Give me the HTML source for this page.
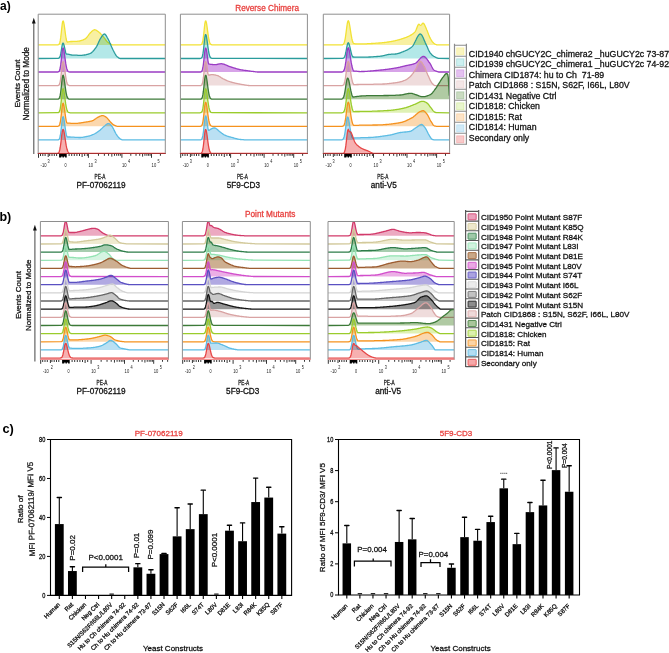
<!DOCTYPE html>
<html><head><meta charset="utf-8"><title>Figure</title><style>html,body{margin:0;padding:0;background:#fff;width:669px;height:653px;overflow:hidden}svg{display:block;will-change:transform}</style></head><body>
<svg width="669" height="653" viewBox="0 0 669 653" font-family='"Liberation Sans", sans-serif'>
<rect width="669" height="653" fill="#fff"/>
<text x="0" y="10.2" font-size="12" font-weight="bold" fill="#000">a)</text>
<text x="-0.6" y="220.6" font-size="12.5" font-weight="bold" fill="#000">b)</text>
<text x="2.4" y="433.4" font-size="12.8" font-weight="bold" fill="#000">c)</text>
<clipPath id="clip14_0"><rect x="38.2" y="14.2" width="127.1" height="139.8"/></clipPath>
<g clip-path="url(#clip14_0)">
<path d="M38.2,44.9 L38.2,44.9 57.7,44.9 58.2,44.8 58.7,44.5 59.2,44 59.7,42.9 60.2,40.9 60.7,37.7 61.2,33.4 61.7,28.6 62.2,24.2 62.7,21.4 63.2,20.9 63.7,22.3 64.2,25 64.7,28.6 65.2,32.4 65.7,36 66.2,39 66.7,41.1 67.2,42 67.7,42 68.2,41.9 68.7,41.8 69.2,41.7 69.7,41.6 70.2,41.6 70.7,41.5 71.2,41.5 71.7,41.5 72.2,41.5 72.7,41.4 73.2,41.4 73.7,41.4 74.2,41.4 74.7,41.4 75.2,41.4 75.7,41.4 76.2,41.3 76.7,41.3 77.2,41.3 77.7,41.2 78.2,41.2 78.7,41.1 79.2,41.1 79.7,41 80.2,40.9 80.7,40.7 81.2,40.6 81.7,40.4 82.2,40.2 82.7,40.1 83.2,39.9 83.7,39.6 84.2,39.4 84.7,39.2 85.2,38.9 85.7,38.5 86.2,38.1 86.7,37.5 87.2,36.9 87.7,36.2 88.2,35.6 88.7,34.9 89.2,34.2 89.7,33.6 90.2,33 90.7,32.4 91.2,32 91.7,31.5 92.2,31.1 92.7,30.7 93.2,30.3 93.7,30 94.2,29.8 94.7,29.7 95.2,29.8 95.7,30 96.2,30.2 96.7,30.5 97.2,30.9 97.7,31.2 98.2,31.6 98.7,31.9 99.2,32.4 99.7,32.8 100.2,33.3 100.7,33.8 101.2,34.4 101.7,34.9 102.2,35.5 102.7,36.1 103.2,36.6 103.7,37.2 104.2,37.8 104.7,38.4 105.2,39.1 105.7,39.8 106.2,40.5 106.7,41.1 107.2,41.7 107.7,42.2 108.2,42.6 108.7,42.9 109.2,43.3 109.7,43.6 110.2,43.9 110.7,44.2 111.2,44.4 111.7,44.6 112.2,44.8 112.7,44.9 165.2,44.9 L165.3,44.9 Z" fill="#f7ef9a" fill-opacity="0.92" stroke="none" style="mix-blend-mode:multiply"/>
<path d="M38.2,44.9 57.7,44.9 58.2,44.8 58.7,44.5 59.2,44 59.7,42.9 60.2,40.9 60.7,37.7 61.2,33.4 61.7,28.6 62.2,24.2 62.7,21.4 63.2,20.9 63.7,22.3 64.2,25 64.7,28.6 65.2,32.4 65.7,36 66.2,39 66.7,41.1 67.2,42 67.7,42 68.2,41.9 68.7,41.8 69.2,41.7 69.7,41.6 70.2,41.6 70.7,41.5 71.2,41.5 71.7,41.5 72.2,41.5 72.7,41.4 73.2,41.4 73.7,41.4 74.2,41.4 74.7,41.4 75.2,41.4 75.7,41.4 76.2,41.3 76.7,41.3 77.2,41.3 77.7,41.2 78.2,41.2 78.7,41.1 79.2,41.1 79.7,41 80.2,40.9 80.7,40.7 81.2,40.6 81.7,40.4 82.2,40.2 82.7,40.1 83.2,39.9 83.7,39.6 84.2,39.4 84.7,39.2 85.2,38.9 85.7,38.5 86.2,38.1 86.7,37.5 87.2,36.9 87.7,36.2 88.2,35.6 88.7,34.9 89.2,34.2 89.7,33.6 90.2,33 90.7,32.4 91.2,32 91.7,31.5 92.2,31.1 92.7,30.7 93.2,30.3 93.7,30 94.2,29.8 94.7,29.7 95.2,29.8 95.7,30 96.2,30.2 96.7,30.5 97.2,30.9 97.7,31.2 98.2,31.6 98.7,31.9 99.2,32.4 99.7,32.8 100.2,33.3 100.7,33.8 101.2,34.4 101.7,34.9 102.2,35.5 102.7,36.1 103.2,36.6 103.7,37.2 104.2,37.8 104.7,38.4 105.2,39.1 105.7,39.8 106.2,40.5 106.7,41.1 107.2,41.7 107.7,42.2 108.2,42.6 108.7,42.9 109.2,43.3 109.7,43.6 110.2,43.9 110.7,44.2 111.2,44.4 111.7,44.6 112.2,44.8 112.7,44.9 165.2,44.9" fill="none" stroke="#f2e234" stroke-width="1.3" stroke-linejoin="round"/>
<path d="M38.2,58.5 L38.2,58.5 57.7,58.4 58.2,58.4 58.7,58.2 59.2,57.9 59.7,57.2 60.2,55.9 60.7,53.9 61.2,51.1 61.7,48 62.2,45.2 62.7,43.4 63.2,43.1 63.7,44 64.2,45.8 64.7,48.1 65.2,50.5 65.7,52.7 66.2,53.9 66.7,54.1 67.2,54.1 67.7,54.1 68.2,54.2 68.7,54.3 69.2,54.4 69.7,54.6 70.2,54.7 70.7,54.8 71.2,54.9 71.7,55 72.2,55.1 72.7,55.1 73.2,55.1 73.7,55.1 74.2,55.1 74.7,55.2 75.2,55.2 75.7,55.2 76.2,55.2 76.7,55.2 77.2,55.2 77.7,55.3 78.2,55.3 78.7,55.3 79.2,55.3 79.7,55.3 80.2,55.3 80.7,55.3 81.2,55.3 81.7,55.3 82.2,55.3 82.7,55.2 83.2,55.2 83.7,55.1 84.2,55 84.7,55 85.2,54.9 85.7,54.8 86.2,54.7 86.7,54.5 87.2,54.4 87.7,54.3 88.2,54.1 88.7,54 89.2,53.8 89.7,53.7 90.2,53.5 90.7,53.2 91.2,52.9 91.7,52.5 92.2,52.1 92.7,51.6 93.2,51 93.7,50.5 94.2,49.8 94.7,49.2 95.2,48.5 95.7,47.9 96.2,47.1 96.7,46.3 97.2,45.4 97.7,44.3 98.2,43.2 98.7,42.1 99.2,41 99.7,39.9 100.2,39 100.7,38.1 101.2,37.4 101.7,36.6 102.2,35.9 102.7,35.2 103.2,34.7 103.7,34.3 104.2,34 104.7,34.1 105.2,34.4 105.7,35 106.2,35.7 106.7,36.5 107.2,37.5 107.7,38.4 108.2,39.2 108.7,40.2 109.2,41.2 109.7,42.4 110.2,43.5 110.7,44.7 111.2,45.9 111.7,47.1 112.2,48.2 112.7,49.3 113.2,50.3 113.7,51.2 114.2,52.2 114.7,53.1 115.2,54 115.7,54.8 116.2,55.6 116.7,56.2 117.2,56.7 117.7,57.1 118.2,57.5 118.7,57.9 119.2,58.2 119.7,58.4 120.2,58.5 165.2,58.5 L165.3,58.5 Z" fill="#ade6e6" fill-opacity="0.92" stroke="none" style="mix-blend-mode:multiply"/>
<path d="M38.2,58.5 57.7,58.4 58.2,58.4 58.7,58.2 59.2,57.9 59.7,57.2 60.2,55.9 60.7,53.9 61.2,51.1 61.7,48 62.2,45.2 62.7,43.4 63.2,43.1 63.7,44 64.2,45.8 64.7,48.1 65.2,50.5 65.7,52.7 66.2,53.9 66.7,54.1 67.2,54.1 67.7,54.1 68.2,54.2 68.7,54.3 69.2,54.4 69.7,54.6 70.2,54.7 70.7,54.8 71.2,54.9 71.7,55 72.2,55.1 72.7,55.1 73.2,55.1 73.7,55.1 74.2,55.1 74.7,55.2 75.2,55.2 75.7,55.2 76.2,55.2 76.7,55.2 77.2,55.2 77.7,55.3 78.2,55.3 78.7,55.3 79.2,55.3 79.7,55.3 80.2,55.3 80.7,55.3 81.2,55.3 81.7,55.3 82.2,55.3 82.7,55.2 83.2,55.2 83.7,55.1 84.2,55 84.7,55 85.2,54.9 85.7,54.8 86.2,54.7 86.7,54.5 87.2,54.4 87.7,54.3 88.2,54.1 88.7,54 89.2,53.8 89.7,53.7 90.2,53.5 90.7,53.2 91.2,52.9 91.7,52.5 92.2,52.1 92.7,51.6 93.2,51 93.7,50.5 94.2,49.8 94.7,49.2 95.2,48.5 95.7,47.9 96.2,47.1 96.7,46.3 97.2,45.4 97.7,44.3 98.2,43.2 98.7,42.1 99.2,41 99.7,39.9 100.2,39 100.7,38.1 101.2,37.4 101.7,36.6 102.2,35.9 102.7,35.2 103.2,34.7 103.7,34.3 104.2,34 104.7,34.1 105.2,34.4 105.7,35 106.2,35.7 106.7,36.5 107.2,37.5 107.7,38.4 108.2,39.2 108.7,40.2 109.2,41.2 109.7,42.4 110.2,43.5 110.7,44.7 111.2,45.9 111.7,47.1 112.2,48.2 112.7,49.3 113.2,50.3 113.7,51.2 114.2,52.2 114.7,53.1 115.2,54 115.7,54.8 116.2,55.6 116.7,56.2 117.2,56.7 117.7,57.1 118.2,57.5 118.7,57.9 119.2,58.2 119.7,58.4 120.2,58.5 165.2,58.5" fill="none" stroke="#2a9c9c" stroke-width="1.3" stroke-linejoin="round"/>
<path d="M38.2,72 L38.2,72 57.7,72 58.2,71.9 58.7,71.7 59.2,71.2 59.7,70.1 60.2,68 60.7,64.9 61.2,60.6 61.7,55.7 62.2,51.3 62.7,48.5 63.2,48 63.7,49.4 64.2,52.2 64.7,55.8 65.2,59.6 65.7,63.2 66.2,66.1 66.7,68.4 67.2,69.9 67.7,70.9 68.2,71.5 68.7,71.8 69.2,71.9 69.7,72 70.2,72 165.2,72 L165.3,72 Z" fill="#d49be6" fill-opacity="0.92" stroke="none" style="mix-blend-mode:multiply"/>
<path d="M38.2,72 57.7,72 58.2,71.9 58.7,71.7 59.2,71.2 59.7,70.1 60.2,68 60.7,64.9 61.2,60.6 61.7,55.7 62.2,51.3 62.7,48.5 63.2,48 63.7,49.4 64.2,52.2 64.7,55.8 65.2,59.6 65.7,63.2 66.2,66.1 66.7,68.4 67.2,69.9 67.7,70.9 68.2,71.5 68.7,71.8 69.2,71.9 69.7,72 70.2,72 165.2,72" fill="none" stroke="#9a3cc4" stroke-width="1.3" stroke-linejoin="round"/>
<path d="M38.2,85.6 L38.2,85.6 57.7,85.6 58.2,85.5 58.7,85.3 59.2,84.7 59.7,83.6 60.2,81.6 60.7,78.5 61.2,74.2 61.7,69.3 62.2,64.9 62.7,62.1 63.2,61.6 63.7,63 64.2,65.8 64.7,69.4 65.2,73.2 65.7,76.7 66.2,79.7 66.7,81.9 67.2,83.5 67.7,84.5 68.2,85 68.7,85.3 69.2,85.5 69.7,85.6 70.2,85.6 165.2,85.6 L165.3,85.6 Z" fill="#eed9d9" fill-opacity="0.92" stroke="none" style="mix-blend-mode:multiply"/>
<path d="M38.2,85.6 57.7,85.6 58.2,85.5 58.7,85.3 59.2,84.7 59.7,83.6 60.2,81.6 60.7,78.5 61.2,74.2 61.7,69.3 62.2,64.9 62.7,62.1 63.2,61.6 63.7,63 64.2,65.8 64.7,69.4 65.2,73.2 65.7,76.7 66.2,79.7 66.7,81.9 67.2,83.5 67.7,84.5 68.2,85 68.7,85.3 69.2,85.5 69.7,85.6 70.2,85.6 165.2,85.6" fill="none" stroke="#d9a3a3" stroke-width="1.3" stroke-linejoin="round"/>
<path d="M38.2,99.2 L38.2,99.2 57.7,99.2 58.2,99.1 58.7,98.8 59.2,98.3 59.7,97.2 60.2,95.2 60.7,92 61.2,87.7 61.7,82.9 62.2,78.5 62.7,75.7 63.2,75.2 63.7,76.6 64.2,79.3 64.7,82.9 65.2,86.7 65.7,90.3 66.2,93.3 66.7,95.5 67.2,97.1 67.7,98 68.2,98.6 68.7,98.9 69.2,99.1 69.7,99.1 70.2,99.2 165.2,99.2 L165.3,99.2 Z" fill="#a9c59b" fill-opacity="0.92" stroke="none" style="mix-blend-mode:multiply"/>
<path d="M38.2,99.2 57.7,99.2 58.2,99.1 58.7,98.8 59.2,98.3 59.7,97.2 60.2,95.2 60.7,92 61.2,87.7 61.7,82.9 62.2,78.5 62.7,75.7 63.2,75.2 63.7,76.6 64.2,79.3 64.7,82.9 65.2,86.7 65.7,90.3 66.2,93.3 66.7,95.5 67.2,97.1 67.7,98 68.2,98.6 68.7,98.9 69.2,99.1 69.7,99.1 70.2,99.2 165.2,99.2" fill="none" stroke="#3c7a38" stroke-width="1.3" stroke-linejoin="round"/>
<path d="M38.2,112.8 L38.2,112.8 57.7,112.7 58.2,112.7 58.7,112.4 59.2,111.9 59.7,110.8 60.2,108.8 60.7,105.6 61.2,101.3 61.7,96.5 62.2,92 62.7,89.2 63.2,88.7 63.7,90.1 64.2,92.9 64.7,96.5 65.2,100.3 65.7,103.9 66.2,106.8 66.7,109.1 67.2,110.6 67.7,111.6 68.2,112.2 68.7,112.5 69.2,112.7 69.7,112.7 70.2,112.8 165.2,112.8 L165.3,112.8 Z" fill="#dcf0ae" fill-opacity="0.92" stroke="none" style="mix-blend-mode:multiply"/>
<path d="M38.2,112.8 57.7,112.7 58.2,112.7 58.7,112.4 59.2,111.9 59.7,110.8 60.2,108.8 60.7,105.6 61.2,101.3 61.7,96.5 62.2,92 62.7,89.2 63.2,88.7 63.7,90.1 64.2,92.9 64.7,96.5 65.2,100.3 65.7,103.9 66.2,106.8 66.7,109.1 67.2,110.6 67.7,111.6 68.2,112.2 68.7,112.5 69.2,112.7 69.7,112.7 70.2,112.8 165.2,112.8" fill="none" stroke="#9acc2c" stroke-width="1.3" stroke-linejoin="round"/>
<path d="M38.2,126.3 L38.2,126.3 57.7,126.3 58.2,126.2 58.7,126 59.2,125.5 59.7,124.4 60.2,122.5 60.7,119.5 61.2,115.4 61.7,110.7 62.2,106.4 62.7,103.8 63.2,103.3 63.7,104.6 64.2,107.3 64.7,110.7 65.2,114.4 65.7,117.8 66.2,120.7 66.7,122.6 67.2,123.1 67.7,123.2 68.2,123.2 68.7,123.2 69.2,123.2 69.7,123.2 70.2,123.2 70.7,123.3 71.2,123.3 71.7,123.3 72.2,123.3 72.7,123.4 73.2,123.4 73.7,123.4 74.2,123.4 74.7,123.4 75.2,123.4 75.7,123.4 76.2,123.4 76.7,123.3 77.2,123.3 77.7,123.3 78.2,123.2 78.7,123.2 79.2,123.1 79.7,123 80.2,123 80.7,122.9 81.2,122.8 81.7,122.7 82.2,122.6 82.7,122.6 83.2,122.5 83.7,122.4 84.2,122.3 84.7,122.2 85.2,122.2 85.7,122.1 86.2,122 86.7,121.9 87.2,121.9 87.7,121.8 88.2,121.7 88.7,121.6 89.2,121.5 89.7,121.5 90.2,121.3 90.7,121.2 91.2,121.1 91.7,121 92.2,120.8 92.7,120.6 93.2,120.4 93.7,120.1 94.2,119.7 94.7,119.4 95.2,119 95.7,118.7 96.2,118.3 96.7,118 97.2,117.7 97.7,117.4 98.2,117.2 98.7,116.9 99.2,116.7 99.7,116.4 100.2,116.2 100.7,116 101.2,115.8 101.7,115.7 102.2,115.6 102.7,115.6 103.2,115.7 103.7,115.8 104.2,116 104.7,116.3 105.2,116.6 105.7,116.9 106.2,117.2 106.7,117.6 107.2,118.1 107.7,118.7 108.2,119.3 108.7,119.9 109.2,120.5 109.7,121.1 110.2,121.7 110.7,122.2 111.2,122.7 111.7,123.2 112.2,123.8 112.7,124.2 113.2,124.6 113.7,125 114.2,125.2 114.7,125.4 115.2,125.7 115.7,125.9 116.2,126 116.7,126.2 117.2,126.3 117.7,126.3 165.2,126.3 L165.3,126.3 Z" fill="#fbd4a6" fill-opacity="0.92" stroke="none" style="mix-blend-mode:multiply"/>
<path d="M38.2,126.3 57.7,126.3 58.2,126.2 58.7,126 59.2,125.5 59.7,124.4 60.2,122.5 60.7,119.5 61.2,115.4 61.7,110.7 62.2,106.4 62.7,103.8 63.2,103.3 63.7,104.6 64.2,107.3 64.7,110.7 65.2,114.4 65.7,117.8 66.2,120.7 66.7,122.6 67.2,123.1 67.7,123.2 68.2,123.2 68.7,123.2 69.2,123.2 69.7,123.2 70.2,123.2 70.7,123.3 71.2,123.3 71.7,123.3 72.2,123.3 72.7,123.4 73.2,123.4 73.7,123.4 74.2,123.4 74.7,123.4 75.2,123.4 75.7,123.4 76.2,123.4 76.7,123.3 77.2,123.3 77.7,123.3 78.2,123.2 78.7,123.2 79.2,123.1 79.7,123 80.2,123 80.7,122.9 81.2,122.8 81.7,122.7 82.2,122.6 82.7,122.6 83.2,122.5 83.7,122.4 84.2,122.3 84.7,122.2 85.2,122.2 85.7,122.1 86.2,122 86.7,121.9 87.2,121.9 87.7,121.8 88.2,121.7 88.7,121.6 89.2,121.5 89.7,121.5 90.2,121.3 90.7,121.2 91.2,121.1 91.7,121 92.2,120.8 92.7,120.6 93.2,120.4 93.7,120.1 94.2,119.7 94.7,119.4 95.2,119 95.7,118.7 96.2,118.3 96.7,118 97.2,117.7 97.7,117.4 98.2,117.2 98.7,116.9 99.2,116.7 99.7,116.4 100.2,116.2 100.7,116 101.2,115.8 101.7,115.7 102.2,115.6 102.7,115.6 103.2,115.7 103.7,115.8 104.2,116 104.7,116.3 105.2,116.6 105.7,116.9 106.2,117.2 106.7,117.6 107.2,118.1 107.7,118.7 108.2,119.3 108.7,119.9 109.2,120.5 109.7,121.1 110.2,121.7 110.7,122.2 111.2,122.7 111.7,123.2 112.2,123.8 112.7,124.2 113.2,124.6 113.7,125 114.2,125.2 114.7,125.4 115.2,125.7 115.7,125.9 116.2,126 116.7,126.2 117.2,126.3 117.7,126.3 165.2,126.3" fill="none" stroke="#f5921e" stroke-width="1.3" stroke-linejoin="round"/>
<path d="M38.2,139.9 L38.2,139.9 57.7,139.9 58.2,139.8 58.7,139.6 59.2,139.1 59.7,138 60.2,136 60.7,133 61.2,128.8 61.7,124.1 62.2,119.8 62.7,117.1 63.2,116.6 63.7,118 64.2,120.7 64.7,124.1 65.2,127.8 65.7,131.3 66.2,134.2 66.7,136.2 67.2,136.9 67.7,137 68.2,137 68.7,137 69.2,137 69.7,137 70.2,137 70.7,137.1 71.2,137.1 71.7,137.1 72.2,137.1 72.7,137.2 73.2,137.2 73.7,137.2 74.2,137.2 74.7,137.3 75.2,137.3 75.7,137.3 76.2,137.4 76.7,137.4 77.2,137.4 77.7,137.4 78.2,137.4 78.7,137.5 79.2,137.5 79.7,137.5 80.2,137.5 80.7,137.5 81.2,137.4 81.7,137.4 82.2,137.3 82.7,137.3 83.2,137.2 83.7,137.1 84.2,137 84.7,136.9 85.2,136.8 85.7,136.7 86.2,136.6 86.7,136.5 87.2,136.4 87.7,136.3 88.2,136.2 88.7,136.1 89.2,136 89.7,135.8 90.2,135.7 90.7,135.5 91.2,135.3 91.7,135.1 92.2,134.9 92.7,134.7 93.2,134.5 93.7,134.3 94.2,134 94.7,133.8 95.2,133.5 95.7,133.2 96.2,132.9 96.7,132.6 97.2,132.2 97.7,131.9 98.2,131.5 98.7,131.1 99.2,130.8 99.7,130.4 100.2,130 100.7,129.5 101.2,129.1 101.7,128.6 102.2,128.1 102.7,127.6 103.2,127.1 103.7,126.7 104.2,126.3 104.7,125.9 105.2,125.4 105.7,125 106.2,124.6 106.7,124.2 107.2,123.9 107.7,123.7 108.2,123.6 108.7,123.6 109.2,123.7 109.7,124 110.2,124.4 110.7,125 111.2,125.5 111.7,126.1 112.2,126.7 112.7,127.5 113.2,128.4 113.7,129.3 114.2,130.4 114.7,131.4 115.2,132.4 115.7,133.3 116.2,134.1 116.7,134.8 117.2,135.6 117.7,136.3 118.2,136.9 118.7,137.5 119.2,138.1 119.7,138.5 120.2,138.8 120.7,139.1 121.2,139.4 121.7,139.6 122.2,139.8 122.7,139.9 165.2,139.9 L165.3,139.9 Z" fill="#b4ddf2" fill-opacity="0.92" stroke="none" style="mix-blend-mode:multiply"/>
<path d="M38.2,139.9 57.7,139.9 58.2,139.8 58.7,139.6 59.2,139.1 59.7,138 60.2,136 60.7,133 61.2,128.8 61.7,124.1 62.2,119.8 62.7,117.1 63.2,116.6 63.7,118 64.2,120.7 64.7,124.1 65.2,127.8 65.7,131.3 66.2,134.2 66.7,136.2 67.2,136.9 67.7,137 68.2,137 68.7,137 69.2,137 69.7,137 70.2,137 70.7,137.1 71.2,137.1 71.7,137.1 72.2,137.1 72.7,137.2 73.2,137.2 73.7,137.2 74.2,137.2 74.7,137.3 75.2,137.3 75.7,137.3 76.2,137.4 76.7,137.4 77.2,137.4 77.7,137.4 78.2,137.4 78.7,137.5 79.2,137.5 79.7,137.5 80.2,137.5 80.7,137.5 81.2,137.4 81.7,137.4 82.2,137.3 82.7,137.3 83.2,137.2 83.7,137.1 84.2,137 84.7,136.9 85.2,136.8 85.7,136.7 86.2,136.6 86.7,136.5 87.2,136.4 87.7,136.3 88.2,136.2 88.7,136.1 89.2,136 89.7,135.8 90.2,135.7 90.7,135.5 91.2,135.3 91.7,135.1 92.2,134.9 92.7,134.7 93.2,134.5 93.7,134.3 94.2,134 94.7,133.8 95.2,133.5 95.7,133.2 96.2,132.9 96.7,132.6 97.2,132.2 97.7,131.9 98.2,131.5 98.7,131.1 99.2,130.8 99.7,130.4 100.2,130 100.7,129.5 101.2,129.1 101.7,128.6 102.2,128.1 102.7,127.6 103.2,127.1 103.7,126.7 104.2,126.3 104.7,125.9 105.2,125.4 105.7,125 106.2,124.6 106.7,124.2 107.2,123.9 107.7,123.7 108.2,123.6 108.7,123.6 109.2,123.7 109.7,124 110.2,124.4 110.7,125 111.2,125.5 111.7,126.1 112.2,126.7 112.7,127.5 113.2,128.4 113.7,129.3 114.2,130.4 114.7,131.4 115.2,132.4 115.7,133.3 116.2,134.1 116.7,134.8 117.2,135.6 117.7,136.3 118.2,136.9 118.7,137.5 119.2,138.1 119.7,138.5 120.2,138.8 120.7,139.1 121.2,139.4 121.7,139.6 122.2,139.8 122.7,139.9 165.2,139.9" fill="none" stroke="#5cbce4" stroke-width="1.3" stroke-linejoin="round"/>
<path d="M38.2,153.5 L38.2,153.5 56.7,153.5 57.2,153.4 57.7,153.3 58.2,153.1 58.7,152.6 59.2,151.7 59.7,150 60.2,147.5 60.7,144.1 61.2,140 61.7,135.6 62.2,132 62.7,129.8 63.2,129.4 63.7,130.5 64.2,132.7 64.7,135.7 65.2,139 65.7,142.3 66.2,145.4 66.7,147.9 67.2,149.8 67.7,151.2 68.2,152.1 68.7,152.7 69.2,153.1 69.7,153.3 70.2,153.4 70.7,153.5 165.2,153.5 L165.3,153.5 Z" fill="#f6a9a9" fill-opacity="0.92" stroke="none" style="mix-blend-mode:multiply"/>
<path d="M38.2,153.5 56.7,153.5 57.2,153.4 57.7,153.3 58.2,153.1 58.7,152.6 59.2,151.7 59.7,150 60.2,147.5 60.7,144.1 61.2,140 61.7,135.6 62.2,132 62.7,129.8 63.2,129.4 63.7,130.5 64.2,132.7 64.7,135.7 65.2,139 65.7,142.3 66.2,145.4 66.7,147.9 67.2,149.8 67.7,151.2 68.2,152.1 68.7,152.7 69.2,153.1 69.7,153.3 70.2,153.4 70.7,153.5 165.2,153.5" fill="none" stroke="#e64646" stroke-width="1.3" stroke-linejoin="round"/>
</g>
<path d="M38.2,153.5 V14.2 H165.3 V153.5" fill="none" stroke="#8e8e8e" stroke-width="1"/>
<path d="M37.7,153.5 H165.8" fill="none" stroke="#a83030" stroke-width="1.2"/>
<clipPath id="clip14_1"><rect x="180.4" y="14.2" width="127" height="139.8"/></clipPath>
<g clip-path="url(#clip14_1)">
<path d="M180.4,44.9 L180.4,44.9 199.9,44.9 200.4,44.8 200.9,44.7 201.4,44.5 201.9,43.8 202.4,42.6 202.9,40.4 203.4,36.9 203.9,32.5 204.4,27.6 204.9,23.4 205.4,21.1 205.9,21 206.4,22.7 206.9,25.7 207.4,29.4 207.9,33.2 208.4,36.7 208.9,39.5 209.4,41.6 209.9,43 210.4,43.9 210.9,44.4 211.4,44.7 211.9,44.8 212.4,44.9 307.4,44.9 L307.4,44.9 Z" fill="#f7ef9a" fill-opacity="0.92" stroke="none" style="mix-blend-mode:multiply"/>
<path d="M180.4,44.9 199.9,44.9 200.4,44.8 200.9,44.7 201.4,44.5 201.9,43.8 202.4,42.6 202.9,40.4 203.4,36.9 203.9,32.5 204.4,27.6 204.9,23.4 205.4,21.1 205.9,21 206.4,22.7 206.9,25.7 207.4,29.4 207.9,33.2 208.4,36.7 208.9,39.5 209.4,41.6 209.9,43 210.4,43.9 210.9,44.4 211.4,44.7 211.9,44.8 212.4,44.9 307.4,44.9" fill="none" stroke="#f2e234" stroke-width="1.3" stroke-linejoin="round"/>
<path d="M180.4,58.5 L180.4,58.5 199.9,58.5 200.4,58.4 200.9,58.3 201.4,58 201.9,57.4 202.4,56.2 202.9,53.9 203.4,50.5 203.9,46.1 204.4,41.2 204.9,37 205.4,34.6 205.9,34.6 206.4,36.3 206.9,39.3 207.4,43 207.9,46.8 208.4,50.2 208.9,53.1 209.4,55.1 209.9,56.6 210.4,57.5 210.9,58 211.4,58.2 211.9,58.4 212.4,58.4 307.4,58.5 L307.4,58.5 Z" fill="#ade6e6" fill-opacity="0.92" stroke="none" style="mix-blend-mode:multiply"/>
<path d="M180.4,58.5 199.9,58.5 200.4,58.4 200.9,58.3 201.4,58 201.9,57.4 202.4,56.2 202.9,53.9 203.4,50.5 203.9,46.1 204.4,41.2 204.9,37 205.4,34.6 205.9,34.6 206.4,36.3 206.9,39.3 207.4,43 207.9,46.8 208.4,50.2 208.9,53.1 209.4,55.1 209.9,56.6 210.4,57.5 210.9,58 211.4,58.2 211.9,58.4 212.4,58.4 307.4,58.5" fill="none" stroke="#2a9c9c" stroke-width="1.3" stroke-linejoin="round"/>
<path d="M180.4,72 L180.4,72 199.9,72 200.4,72 200.9,71.9 201.4,71.6 201.9,71 202.4,69.7 202.9,67.5 203.4,64.1 203.9,59.6 204.4,54.8 204.9,50.6 205.4,48.2 205.9,48.2 206.4,49.9 206.9,52.9 207.4,56.5 207.9,60.3 208.4,63.4 208.9,64.2 209.4,64.2 209.9,64.2 210.4,64.3 210.9,64.3 211.4,64.4 211.9,64.4 212.4,64.5 212.9,64.6 213.4,64.6 213.9,64.7 214.4,64.7 214.9,64.7 215.4,64.7 215.9,64.6 216.4,64.6 216.9,64.5 217.4,64.4 217.9,64.2 218.4,64.1 218.9,64 219.4,63.9 219.9,63.8 220.4,63.8 220.9,63.7 221.4,63.7 221.9,63.8 222.4,63.9 222.9,64 223.4,64.1 223.9,64.2 224.4,64.4 224.9,64.6 225.4,64.8 225.9,65 226.4,65.2 226.9,65.4 227.4,65.7 227.9,65.9 228.4,66.1 228.9,66.3 229.4,66.5 229.9,66.6 230.4,66.8 230.9,66.9 231.4,67.1 231.9,67.3 232.4,67.4 232.9,67.6 233.4,67.8 233.9,67.9 234.4,68.1 234.9,68.2 235.4,68.4 235.9,68.5 236.4,68.7 236.9,68.8 237.4,69 237.9,69.1 238.4,69.2 238.9,69.4 239.4,69.5 239.9,69.6 240.4,69.7 240.9,69.8 241.4,69.9 241.9,69.9 242.4,70 242.9,70.1 243.4,70.2 243.9,70.3 244.4,70.3 244.9,70.4 245.4,70.5 245.9,70.5 246.4,70.6 246.9,70.7 247.4,70.7 247.9,70.8 248.4,70.9 248.9,70.9 249.4,71 249.9,71.1 250.4,71.1 250.9,71.2 251.4,71.3 251.9,71.3 252.4,71.4 252.9,71.4 253.4,71.5 253.9,71.6 254.4,71.6 254.9,71.7 255.4,71.8 255.9,71.8 256.4,71.9 256.9,71.9 257.4,72 257.9,72 307.4,72 L307.4,72 Z" fill="#d49be6" fill-opacity="0.92" stroke="none" style="mix-blend-mode:multiply"/>
<path d="M180.4,72 199.9,72 200.4,72 200.9,71.9 201.4,71.6 201.9,71 202.4,69.7 202.9,67.5 203.4,64.1 203.9,59.6 204.4,54.8 204.9,50.6 205.4,48.2 205.9,48.2 206.4,49.9 206.9,52.9 207.4,56.5 207.9,60.3 208.4,63.4 208.9,64.2 209.4,64.2 209.9,64.2 210.4,64.3 210.9,64.3 211.4,64.4 211.9,64.4 212.4,64.5 212.9,64.6 213.4,64.6 213.9,64.7 214.4,64.7 214.9,64.7 215.4,64.7 215.9,64.6 216.4,64.6 216.9,64.5 217.4,64.4 217.9,64.2 218.4,64.1 218.9,64 219.4,63.9 219.9,63.8 220.4,63.8 220.9,63.7 221.4,63.7 221.9,63.8 222.4,63.9 222.9,64 223.4,64.1 223.9,64.2 224.4,64.4 224.9,64.6 225.4,64.8 225.9,65 226.4,65.2 226.9,65.4 227.4,65.7 227.9,65.9 228.4,66.1 228.9,66.3 229.4,66.5 229.9,66.6 230.4,66.8 230.9,66.9 231.4,67.1 231.9,67.3 232.4,67.4 232.9,67.6 233.4,67.8 233.9,67.9 234.4,68.1 234.9,68.2 235.4,68.4 235.9,68.5 236.4,68.7 236.9,68.8 237.4,69 237.9,69.1 238.4,69.2 238.9,69.4 239.4,69.5 239.9,69.6 240.4,69.7 240.9,69.8 241.4,69.9 241.9,69.9 242.4,70 242.9,70.1 243.4,70.2 243.9,70.3 244.4,70.3 244.9,70.4 245.4,70.5 245.9,70.5 246.4,70.6 246.9,70.7 247.4,70.7 247.9,70.8 248.4,70.9 248.9,70.9 249.4,71 249.9,71.1 250.4,71.1 250.9,71.2 251.4,71.3 251.9,71.3 252.4,71.4 252.9,71.4 253.4,71.5 253.9,71.6 254.4,71.6 254.9,71.7 255.4,71.8 255.9,71.8 256.4,71.9 256.9,71.9 257.4,72 257.9,72 307.4,72" fill="none" stroke="#9a3cc4" stroke-width="1.3" stroke-linejoin="round"/>
<path d="M180.4,85.6 L180.4,85.6 199.9,85.6 200.4,85.6 200.9,85.5 201.4,85.2 201.9,84.6 202.4,83.3 202.9,81.1 203.4,77.7 203.9,73.2 204.4,68.3 204.9,64.2 205.4,61.8 205.9,61.7 206.4,63.5 206.9,66.4 207.4,70.1 207.9,73.6 208.4,75.1 208.9,75.1 209.4,75 209.9,74.9 210.4,74.8 210.9,74.7 211.4,74.6 211.9,74.6 212.4,74.6 212.9,74.6 213.4,74.7 213.9,74.8 214.4,74.8 214.9,74.9 215.4,75 215.9,75.2 216.4,75.3 216.9,75.4 217.4,75.6 217.9,75.7 218.4,75.9 218.9,76.2 219.4,76.5 219.9,76.8 220.4,77.1 220.9,77.5 221.4,77.8 221.9,78.1 222.4,78.4 222.9,78.7 223.4,79 223.9,79.2 224.4,79.4 224.9,79.7 225.4,79.9 225.9,80.1 226.4,80.3 226.9,80.6 227.4,80.8 227.9,81 228.4,81.2 228.9,81.3 229.4,81.5 229.9,81.7 230.4,81.8 230.9,82 231.4,82.1 231.9,82.3 232.4,82.4 232.9,82.6 233.4,82.7 233.9,82.8 234.4,82.9 234.9,83.1 235.4,83.2 235.9,83.3 236.4,83.4 236.9,83.5 237.4,83.6 237.9,83.7 238.4,83.8 238.9,83.9 239.4,84 239.9,84.1 240.4,84.2 240.9,84.3 241.4,84.4 241.9,84.5 242.4,84.6 242.9,84.7 243.4,84.7 243.9,84.8 244.4,84.9 244.9,85 245.4,85.1 245.9,85.1 246.4,85.2 246.9,85.3 247.4,85.3 247.9,85.4 248.4,85.5 248.9,85.5 249.4,85.6 249.9,85.6 307.4,85.6 L307.4,85.6 Z" fill="#eed9d9" fill-opacity="0.92" stroke="none" style="mix-blend-mode:multiply"/>
<path d="M180.4,85.6 199.9,85.6 200.4,85.6 200.9,85.5 201.4,85.2 201.9,84.6 202.4,83.3 202.9,81.1 203.4,77.7 203.9,73.2 204.4,68.3 204.9,64.2 205.4,61.8 205.9,61.7 206.4,63.5 206.9,66.4 207.4,70.1 207.9,73.6 208.4,75.1 208.9,75.1 209.4,75 209.9,74.9 210.4,74.8 210.9,74.7 211.4,74.6 211.9,74.6 212.4,74.6 212.9,74.6 213.4,74.7 213.9,74.8 214.4,74.8 214.9,74.9 215.4,75 215.9,75.2 216.4,75.3 216.9,75.4 217.4,75.6 217.9,75.7 218.4,75.9 218.9,76.2 219.4,76.5 219.9,76.8 220.4,77.1 220.9,77.5 221.4,77.8 221.9,78.1 222.4,78.4 222.9,78.7 223.4,79 223.9,79.2 224.4,79.4 224.9,79.7 225.4,79.9 225.9,80.1 226.4,80.3 226.9,80.6 227.4,80.8 227.9,81 228.4,81.2 228.9,81.3 229.4,81.5 229.9,81.7 230.4,81.8 230.9,82 231.4,82.1 231.9,82.3 232.4,82.4 232.9,82.6 233.4,82.7 233.9,82.8 234.4,82.9 234.9,83.1 235.4,83.2 235.9,83.3 236.4,83.4 236.9,83.5 237.4,83.6 237.9,83.7 238.4,83.8 238.9,83.9 239.4,84 239.9,84.1 240.4,84.2 240.9,84.3 241.4,84.4 241.9,84.5 242.4,84.6 242.9,84.7 243.4,84.7 243.9,84.8 244.4,84.9 244.9,85 245.4,85.1 245.9,85.1 246.4,85.2 246.9,85.3 247.4,85.3 247.9,85.4 248.4,85.5 248.9,85.5 249.4,85.6 249.9,85.6 307.4,85.6" fill="none" stroke="#d9a3a3" stroke-width="1.3" stroke-linejoin="round"/>
<path d="M180.4,99.2 L180.4,99.2 199.9,99.2 200.4,99.1 200.9,99 201.4,98.8 201.9,98.1 202.4,96.9 202.9,94.7 203.4,91.2 203.9,86.8 204.4,81.9 204.9,77.7 205.4,75.4 205.9,75.3 206.4,77 206.9,80 207.4,83.7 207.9,87.5 208.4,91 208.9,93.8 209.4,95.9 209.9,97.3 210.4,98.2 210.9,98.7 211.4,99 211.9,99.1 212.4,99.2 307.4,99.2 L307.4,99.2 Z" fill="#a9c59b" fill-opacity="0.92" stroke="none" style="mix-blend-mode:multiply"/>
<path d="M180.4,99.2 199.9,99.2 200.4,99.1 200.9,99 201.4,98.8 201.9,98.1 202.4,96.9 202.9,94.7 203.4,91.2 203.9,86.8 204.4,81.9 204.9,77.7 205.4,75.4 205.9,75.3 206.4,77 206.9,80 207.4,83.7 207.9,87.5 208.4,91 208.9,93.8 209.4,95.9 209.9,97.3 210.4,98.2 210.9,98.7 211.4,99 211.9,99.1 212.4,99.2 307.4,99.2" fill="none" stroke="#3c7a38" stroke-width="1.3" stroke-linejoin="round"/>
<path d="M180.4,112.8 L180.4,112.8 199.9,112.8 200.4,112.7 200.9,112.6 201.4,112.3 201.9,111.7 202.4,110.5 202.9,108.2 203.4,104.8 203.9,100.4 204.4,95.5 204.9,91.3 205.4,88.9 205.9,88.9 206.4,90.6 206.9,93.6 207.4,97.3 207.9,101.1 208.4,104.5 208.9,107.4 209.4,109.4 209.9,110.9 210.4,111.8 210.9,112.3 211.4,112.5 211.9,112.7 212.4,112.7 307.4,112.8 L307.4,112.8 Z" fill="#dcf0ae" fill-opacity="0.92" stroke="none" style="mix-blend-mode:multiply"/>
<path d="M180.4,112.8 199.9,112.8 200.4,112.7 200.9,112.6 201.4,112.3 201.9,111.7 202.4,110.5 202.9,108.2 203.4,104.8 203.9,100.4 204.4,95.5 204.9,91.3 205.4,88.9 205.9,88.9 206.4,90.6 206.9,93.6 207.4,97.3 207.9,101.1 208.4,104.5 208.9,107.4 209.4,109.4 209.9,110.9 210.4,111.8 210.9,112.3 211.4,112.5 211.9,112.7 212.4,112.7 307.4,112.8" fill="none" stroke="#9acc2c" stroke-width="1.3" stroke-linejoin="round"/>
<path d="M180.4,126.3 L180.4,126.3 199.9,126.3 200.4,126.3 200.9,126.2 201.4,125.9 201.9,125.3 202.4,124 202.9,121.8 203.4,118.4 203.9,113.9 204.4,109.1 204.9,104.9 205.4,102.5 205.9,102.5 206.4,104.2 206.9,107.2 207.4,110.8 207.9,114.6 208.4,118.1 208.9,120.9 209.4,123 209.9,124.4 210.4,125.3 210.9,125.8 211.4,126.1 211.9,126.2 212.4,126.3 307.4,126.3 L307.4,126.3 Z" fill="#fbd4a6" fill-opacity="0.92" stroke="none" style="mix-blend-mode:multiply"/>
<path d="M180.4,126.3 199.9,126.3 200.4,126.3 200.9,126.2 201.4,125.9 201.9,125.3 202.4,124 202.9,121.8 203.4,118.4 203.9,113.9 204.4,109.1 204.9,104.9 205.4,102.5 205.9,102.5 206.4,104.2 206.9,107.2 207.4,110.8 207.9,114.6 208.4,118.1 208.9,120.9 209.4,123 209.9,124.4 210.4,125.3 210.9,125.8 211.4,126.1 211.9,126.2 212.4,126.3 307.4,126.3" fill="none" stroke="#f5921e" stroke-width="1.3" stroke-linejoin="round"/>
<path d="M180.4,139.9 L180.4,139.9 199.9,139.9 200.4,139.9 200.9,139.8 201.4,139.5 201.9,138.9 202.4,137.6 202.9,135.4 203.4,132 203.9,127.5 204.4,122.6 204.9,118.5 205.4,116.1 205.9,116 206.4,117.8 206.9,120.7 207.4,124.4 207.9,128.1 208.4,130.3 208.9,130.4 209.4,130.1 209.9,129.8 210.4,129.4 210.9,129.1 211.4,128.8 211.9,128.6 212.4,128.4 212.9,128.2 213.4,128 213.9,128 214.4,127.9 214.9,128 215.4,128.2 215.9,128.4 216.4,128.8 216.9,129.1 217.4,129.6 217.9,130 218.4,130.5 218.9,130.9 219.4,131.4 219.9,131.8 220.4,132.1 220.9,132.5 221.4,132.9 221.9,133.3 222.4,133.6 222.9,134 223.4,134.4 223.9,134.7 224.4,135 224.9,135.2 225.4,135.4 225.9,135.6 226.4,135.8 226.9,136 227.4,136.2 227.9,136.3 228.4,136.5 228.9,136.6 229.4,136.8 229.9,136.9 230.4,137 230.9,137.2 231.4,137.3 231.9,137.4 232.4,137.6 232.9,137.7 233.4,137.9 233.9,138 234.4,138.2 234.9,138.3 235.4,138.5 235.9,138.6 236.4,138.7 236.9,138.9 237.4,139 237.9,139.1 238.4,139.2 238.9,139.3 239.4,139.4 239.9,139.4 240.4,139.5 240.9,139.5 241.4,139.6 241.9,139.6 242.4,139.7 242.9,139.7 243.4,139.7 243.9,139.8 244.4,139.8 244.9,139.8 245.4,139.9 245.9,139.9 307.4,139.9 L307.4,139.9 Z" fill="#b4ddf2" fill-opacity="0.92" stroke="none" style="mix-blend-mode:multiply"/>
<path d="M180.4,139.9 199.9,139.9 200.4,139.9 200.9,139.8 201.4,139.5 201.9,138.9 202.4,137.6 202.9,135.4 203.4,132 203.9,127.5 204.4,122.6 204.9,118.5 205.4,116.1 205.9,116 206.4,117.8 206.9,120.7 207.4,124.4 207.9,128.1 208.4,130.3 208.9,130.4 209.4,130.1 209.9,129.8 210.4,129.4 210.9,129.1 211.4,128.8 211.9,128.6 212.4,128.4 212.9,128.2 213.4,128 213.9,128 214.4,127.9 214.9,128 215.4,128.2 215.9,128.4 216.4,128.8 216.9,129.1 217.4,129.6 217.9,130 218.4,130.5 218.9,130.9 219.4,131.4 219.9,131.8 220.4,132.1 220.9,132.5 221.4,132.9 221.9,133.3 222.4,133.6 222.9,134 223.4,134.4 223.9,134.7 224.4,135 224.9,135.2 225.4,135.4 225.9,135.6 226.4,135.8 226.9,136 227.4,136.2 227.9,136.3 228.4,136.5 228.9,136.6 229.4,136.8 229.9,136.9 230.4,137 230.9,137.2 231.4,137.3 231.9,137.4 232.4,137.6 232.9,137.7 233.4,137.9 233.9,138 234.4,138.2 234.9,138.3 235.4,138.5 235.9,138.6 236.4,138.7 236.9,138.9 237.4,139 237.9,139.1 238.4,139.2 238.9,139.3 239.4,139.4 239.9,139.4 240.4,139.5 240.9,139.5 241.4,139.6 241.9,139.6 242.4,139.7 242.9,139.7 243.4,139.7 243.9,139.8 244.4,139.8 244.9,139.8 245.4,139.9 245.9,139.9 307.4,139.9" fill="none" stroke="#5cbce4" stroke-width="1.3" stroke-linejoin="round"/>
<path d="M180.4,153.5 L180.4,153.5 199.9,153.5 200.4,153.4 200.9,153.3 201.4,153.1 201.9,152.4 202.4,151.2 202.9,149 203.4,145.5 203.9,141.1 204.4,136.2 204.9,132 205.4,129.7 205.9,129.6 206.4,131.3 206.9,134.3 207.4,138 207.9,141.8 208.4,145.3 208.9,148.1 209.4,150.2 209.9,151.6 210.4,152.5 210.9,153 211.4,153.3 211.9,153.4 212.4,153.5 307.4,153.5 L307.4,153.5 Z" fill="#f6a9a9" fill-opacity="0.92" stroke="none" style="mix-blend-mode:multiply"/>
<path d="M180.4,153.5 199.9,153.5 200.4,153.4 200.9,153.3 201.4,153.1 201.9,152.4 202.4,151.2 202.9,149 203.4,145.5 203.9,141.1 204.4,136.2 204.9,132 205.4,129.7 205.9,129.6 206.4,131.3 206.9,134.3 207.4,138 207.9,141.8 208.4,145.3 208.9,148.1 209.4,150.2 209.9,151.6 210.4,152.5 210.9,153 211.4,153.3 211.9,153.4 212.4,153.5 307.4,153.5" fill="none" stroke="#e64646" stroke-width="1.3" stroke-linejoin="round"/>
</g>
<path d="M180.4,153.5 V14.2 H307.4 V153.5" fill="none" stroke="#8e8e8e" stroke-width="1"/>
<path d="M179.9,153.5 H307.9" fill="none" stroke="#a83030" stroke-width="1.2"/>
<clipPath id="clip14_2"><rect x="323.3" y="14.2" width="126.3" height="139.8"/></clipPath>
<g clip-path="url(#clip14_2)">
<path d="M323.3,44.9 L323.3,44.9 341.3,44.9 341.8,44.8 342.3,44.8 342.8,44.6 343.3,44.2 343.8,43.6 344.3,42.4 344.8,40.6 345.3,38.1 345.8,34.7 346.3,30.8 346.8,26.9 347.3,23.5 347.8,21.3 348.3,20.7 348.8,21.5 349.3,23.4 349.8,26.2 350.3,29.4 350.8,32.7 351.3,35.7 351.8,38.4 352.3,40.5 352.8,42.1 353.3,43.1 353.8,43.6 354.3,43.7 354.8,43.7 355.3,43.8 355.8,43.8 356.3,43.8 356.8,43.8 357.3,43.9 357.8,43.9 358.3,43.9 358.8,43.9 359.3,43.9 359.8,43.9 360.3,43.9 360.8,43.9 361.3,43.9 361.8,43.9 362.3,43.9 362.8,43.9 363.3,43.9 363.8,43.9 364.3,43.9 364.8,43.8 365.3,43.8 365.8,43.8 366.3,43.8 366.8,43.8 367.3,43.7 367.8,43.7 368.3,43.7 368.8,43.7 369.3,43.7 369.8,43.6 370.3,43.6 370.8,43.6 371.3,43.5 371.8,43.5 372.3,43.5 372.8,43.4 373.3,43.4 373.8,43.4 374.3,43.3 374.8,43.3 375.3,43.3 375.8,43.2 376.3,43.2 376.8,43.2 377.3,43.1 377.8,43.1 378.3,43.1 378.8,43 379.3,43 379.8,43 380.3,42.9 380.8,42.9 381.3,42.8 381.8,42.8 382.3,42.7 382.8,42.7 383.3,42.6 383.8,42.6 384.3,42.5 384.8,42.5 385.3,42.4 385.8,42.3 386.3,42.3 386.8,42.2 387.3,42.1 387.8,42 388.3,42 388.8,41.9 389.3,41.8 389.8,41.7 390.3,41.7 390.8,41.6 391.3,41.5 391.8,41.4 392.3,41.3 392.8,41.2 393.3,41.1 393.8,41 394.3,40.9 394.8,40.8 395.3,40.7 395.8,40.5 396.3,40.4 396.8,40.3 397.3,40.2 397.8,40 398.3,39.9 398.8,39.8 399.3,39.6 399.8,39.5 400.3,39.3 400.8,39.2 401.3,39 401.8,38.9 402.3,38.7 402.8,38.6 403.3,38.4 403.8,38.2 404.3,38 404.8,37.9 405.3,37.7 405.8,37.5 406.3,37.3 406.8,37.1 407.3,36.9 407.8,36.7 408.3,36.5 408.8,36.2 409.3,36 409.8,35.7 410.3,35.4 410.8,35.1 411.3,34.9 411.8,34.5 412.3,34.2 412.8,33.9 413.3,33.5 413.8,33.1 414.3,32.6 414.8,32.1 415.3,31.4 415.8,30.5 416.3,29.3 416.8,28 417.3,26.7 417.8,25.5 418.3,24.7 418.8,24.2 419.3,24.3 419.8,24.9 420.3,25.4 420.8,25.4 421.3,24.9 421.8,24.3 422.3,23.6 422.8,23.2 423.3,23.2 423.8,23.6 424.3,24.4 424.8,25.3 425.3,26.4 425.8,27.6 426.3,28.8 426.8,30 427.3,31.1 427.8,32.4 428.3,33.7 428.8,35 429.3,36.2 429.8,37.4 430.3,38.4 430.8,39.3 431.3,40.2 431.8,41 432.3,41.7 432.8,42.2 433.3,42.7 433.8,43.2 434.3,43.6 434.8,43.9 435.3,44.3 435.8,44.5 436.3,44.7 436.8,44.9 449.3,44.9 L449.6,44.9 Z" fill="#f7ef9a" fill-opacity="0.92" stroke="none" style="mix-blend-mode:multiply"/>
<path d="M323.3,44.9 341.3,44.9 341.8,44.8 342.3,44.8 342.8,44.6 343.3,44.2 343.8,43.6 344.3,42.4 344.8,40.6 345.3,38.1 345.8,34.7 346.3,30.8 346.8,26.9 347.3,23.5 347.8,21.3 348.3,20.7 348.8,21.5 349.3,23.4 349.8,26.2 350.3,29.4 350.8,32.7 351.3,35.7 351.8,38.4 352.3,40.5 352.8,42.1 353.3,43.1 353.8,43.6 354.3,43.7 354.8,43.7 355.3,43.8 355.8,43.8 356.3,43.8 356.8,43.8 357.3,43.9 357.8,43.9 358.3,43.9 358.8,43.9 359.3,43.9 359.8,43.9 360.3,43.9 360.8,43.9 361.3,43.9 361.8,43.9 362.3,43.9 362.8,43.9 363.3,43.9 363.8,43.9 364.3,43.9 364.8,43.8 365.3,43.8 365.8,43.8 366.3,43.8 366.8,43.8 367.3,43.7 367.8,43.7 368.3,43.7 368.8,43.7 369.3,43.7 369.8,43.6 370.3,43.6 370.8,43.6 371.3,43.5 371.8,43.5 372.3,43.5 372.8,43.4 373.3,43.4 373.8,43.4 374.3,43.3 374.8,43.3 375.3,43.3 375.8,43.2 376.3,43.2 376.8,43.2 377.3,43.1 377.8,43.1 378.3,43.1 378.8,43 379.3,43 379.8,43 380.3,42.9 380.8,42.9 381.3,42.8 381.8,42.8 382.3,42.7 382.8,42.7 383.3,42.6 383.8,42.6 384.3,42.5 384.8,42.5 385.3,42.4 385.8,42.3 386.3,42.3 386.8,42.2 387.3,42.1 387.8,42 388.3,42 388.8,41.9 389.3,41.8 389.8,41.7 390.3,41.7 390.8,41.6 391.3,41.5 391.8,41.4 392.3,41.3 392.8,41.2 393.3,41.1 393.8,41 394.3,40.9 394.8,40.8 395.3,40.7 395.8,40.5 396.3,40.4 396.8,40.3 397.3,40.2 397.8,40 398.3,39.9 398.8,39.8 399.3,39.6 399.8,39.5 400.3,39.3 400.8,39.2 401.3,39 401.8,38.9 402.3,38.7 402.8,38.6 403.3,38.4 403.8,38.2 404.3,38 404.8,37.9 405.3,37.7 405.8,37.5 406.3,37.3 406.8,37.1 407.3,36.9 407.8,36.7 408.3,36.5 408.8,36.2 409.3,36 409.8,35.7 410.3,35.4 410.8,35.1 411.3,34.9 411.8,34.5 412.3,34.2 412.8,33.9 413.3,33.5 413.8,33.1 414.3,32.6 414.8,32.1 415.3,31.4 415.8,30.5 416.3,29.3 416.8,28 417.3,26.7 417.8,25.5 418.3,24.7 418.8,24.2 419.3,24.3 419.8,24.9 420.3,25.4 420.8,25.4 421.3,24.9 421.8,24.3 422.3,23.6 422.8,23.2 423.3,23.2 423.8,23.6 424.3,24.4 424.8,25.3 425.3,26.4 425.8,27.6 426.3,28.8 426.8,30 427.3,31.1 427.8,32.4 428.3,33.7 428.8,35 429.3,36.2 429.8,37.4 430.3,38.4 430.8,39.3 431.3,40.2 431.8,41 432.3,41.7 432.8,42.2 433.3,42.7 433.8,43.2 434.3,43.6 434.8,43.9 435.3,44.3 435.8,44.5 436.3,44.7 436.8,44.9 449.3,44.9" fill="none" stroke="#f2e234" stroke-width="1.3" stroke-linejoin="round"/>
<path d="M323.3,58.5 L323.3,58.5 342.3,58.4 342.8,58.4 343.3,58.2 343.8,57.9 344.3,57.3 344.8,56.2 345.3,54.7 345.8,52.5 346.3,49.9 346.8,47.2 347.3,44.8 347.8,43.2 348.3,42.7 348.8,43.3 349.3,44.7 349.8,46.6 350.3,48.8 350.8,51 351.3,53.1 351.8,54.7 352.3,56 352.8,56.9 353.3,57 353.8,57 354.3,57.1 354.8,57.1 355.3,57.1 355.8,57.1 356.3,57.1 356.8,57.2 357.3,57.2 357.8,57.2 358.3,57.2 358.8,57.2 359.3,57.2 359.8,57.2 360.3,57.2 360.8,57.2 361.3,57.2 361.8,57.2 362.3,57.2 362.8,57.2 363.3,57.2 363.8,57.2 364.3,57.2 364.8,57.2 365.3,57.2 365.8,57.2 366.3,57.1 366.8,57.1 367.3,57.1 367.8,57.1 368.3,57.1 368.8,57 369.3,57 369.8,57 370.3,57 370.8,56.9 371.3,56.9 371.8,56.9 372.3,56.8 372.8,56.8 373.3,56.8 373.8,56.7 374.3,56.7 374.8,56.7 375.3,56.6 375.8,56.6 376.3,56.6 376.8,56.5 377.3,56.5 377.8,56.4 378.3,56.4 378.8,56.4 379.3,56.3 379.8,56.3 380.3,56.2 380.8,56.2 381.3,56.1 381.8,56 382.3,55.9 382.8,55.8 383.3,55.7 383.8,55.6 384.3,55.5 384.8,55.3 385.3,55.2 385.8,55.1 386.3,55 386.8,54.8 387.3,54.7 387.8,54.6 388.3,54.5 388.8,54.4 389.3,54.4 389.8,54.3 390.3,54.3 390.8,54.3 391.3,54.2 391.8,54.2 392.3,54.2 392.8,54.2 393.3,54.2 393.8,54.1 394.3,54.1 394.8,54.1 395.3,54 395.8,54 396.3,53.9 396.8,53.8 397.3,53.7 397.8,53.6 398.3,53.4 398.8,53.3 399.3,53.1 399.8,53 400.3,52.8 400.8,52.6 401.3,52.4 401.8,52.2 402.3,52 402.8,51.8 403.3,51.6 403.8,51.4 404.3,51.2 404.8,51 405.3,50.8 405.8,50.5 406.3,50.3 406.8,50.1 407.3,49.8 407.8,49.6 408.3,49.3 408.8,49 409.3,48.7 409.8,48.4 410.3,48 410.8,47.7 411.3,47.3 411.8,46.9 412.3,46.4 412.8,45.8 413.3,45.1 413.8,44.2 414.3,43.3 414.8,42.3 415.3,41.3 415.8,40.2 416.3,39.2 416.8,38.1 417.3,37.2 417.8,36.3 418.3,35.6 418.8,34.9 419.3,34.4 419.8,34.1 420.3,34 420.8,34.2 421.3,34.6 421.8,35.2 422.3,36 422.8,37 423.3,38.1 423.8,39.2 424.3,40.4 424.8,41.6 425.3,42.8 425.8,43.9 426.3,44.9 426.8,46 427.3,47.1 427.8,48.2 428.3,49.4 428.8,50.5 429.3,51.4 429.8,52.3 430.3,53 430.8,53.6 431.3,54.2 431.8,54.8 432.3,55.3 432.8,55.6 433.3,56 433.8,56.3 434.3,56.5 434.8,56.8 435.3,57.1 435.8,57.3 436.3,57.6 436.8,57.8 437.3,58 437.8,58.1 438.3,58.3 438.8,58.4 439.3,58.4 449.3,58.5 L449.6,58.5 Z" fill="#ade6e6" fill-opacity="0.92" stroke="none" style="mix-blend-mode:multiply"/>
<path d="M323.3,58.5 342.3,58.4 342.8,58.4 343.3,58.2 343.8,57.9 344.3,57.3 344.8,56.2 345.3,54.7 345.8,52.5 346.3,49.9 346.8,47.2 347.3,44.8 347.8,43.2 348.3,42.7 348.8,43.3 349.3,44.7 349.8,46.6 350.3,48.8 350.8,51 351.3,53.1 351.8,54.7 352.3,56 352.8,56.9 353.3,57 353.8,57 354.3,57.1 354.8,57.1 355.3,57.1 355.8,57.1 356.3,57.1 356.8,57.2 357.3,57.2 357.8,57.2 358.3,57.2 358.8,57.2 359.3,57.2 359.8,57.2 360.3,57.2 360.8,57.2 361.3,57.2 361.8,57.2 362.3,57.2 362.8,57.2 363.3,57.2 363.8,57.2 364.3,57.2 364.8,57.2 365.3,57.2 365.8,57.2 366.3,57.1 366.8,57.1 367.3,57.1 367.8,57.1 368.3,57.1 368.8,57 369.3,57 369.8,57 370.3,57 370.8,56.9 371.3,56.9 371.8,56.9 372.3,56.8 372.8,56.8 373.3,56.8 373.8,56.7 374.3,56.7 374.8,56.7 375.3,56.6 375.8,56.6 376.3,56.6 376.8,56.5 377.3,56.5 377.8,56.4 378.3,56.4 378.8,56.4 379.3,56.3 379.8,56.3 380.3,56.2 380.8,56.2 381.3,56.1 381.8,56 382.3,55.9 382.8,55.8 383.3,55.7 383.8,55.6 384.3,55.5 384.8,55.3 385.3,55.2 385.8,55.1 386.3,55 386.8,54.8 387.3,54.7 387.8,54.6 388.3,54.5 388.8,54.4 389.3,54.4 389.8,54.3 390.3,54.3 390.8,54.3 391.3,54.2 391.8,54.2 392.3,54.2 392.8,54.2 393.3,54.2 393.8,54.1 394.3,54.1 394.8,54.1 395.3,54 395.8,54 396.3,53.9 396.8,53.8 397.3,53.7 397.8,53.6 398.3,53.4 398.8,53.3 399.3,53.1 399.8,53 400.3,52.8 400.8,52.6 401.3,52.4 401.8,52.2 402.3,52 402.8,51.8 403.3,51.6 403.8,51.4 404.3,51.2 404.8,51 405.3,50.8 405.8,50.5 406.3,50.3 406.8,50.1 407.3,49.8 407.8,49.6 408.3,49.3 408.8,49 409.3,48.7 409.8,48.4 410.3,48 410.8,47.7 411.3,47.3 411.8,46.9 412.3,46.4 412.8,45.8 413.3,45.1 413.8,44.2 414.3,43.3 414.8,42.3 415.3,41.3 415.8,40.2 416.3,39.2 416.8,38.1 417.3,37.2 417.8,36.3 418.3,35.6 418.8,34.9 419.3,34.4 419.8,34.1 420.3,34 420.8,34.2 421.3,34.6 421.8,35.2 422.3,36 422.8,37 423.3,38.1 423.8,39.2 424.3,40.4 424.8,41.6 425.3,42.8 425.8,43.9 426.3,44.9 426.8,46 427.3,47.1 427.8,48.2 428.3,49.4 428.8,50.5 429.3,51.4 429.8,52.3 430.3,53 430.8,53.6 431.3,54.2 431.8,54.8 432.3,55.3 432.8,55.6 433.3,56 433.8,56.3 434.3,56.5 434.8,56.8 435.3,57.1 435.8,57.3 436.3,57.6 436.8,57.8 437.3,58 437.8,58.1 438.3,58.3 438.8,58.4 439.3,58.4 449.3,58.5" fill="none" stroke="#2a9c9c" stroke-width="1.3" stroke-linejoin="round"/>
<path d="M323.3,72 L323.3,72 341.3,72 341.8,72 342.3,71.9 342.8,71.7 343.3,71.4 343.8,70.7 344.3,69.6 344.8,67.8 345.3,65.2 345.8,61.9 346.3,58 346.8,54 347.3,50.6 347.8,48.4 348.3,47.8 348.8,48.6 349.3,50.6 349.8,53.3 350.3,56.5 350.8,59.8 351.3,62.9 351.8,65.5 352.3,67.6 352.8,69.2 353.3,70.3 353.8,71 354.3,71.1 354.8,71.1 355.3,71.1 355.8,71.1 356.3,71.2 356.8,71.2 357.3,71.3 357.8,71.4 358.3,71.4 358.8,71.5 359.3,71.5 359.8,71.6 360.3,71.6 360.8,71.6 361.3,71.5 361.8,71.5 362.3,71.5 362.8,71.5 363.3,71.5 363.8,71.5 364.3,71.5 364.8,71.4 365.3,71.4 365.8,71.4 366.3,71.3 366.8,71.3 367.3,71.3 367.8,71.2 368.3,71.2 368.8,71.2 369.3,71.1 369.8,71.1 370.3,71 370.8,71 371.3,70.9 371.8,70.9 372.3,70.9 372.8,70.8 373.3,70.8 373.8,70.7 374.3,70.7 374.8,70.6 375.3,70.6 375.8,70.5 376.3,70.5 376.8,70.4 377.3,70.4 377.8,70.3 378.3,70.3 378.8,70.2 379.3,70.2 379.8,70.1 380.3,70.1 380.8,70 381.3,70 381.8,69.9 382.3,69.9 382.8,69.8 383.3,69.8 383.8,69.7 384.3,69.6 384.8,69.6 385.3,69.5 385.8,69.5 386.3,69.4 386.8,69.3 387.3,69.3 387.8,69.2 388.3,69.1 388.8,69.1 389.3,69 389.8,68.9 390.3,68.9 390.8,68.8 391.3,68.7 391.8,68.6 392.3,68.6 392.8,68.5 393.3,68.4 393.8,68.3 394.3,68.2 394.8,68.2 395.3,68.1 395.8,68 396.3,67.9 396.8,67.8 397.3,67.7 397.8,67.6 398.3,67.5 398.8,67.4 399.3,67.3 399.8,67.2 400.3,67 400.8,66.9 401.3,66.8 401.8,66.7 402.3,66.6 402.8,66.4 403.3,66.3 403.8,66.2 404.3,66.1 404.8,66 405.3,65.9 405.8,65.7 406.3,65.6 406.8,65.5 407.3,65.4 407.8,65.3 408.3,65.2 408.8,65.1 409.3,65 409.8,64.9 410.3,64.8 410.8,64.7 411.3,64.6 411.8,64.5 412.3,64.3 412.8,64.2 413.3,64.1 413.8,63.9 414.3,63.7 414.8,63.5 415.3,63.3 415.8,63 416.3,62.7 416.8,62.2 417.3,61.7 417.8,61.2 418.3,60.6 418.8,60 419.3,59.5 419.8,58.9 420.3,58.4 420.8,57.8 421.3,57.4 421.8,57 422.3,56.7 422.8,56.5 423.3,56.4 423.8,56.4 424.3,56.6 424.8,56.9 425.3,57.2 425.8,57.7 426.3,58.3 426.8,58.9 427.3,59.6 427.8,60.3 428.3,61 428.8,61.8 429.3,62.5 429.8,63.2 430.3,63.9 430.8,64.8 431.3,65.8 431.8,66.8 432.3,67.7 432.8,68.6 433.3,69.4 433.8,69.9 434.3,70.3 434.8,70.5 435.3,70.8 435.8,71 436.3,71.2 436.8,71.4 437.3,71.6 437.8,71.7 438.3,71.9 438.8,72 439.3,72 449.3,72 L449.6,72 Z" fill="#d49be6" fill-opacity="0.92" stroke="none" style="mix-blend-mode:multiply"/>
<path d="M323.3,72 341.3,72 341.8,72 342.3,71.9 342.8,71.7 343.3,71.4 343.8,70.7 344.3,69.6 344.8,67.8 345.3,65.2 345.8,61.9 346.3,58 346.8,54 347.3,50.6 347.8,48.4 348.3,47.8 348.8,48.6 349.3,50.6 349.8,53.3 350.3,56.5 350.8,59.8 351.3,62.9 351.8,65.5 352.3,67.6 352.8,69.2 353.3,70.3 353.8,71 354.3,71.1 354.8,71.1 355.3,71.1 355.8,71.1 356.3,71.2 356.8,71.2 357.3,71.3 357.8,71.4 358.3,71.4 358.8,71.5 359.3,71.5 359.8,71.6 360.3,71.6 360.8,71.6 361.3,71.5 361.8,71.5 362.3,71.5 362.8,71.5 363.3,71.5 363.8,71.5 364.3,71.5 364.8,71.4 365.3,71.4 365.8,71.4 366.3,71.3 366.8,71.3 367.3,71.3 367.8,71.2 368.3,71.2 368.8,71.2 369.3,71.1 369.8,71.1 370.3,71 370.8,71 371.3,70.9 371.8,70.9 372.3,70.9 372.8,70.8 373.3,70.8 373.8,70.7 374.3,70.7 374.8,70.6 375.3,70.6 375.8,70.5 376.3,70.5 376.8,70.4 377.3,70.4 377.8,70.3 378.3,70.3 378.8,70.2 379.3,70.2 379.8,70.1 380.3,70.1 380.8,70 381.3,70 381.8,69.9 382.3,69.9 382.8,69.8 383.3,69.8 383.8,69.7 384.3,69.6 384.8,69.6 385.3,69.5 385.8,69.5 386.3,69.4 386.8,69.3 387.3,69.3 387.8,69.2 388.3,69.1 388.8,69.1 389.3,69 389.8,68.9 390.3,68.9 390.8,68.8 391.3,68.7 391.8,68.6 392.3,68.6 392.8,68.5 393.3,68.4 393.8,68.3 394.3,68.2 394.8,68.2 395.3,68.1 395.8,68 396.3,67.9 396.8,67.8 397.3,67.7 397.8,67.6 398.3,67.5 398.8,67.4 399.3,67.3 399.8,67.2 400.3,67 400.8,66.9 401.3,66.8 401.8,66.7 402.3,66.6 402.8,66.4 403.3,66.3 403.8,66.2 404.3,66.1 404.8,66 405.3,65.9 405.8,65.7 406.3,65.6 406.8,65.5 407.3,65.4 407.8,65.3 408.3,65.2 408.8,65.1 409.3,65 409.8,64.9 410.3,64.8 410.8,64.7 411.3,64.6 411.8,64.5 412.3,64.3 412.8,64.2 413.3,64.1 413.8,63.9 414.3,63.7 414.8,63.5 415.3,63.3 415.8,63 416.3,62.7 416.8,62.2 417.3,61.7 417.8,61.2 418.3,60.6 418.8,60 419.3,59.5 419.8,58.9 420.3,58.4 420.8,57.8 421.3,57.4 421.8,57 422.3,56.7 422.8,56.5 423.3,56.4 423.8,56.4 424.3,56.6 424.8,56.9 425.3,57.2 425.8,57.7 426.3,58.3 426.8,58.9 427.3,59.6 427.8,60.3 428.3,61 428.8,61.8 429.3,62.5 429.8,63.2 430.3,63.9 430.8,64.8 431.3,65.8 431.8,66.8 432.3,67.7 432.8,68.6 433.3,69.4 433.8,69.9 434.3,70.3 434.8,70.5 435.3,70.8 435.8,71 436.3,71.2 436.8,71.4 437.3,71.6 437.8,71.7 438.3,71.9 438.8,72 439.3,72 449.3,72" fill="none" stroke="#9a3cc4" stroke-width="1.3" stroke-linejoin="round"/>
<path d="M323.3,85.6 L323.3,85.6 341.3,85.6 341.8,85.6 342.3,85.5 342.8,85.3 343.3,85 343.8,84.3 344.3,83.2 344.8,81.4 345.3,78.8 345.8,75.5 346.3,71.6 346.8,67.6 347.3,64.2 347.8,62 348.3,61.4 348.8,62.2 349.3,64.1 349.8,66.9 350.3,70.1 350.8,73.4 351.3,76.5 351.8,79.1 352.3,81.2 352.8,82.8 353.3,83.9 353.8,84.6 354.3,84.7 354.8,84.7 355.3,84.6 355.8,84.6 356.3,84.6 356.8,84.5 357.3,84.5 357.8,84.5 358.3,84.5 358.8,84.4 359.3,84.4 359.8,84.4 360.3,84.4 360.8,84.4 361.3,84.4 361.8,84.4 362.3,84.4 362.8,84.3 363.3,84.3 363.8,84.3 364.3,84.3 364.8,84.3 365.3,84.3 365.8,84.3 366.3,84.3 366.8,84.3 367.3,84.3 367.8,84.3 368.3,84.3 368.8,84.3 369.3,84.3 369.8,84.3 370.3,84.3 370.8,84.3 371.3,84.3 371.8,84.3 372.3,84.3 372.8,84.3 373.3,84.3 373.8,84.2 374.3,84.2 374.8,84.2 375.3,84.2 375.8,84.2 376.3,84.2 376.8,84.2 377.3,84.2 377.8,84.2 378.3,84.2 378.8,84.2 379.3,84.2 379.8,84.2 380.3,84.1 380.8,84.1 381.3,84.1 381.8,84.1 382.3,84.1 382.8,84 383.3,84 383.8,84 384.3,84 384.8,83.9 385.3,83.9 385.8,83.8 386.3,83.8 386.8,83.8 387.3,83.7 387.8,83.7 388.3,83.6 388.8,83.6 389.3,83.5 389.8,83.4 390.3,83.4 390.8,83.3 391.3,83.3 391.8,83.2 392.3,83.2 392.8,83.1 393.3,83 393.8,83 394.3,82.9 394.8,82.8 395.3,82.8 395.8,82.7 396.3,82.6 396.8,82.6 397.3,82.5 397.8,82.4 398.3,82.3 398.8,82.2 399.3,82.1 399.8,82 400.3,81.9 400.8,81.7 401.3,81.6 401.8,81.5 402.3,81.3 402.8,81.1 403.3,80.9 403.8,80.7 404.3,80.5 404.8,80.3 405.3,80.1 405.8,79.8 406.3,79.6 406.8,79.3 407.3,78.9 407.8,78.6 408.3,78.2 408.8,77.8 409.3,77.4 409.8,77 410.3,76.5 410.8,76 411.3,75.5 411.8,74.9 412.3,74.2 412.8,73.6 413.3,72.9 413.8,72.2 414.3,71.5 414.8,70.7 415.3,69.9 415.8,69 416.3,68 416.8,66.9 417.3,65.7 417.8,64.6 418.3,63.6 418.8,62.7 419.3,62 419.8,61.6 420.3,61.4 420.8,61.5 421.3,61.9 421.8,62.5 422.3,63.2 422.8,64 423.3,64.8 423.8,65.7 424.3,66.6 424.8,67.6 425.3,68.7 425.8,69.9 426.3,71.2 426.8,72.5 427.3,73.7 427.8,74.9 428.3,76 428.8,77.1 429.3,78.2 429.8,79.3 430.3,80.4 430.8,81.3 431.3,82.2 431.8,82.9 432.3,83.5 432.8,84 433.3,84.5 433.8,84.9 434.3,85.3 434.8,85.5 435.3,85.6 449.3,85.6 L449.6,85.6 Z" fill="#eed9d9" fill-opacity="0.92" stroke="none" style="mix-blend-mode:multiply"/>
<path d="M323.3,85.6 341.3,85.6 341.8,85.6 342.3,85.5 342.8,85.3 343.3,85 343.8,84.3 344.3,83.2 344.8,81.4 345.3,78.8 345.8,75.5 346.3,71.6 346.8,67.6 347.3,64.2 347.8,62 348.3,61.4 348.8,62.2 349.3,64.1 349.8,66.9 350.3,70.1 350.8,73.4 351.3,76.5 351.8,79.1 352.3,81.2 352.8,82.8 353.3,83.9 353.8,84.6 354.3,84.7 354.8,84.7 355.3,84.6 355.8,84.6 356.3,84.6 356.8,84.5 357.3,84.5 357.8,84.5 358.3,84.5 358.8,84.4 359.3,84.4 359.8,84.4 360.3,84.4 360.8,84.4 361.3,84.4 361.8,84.4 362.3,84.4 362.8,84.3 363.3,84.3 363.8,84.3 364.3,84.3 364.8,84.3 365.3,84.3 365.8,84.3 366.3,84.3 366.8,84.3 367.3,84.3 367.8,84.3 368.3,84.3 368.8,84.3 369.3,84.3 369.8,84.3 370.3,84.3 370.8,84.3 371.3,84.3 371.8,84.3 372.3,84.3 372.8,84.3 373.3,84.3 373.8,84.2 374.3,84.2 374.8,84.2 375.3,84.2 375.8,84.2 376.3,84.2 376.8,84.2 377.3,84.2 377.8,84.2 378.3,84.2 378.8,84.2 379.3,84.2 379.8,84.2 380.3,84.1 380.8,84.1 381.3,84.1 381.8,84.1 382.3,84.1 382.8,84 383.3,84 383.8,84 384.3,84 384.8,83.9 385.3,83.9 385.8,83.8 386.3,83.8 386.8,83.8 387.3,83.7 387.8,83.7 388.3,83.6 388.8,83.6 389.3,83.5 389.8,83.4 390.3,83.4 390.8,83.3 391.3,83.3 391.8,83.2 392.3,83.2 392.8,83.1 393.3,83 393.8,83 394.3,82.9 394.8,82.8 395.3,82.8 395.8,82.7 396.3,82.6 396.8,82.6 397.3,82.5 397.8,82.4 398.3,82.3 398.8,82.2 399.3,82.1 399.8,82 400.3,81.9 400.8,81.7 401.3,81.6 401.8,81.5 402.3,81.3 402.8,81.1 403.3,80.9 403.8,80.7 404.3,80.5 404.8,80.3 405.3,80.1 405.8,79.8 406.3,79.6 406.8,79.3 407.3,78.9 407.8,78.6 408.3,78.2 408.8,77.8 409.3,77.4 409.8,77 410.3,76.5 410.8,76 411.3,75.5 411.8,74.9 412.3,74.2 412.8,73.6 413.3,72.9 413.8,72.2 414.3,71.5 414.8,70.7 415.3,69.9 415.8,69 416.3,68 416.8,66.9 417.3,65.7 417.8,64.6 418.3,63.6 418.8,62.7 419.3,62 419.8,61.6 420.3,61.4 420.8,61.5 421.3,61.9 421.8,62.5 422.3,63.2 422.8,64 423.3,64.8 423.8,65.7 424.3,66.6 424.8,67.6 425.3,68.7 425.8,69.9 426.3,71.2 426.8,72.5 427.3,73.7 427.8,74.9 428.3,76 428.8,77.1 429.3,78.2 429.8,79.3 430.3,80.4 430.8,81.3 431.3,82.2 431.8,82.9 432.3,83.5 432.8,84 433.3,84.5 433.8,84.9 434.3,85.3 434.8,85.5 435.3,85.6 449.3,85.6" fill="none" stroke="#d9a3a3" stroke-width="1.3" stroke-linejoin="round"/>
<path d="M323.3,99.2 L323.3,99.2 340.8,99.2 341.3,99.1 341.8,99 342.3,98.8 342.8,98.4 343.3,97.7 343.8,96.5 344.3,94.7 344.8,92.3 345.3,89.3 345.8,85.9 346.3,82.7 346.8,80 347.3,78.4 347.8,78.1 348.3,78.9 348.8,80.5 349.3,82.7 349.8,85.2 350.3,87.8 350.8,90.4 351.3,92.6 351.8,94.5 352.3,96 352.8,96.9 353.3,97 353.8,96.9 354.3,96.9 354.8,96.8 355.3,96.7 355.8,96.6 356.3,96.6 356.8,96.5 357.3,96.4 357.8,96.4 358.3,96.3 358.8,96.3 359.3,96.2 359.8,96.1 360.3,96.1 360.8,96 361.3,96 361.8,95.9 362.3,95.9 362.8,95.9 363.3,95.8 363.8,95.8 364.3,95.8 364.8,95.8 365.3,95.8 365.8,95.8 366.3,95.7 366.8,95.7 367.3,95.7 367.8,95.7 368.3,95.7 368.8,95.7 369.3,95.7 369.8,95.7 370.3,95.7 370.8,95.7 371.3,95.7 371.8,95.7 372.3,95.7 372.8,95.7 373.3,95.6 373.8,95.6 374.3,95.6 374.8,95.6 375.3,95.6 375.8,95.6 376.3,95.6 376.8,95.6 377.3,95.6 377.8,95.6 378.3,95.6 378.8,95.6 379.3,95.6 379.8,95.6 380.3,95.6 380.8,95.6 381.3,95.6 381.8,95.6 382.3,95.6 382.8,95.6 383.3,95.6 383.8,95.5 384.3,95.5 384.8,95.5 385.3,95.5 385.8,95.5 386.3,95.5 386.8,95.5 387.3,95.5 387.8,95.5 388.3,95.5 388.8,95.4 389.3,95.4 389.8,95.4 390.3,95.4 390.8,95.4 391.3,95.4 391.8,95.4 392.3,95.4 392.8,95.3 393.3,95.3 393.8,95.3 394.3,95.3 394.8,95.3 395.3,95.3 395.8,95.2 396.3,95.2 396.8,95.2 397.3,95.2 397.8,95.1 398.3,95.1 398.8,95.1 399.3,95.1 399.8,95 400.3,95 400.8,95 401.3,94.9 401.8,94.8 402.3,94.8 402.8,94.7 403.3,94.6 403.8,94.5 404.3,94.4 404.8,94.2 405.3,94.1 405.8,94 406.3,93.9 406.8,93.8 407.3,93.7 407.8,93.6 408.3,93.5 408.8,93.5 409.3,93.4 409.8,93.4 410.3,93.3 410.8,93.3 411.3,93.3 411.8,93.4 412.3,93.5 412.8,93.7 413.3,93.8 413.8,94 414.3,94.2 414.8,94.4 415.3,94.6 415.8,94.7 416.3,94.9 416.8,95 417.3,95.2 417.8,95.4 418.3,95.6 418.8,95.8 419.3,96 419.8,96.2 420.3,96.3 420.8,96.5 421.3,96.6 421.8,96.7 422.3,96.7 422.8,96.7 423.3,96.7 423.8,96.7 424.3,96.6 424.8,96.6 425.3,96.5 425.8,96.3 426.3,96.2 426.8,96 427.3,95.9 427.8,95.7 428.3,95.5 428.8,95.3 429.3,95 429.8,94.8 430.3,94.6 430.8,94.3 431.3,94 431.8,93.5 432.3,93 432.8,92.4 433.3,91.7 433.8,91.1 434.3,90.4 434.8,89.7 435.3,89 435.8,88.3 436.3,87.6 436.8,86.8 437.3,86 437.8,85.2 438.3,84.4 438.8,83.6 439.3,82.8 439.8,82 440.3,81.3 440.8,80.4 441.3,79.6 441.8,78.8 442.3,78.1 442.8,77.4 443.3,76.8 443.8,76.1 444.3,75.5 444.8,74.8 445.3,74.3 445.8,73.8 446.3,73.6 446.8,73.6 447.3,73.9 447.8,74.7 448.3,77.7 448.8,87.3 449.3,95.7 L449.6,99.2 Z" fill="#a9c59b" fill-opacity="0.92" stroke="none" style="mix-blend-mode:multiply"/>
<path d="M323.3,99.2 340.8,99.2 341.3,99.1 341.8,99 342.3,98.8 342.8,98.4 343.3,97.7 343.8,96.5 344.3,94.7 344.8,92.3 345.3,89.3 345.8,85.9 346.3,82.7 346.8,80 347.3,78.4 347.8,78.1 348.3,78.9 348.8,80.5 349.3,82.7 349.8,85.2 350.3,87.8 350.8,90.4 351.3,92.6 351.8,94.5 352.3,96 352.8,96.9 353.3,97 353.8,96.9 354.3,96.9 354.8,96.8 355.3,96.7 355.8,96.6 356.3,96.6 356.8,96.5 357.3,96.4 357.8,96.4 358.3,96.3 358.8,96.3 359.3,96.2 359.8,96.1 360.3,96.1 360.8,96 361.3,96 361.8,95.9 362.3,95.9 362.8,95.9 363.3,95.8 363.8,95.8 364.3,95.8 364.8,95.8 365.3,95.8 365.8,95.8 366.3,95.7 366.8,95.7 367.3,95.7 367.8,95.7 368.3,95.7 368.8,95.7 369.3,95.7 369.8,95.7 370.3,95.7 370.8,95.7 371.3,95.7 371.8,95.7 372.3,95.7 372.8,95.7 373.3,95.6 373.8,95.6 374.3,95.6 374.8,95.6 375.3,95.6 375.8,95.6 376.3,95.6 376.8,95.6 377.3,95.6 377.8,95.6 378.3,95.6 378.8,95.6 379.3,95.6 379.8,95.6 380.3,95.6 380.8,95.6 381.3,95.6 381.8,95.6 382.3,95.6 382.8,95.6 383.3,95.6 383.8,95.5 384.3,95.5 384.8,95.5 385.3,95.5 385.8,95.5 386.3,95.5 386.8,95.5 387.3,95.5 387.8,95.5 388.3,95.5 388.8,95.4 389.3,95.4 389.8,95.4 390.3,95.4 390.8,95.4 391.3,95.4 391.8,95.4 392.3,95.4 392.8,95.3 393.3,95.3 393.8,95.3 394.3,95.3 394.8,95.3 395.3,95.3 395.8,95.2 396.3,95.2 396.8,95.2 397.3,95.2 397.8,95.1 398.3,95.1 398.8,95.1 399.3,95.1 399.8,95 400.3,95 400.8,95 401.3,94.9 401.8,94.8 402.3,94.8 402.8,94.7 403.3,94.6 403.8,94.5 404.3,94.4 404.8,94.2 405.3,94.1 405.8,94 406.3,93.9 406.8,93.8 407.3,93.7 407.8,93.6 408.3,93.5 408.8,93.5 409.3,93.4 409.8,93.4 410.3,93.3 410.8,93.3 411.3,93.3 411.8,93.4 412.3,93.5 412.8,93.7 413.3,93.8 413.8,94 414.3,94.2 414.8,94.4 415.3,94.6 415.8,94.7 416.3,94.9 416.8,95 417.3,95.2 417.8,95.4 418.3,95.6 418.8,95.8 419.3,96 419.8,96.2 420.3,96.3 420.8,96.5 421.3,96.6 421.8,96.7 422.3,96.7 422.8,96.7 423.3,96.7 423.8,96.7 424.3,96.6 424.8,96.6 425.3,96.5 425.8,96.3 426.3,96.2 426.8,96 427.3,95.9 427.8,95.7 428.3,95.5 428.8,95.3 429.3,95 429.8,94.8 430.3,94.6 430.8,94.3 431.3,94 431.8,93.5 432.3,93 432.8,92.4 433.3,91.7 433.8,91.1 434.3,90.4 434.8,89.7 435.3,89 435.8,88.3 436.3,87.6 436.8,86.8 437.3,86 437.8,85.2 438.3,84.4 438.8,83.6 439.3,82.8 439.8,82 440.3,81.3 440.8,80.4 441.3,79.6 441.8,78.8 442.3,78.1 442.8,77.4 443.3,76.8 443.8,76.1 444.3,75.5 444.8,74.8 445.3,74.3 445.8,73.8 446.3,73.6 446.8,73.6 447.3,73.9 447.8,74.7 448.3,77.7 448.8,87.3 449.3,95.7" fill="none" stroke="#3c7a38" stroke-width="1.3" stroke-linejoin="round"/>
<path d="M323.3,112.8 L323.3,112.8 341.8,112.8 342.3,112.7 342.8,112.6 343.3,112.3 343.8,111.8 344.3,110.9 344.8,109.3 345.3,106.9 345.8,103.6 346.3,99.6 346.8,95.4 347.3,91.7 347.8,89.3 348.3,88.6 348.8,89.5 349.3,91.6 349.8,94.5 350.3,97.9 350.8,101.3 351.3,104.4 351.8,107 352.3,109 352.8,110.5 353.3,111.3 353.8,111.6 354.3,111.6 354.8,111.6 355.3,111.5 355.8,111.5 356.3,111.5 356.8,111.5 357.3,111.5 357.8,111.5 358.3,111.5 358.8,111.5 359.3,111.5 359.8,111.4 360.3,111.4 360.8,111.4 361.3,111.4 361.8,111.4 362.3,111.4 362.8,111.4 363.3,111.4 363.8,111.4 364.3,111.4 364.8,111.4 365.3,111.4 365.8,111.4 366.3,111.4 366.8,111.4 367.3,111.4 367.8,111.3 368.3,111.3 368.8,111.3 369.3,111.3 369.8,111.3 370.3,111.3 370.8,111.3 371.3,111.3 371.8,111.3 372.3,111.2 372.8,111.2 373.3,111.2 373.8,111.2 374.3,111.2 374.8,111.2 375.3,111.1 375.8,111.1 376.3,111.1 376.8,111.1 377.3,111.1 377.8,111 378.3,111 378.8,111 379.3,111 379.8,111 380.3,110.9 380.8,110.9 381.3,110.9 381.8,110.9 382.3,110.8 382.8,110.8 383.3,110.8 383.8,110.7 384.3,110.7 384.8,110.7 385.3,110.7 385.8,110.6 386.3,110.6 386.8,110.6 387.3,110.5 387.8,110.5 388.3,110.5 388.8,110.4 389.3,110.4 389.8,110.3 390.3,110.3 390.8,110.3 391.3,110.2 391.8,110.2 392.3,110.1 392.8,110.1 393.3,110 393.8,109.9 394.3,109.9 394.8,109.8 395.3,109.7 395.8,109.7 396.3,109.6 396.8,109.5 397.3,109.4 397.8,109.3 398.3,109.3 398.8,109.2 399.3,109.1 399.8,109 400.3,108.9 400.8,108.8 401.3,108.7 401.8,108.6 402.3,108.5 402.8,108.4 403.3,108.3 403.8,108.1 404.3,108 404.8,107.9 405.3,107.8 405.8,107.7 406.3,107.5 406.8,107.4 407.3,107.2 407.8,107 408.3,106.9 408.8,106.7 409.3,106.5 409.8,106.3 410.3,106.1 410.8,105.9 411.3,105.7 411.8,105.5 412.3,105.3 412.8,105.1 413.3,104.9 413.8,104.7 414.3,104.5 414.8,104.3 415.3,104.1 415.8,103.9 416.3,103.6 416.8,103.4 417.3,103.1 417.8,102.9 418.3,102.6 418.8,102.4 419.3,102.1 419.8,101.9 420.3,101.7 420.8,101.6 421.3,101.4 421.8,101.3 422.3,101.3 422.8,101.3 423.3,101.3 423.8,101.4 424.3,101.6 424.8,101.8 425.3,102 425.8,102.3 426.3,102.6 426.8,102.9 427.3,103.2 427.8,103.7 428.3,104.2 428.8,104.9 429.3,105.6 429.8,106.3 430.3,107 430.8,107.6 431.3,108.2 431.8,108.9 432.3,109.6 432.8,110.3 433.3,110.9 433.8,111.4 434.3,111.9 434.8,112.2 435.3,112.4 435.8,112.5 436.3,112.6 436.8,112.7 437.3,112.7 449.3,112.8 L449.6,112.8 Z" fill="#dcf0ae" fill-opacity="0.92" stroke="none" style="mix-blend-mode:multiply"/>
<path d="M323.3,112.8 341.8,112.8 342.3,112.7 342.8,112.6 343.3,112.3 343.8,111.8 344.3,110.9 344.8,109.3 345.3,106.9 345.8,103.6 346.3,99.6 346.8,95.4 347.3,91.7 347.8,89.3 348.3,88.6 348.8,89.5 349.3,91.6 349.8,94.5 350.3,97.9 350.8,101.3 351.3,104.4 351.8,107 352.3,109 352.8,110.5 353.3,111.3 353.8,111.6 354.3,111.6 354.8,111.6 355.3,111.5 355.8,111.5 356.3,111.5 356.8,111.5 357.3,111.5 357.8,111.5 358.3,111.5 358.8,111.5 359.3,111.5 359.8,111.4 360.3,111.4 360.8,111.4 361.3,111.4 361.8,111.4 362.3,111.4 362.8,111.4 363.3,111.4 363.8,111.4 364.3,111.4 364.8,111.4 365.3,111.4 365.8,111.4 366.3,111.4 366.8,111.4 367.3,111.4 367.8,111.3 368.3,111.3 368.8,111.3 369.3,111.3 369.8,111.3 370.3,111.3 370.8,111.3 371.3,111.3 371.8,111.3 372.3,111.2 372.8,111.2 373.3,111.2 373.8,111.2 374.3,111.2 374.8,111.2 375.3,111.1 375.8,111.1 376.3,111.1 376.8,111.1 377.3,111.1 377.8,111 378.3,111 378.8,111 379.3,111 379.8,111 380.3,110.9 380.8,110.9 381.3,110.9 381.8,110.9 382.3,110.8 382.8,110.8 383.3,110.8 383.8,110.7 384.3,110.7 384.8,110.7 385.3,110.7 385.8,110.6 386.3,110.6 386.8,110.6 387.3,110.5 387.8,110.5 388.3,110.5 388.8,110.4 389.3,110.4 389.8,110.3 390.3,110.3 390.8,110.3 391.3,110.2 391.8,110.2 392.3,110.1 392.8,110.1 393.3,110 393.8,109.9 394.3,109.9 394.8,109.8 395.3,109.7 395.8,109.7 396.3,109.6 396.8,109.5 397.3,109.4 397.8,109.3 398.3,109.3 398.8,109.2 399.3,109.1 399.8,109 400.3,108.9 400.8,108.8 401.3,108.7 401.8,108.6 402.3,108.5 402.8,108.4 403.3,108.3 403.8,108.1 404.3,108 404.8,107.9 405.3,107.8 405.8,107.7 406.3,107.5 406.8,107.4 407.3,107.2 407.8,107 408.3,106.9 408.8,106.7 409.3,106.5 409.8,106.3 410.3,106.1 410.8,105.9 411.3,105.7 411.8,105.5 412.3,105.3 412.8,105.1 413.3,104.9 413.8,104.7 414.3,104.5 414.8,104.3 415.3,104.1 415.8,103.9 416.3,103.6 416.8,103.4 417.3,103.1 417.8,102.9 418.3,102.6 418.8,102.4 419.3,102.1 419.8,101.9 420.3,101.7 420.8,101.6 421.3,101.4 421.8,101.3 422.3,101.3 422.8,101.3 423.3,101.3 423.8,101.4 424.3,101.6 424.8,101.8 425.3,102 425.8,102.3 426.3,102.6 426.8,102.9 427.3,103.2 427.8,103.7 428.3,104.2 428.8,104.9 429.3,105.6 429.8,106.3 430.3,107 430.8,107.6 431.3,108.2 431.8,108.9 432.3,109.6 432.8,110.3 433.3,110.9 433.8,111.4 434.3,111.9 434.8,112.2 435.3,112.4 435.8,112.5 436.3,112.6 436.8,112.7 437.3,112.7 449.3,112.8" fill="none" stroke="#9acc2c" stroke-width="1.3" stroke-linejoin="round"/>
<path d="M323.3,126.3 L323.3,126.3 341.8,126.3 342.3,126.3 342.8,126.2 343.3,125.9 343.8,125.4 344.3,124.5 344.8,122.9 345.3,120.5 345.8,117.2 346.3,113.2 346.8,109 347.3,105.3 347.8,102.8 348.3,102.2 348.8,103 349.3,105.1 349.8,108.1 350.3,111.5 350.8,114.9 351.3,118 351.8,120.6 352.3,122.6 352.8,124 353.3,125 353.8,125.4 354.3,125.4 354.8,125.4 355.3,125.4 355.8,125.3 356.3,125.3 356.8,125.3 357.3,125.3 357.8,125.3 358.3,125.3 358.8,125.3 359.3,125.2 359.8,125.2 360.3,125.2 360.8,125.2 361.3,125.2 361.8,125.2 362.3,125.2 362.8,125.2 363.3,125.2 363.8,125.2 364.3,125.2 364.8,125.1 365.3,125.1 365.8,125.1 366.3,125.1 366.8,125.1 367.3,125.1 367.8,125.1 368.3,125.1 368.8,125.1 369.3,125.1 369.8,125.1 370.3,125.1 370.8,125.1 371.3,125.1 371.8,125.1 372.3,125.1 372.8,125 373.3,125 373.8,125 374.3,125 374.8,125 375.3,125 375.8,125 376.3,125 376.8,125 377.3,125 377.8,124.9 378.3,124.9 378.8,124.9 379.3,124.9 379.8,124.9 380.3,124.9 380.8,124.8 381.3,124.8 381.8,124.8 382.3,124.8 382.8,124.8 383.3,124.7 383.8,124.7 384.3,124.7 384.8,124.6 385.3,124.6 385.8,124.5 386.3,124.5 386.8,124.5 387.3,124.4 387.8,124.4 388.3,124.3 388.8,124.3 389.3,124.2 389.8,124.2 390.3,124.1 390.8,124.1 391.3,124 391.8,123.9 392.3,123.9 392.8,123.8 393.3,123.7 393.8,123.7 394.3,123.6 394.8,123.5 395.3,123.5 395.8,123.4 396.3,123.3 396.8,123.2 397.3,123.1 397.8,123.1 398.3,123 398.8,122.9 399.3,122.8 399.8,122.7 400.3,122.6 400.8,122.5 401.3,122.4 401.8,122.3 402.3,122.1 402.8,122 403.3,121.8 403.8,121.6 404.3,121.5 404.8,121.3 405.3,121.1 405.8,120.9 406.3,120.6 406.8,120.4 407.3,120.2 407.8,119.9 408.3,119.7 408.8,119.5 409.3,119.2 409.8,118.9 410.3,118.7 410.8,118.4 411.3,118.2 411.8,117.9 412.3,117.6 412.8,117.3 413.3,116.9 413.8,116.5 414.3,116.1 414.8,115.7 415.3,115.2 415.8,114.8 416.3,114.3 416.8,113.9 417.3,113.5 417.8,113.1 418.3,112.7 418.8,112.3 419.3,112 419.8,111.7 420.3,111.5 420.8,111.3 421.3,111.1 421.8,110.9 422.3,110.8 422.8,110.7 423.3,110.7 423.8,110.9 424.3,111.2 424.8,111.6 425.3,112.1 425.8,112.7 426.3,113.3 426.8,113.9 427.3,114.5 427.8,115.3 428.3,116.2 428.8,117.2 429.3,118.2 429.8,119.3 430.3,120.2 430.8,121.1 431.3,121.9 431.8,122.7 432.3,123.5 432.8,124.3 433.3,125 433.8,125.5 434.3,125.8 434.8,126 435.3,126.1 435.8,126.2 436.3,126.3 436.8,126.3 449.3,126.3 L449.6,126.3 Z" fill="#fbd4a6" fill-opacity="0.92" stroke="none" style="mix-blend-mode:multiply"/>
<path d="M323.3,126.3 341.8,126.3 342.3,126.3 342.8,126.2 343.3,125.9 343.8,125.4 344.3,124.5 344.8,122.9 345.3,120.5 345.8,117.2 346.3,113.2 346.8,109 347.3,105.3 347.8,102.8 348.3,102.2 348.8,103 349.3,105.1 349.8,108.1 350.3,111.5 350.8,114.9 351.3,118 351.8,120.6 352.3,122.6 352.8,124 353.3,125 353.8,125.4 354.3,125.4 354.8,125.4 355.3,125.4 355.8,125.3 356.3,125.3 356.8,125.3 357.3,125.3 357.8,125.3 358.3,125.3 358.8,125.3 359.3,125.2 359.8,125.2 360.3,125.2 360.8,125.2 361.3,125.2 361.8,125.2 362.3,125.2 362.8,125.2 363.3,125.2 363.8,125.2 364.3,125.2 364.8,125.1 365.3,125.1 365.8,125.1 366.3,125.1 366.8,125.1 367.3,125.1 367.8,125.1 368.3,125.1 368.8,125.1 369.3,125.1 369.8,125.1 370.3,125.1 370.8,125.1 371.3,125.1 371.8,125.1 372.3,125.1 372.8,125 373.3,125 373.8,125 374.3,125 374.8,125 375.3,125 375.8,125 376.3,125 376.8,125 377.3,125 377.8,124.9 378.3,124.9 378.8,124.9 379.3,124.9 379.8,124.9 380.3,124.9 380.8,124.8 381.3,124.8 381.8,124.8 382.3,124.8 382.8,124.8 383.3,124.7 383.8,124.7 384.3,124.7 384.8,124.6 385.3,124.6 385.8,124.5 386.3,124.5 386.8,124.5 387.3,124.4 387.8,124.4 388.3,124.3 388.8,124.3 389.3,124.2 389.8,124.2 390.3,124.1 390.8,124.1 391.3,124 391.8,123.9 392.3,123.9 392.8,123.8 393.3,123.7 393.8,123.7 394.3,123.6 394.8,123.5 395.3,123.5 395.8,123.4 396.3,123.3 396.8,123.2 397.3,123.1 397.8,123.1 398.3,123 398.8,122.9 399.3,122.8 399.8,122.7 400.3,122.6 400.8,122.5 401.3,122.4 401.8,122.3 402.3,122.1 402.8,122 403.3,121.8 403.8,121.6 404.3,121.5 404.8,121.3 405.3,121.1 405.8,120.9 406.3,120.6 406.8,120.4 407.3,120.2 407.8,119.9 408.3,119.7 408.8,119.5 409.3,119.2 409.8,118.9 410.3,118.7 410.8,118.4 411.3,118.2 411.8,117.9 412.3,117.6 412.8,117.3 413.3,116.9 413.8,116.5 414.3,116.1 414.8,115.7 415.3,115.2 415.8,114.8 416.3,114.3 416.8,113.9 417.3,113.5 417.8,113.1 418.3,112.7 418.8,112.3 419.3,112 419.8,111.7 420.3,111.5 420.8,111.3 421.3,111.1 421.8,110.9 422.3,110.8 422.8,110.7 423.3,110.7 423.8,110.9 424.3,111.2 424.8,111.6 425.3,112.1 425.8,112.7 426.3,113.3 426.8,113.9 427.3,114.5 427.8,115.3 428.3,116.2 428.8,117.2 429.3,118.2 429.8,119.3 430.3,120.2 430.8,121.1 431.3,121.9 431.8,122.7 432.3,123.5 432.8,124.3 433.3,125 433.8,125.5 434.3,125.8 434.8,126 435.3,126.1 435.8,126.2 436.3,126.3 436.8,126.3 449.3,126.3" fill="none" stroke="#f5921e" stroke-width="1.3" stroke-linejoin="round"/>
<path d="M323.3,139.9 L323.3,139.9 341.3,139.9 341.8,139.8 342.3,139.7 342.8,139.4 343.3,138.9 343.8,137.9 344.3,136.2 344.8,133.8 345.3,130.5 345.8,126.6 346.3,122.7 346.8,119.3 347.3,117.3 347.8,117 348.3,118.1 348.8,120.3 349.3,123.2 349.8,126.5 350.3,129.7 350.8,132.5 351.3,134.9 351.8,136.7 352.3,137.8 352.8,138.2 353.3,138.1 353.8,138.1 354.3,138 354.8,138 355.3,137.9 355.8,137.9 356.3,137.9 356.8,137.9 357.3,137.8 357.8,137.8 358.3,137.8 358.8,137.8 359.3,137.8 359.8,137.8 360.3,137.8 360.8,137.7 361.3,137.7 361.8,137.7 362.3,137.7 362.8,137.7 363.3,137.7 363.8,137.7 364.3,137.7 364.8,137.7 365.3,137.6 365.8,137.6 366.3,137.6 366.8,137.6 367.3,137.6 367.8,137.6 368.3,137.5 368.8,137.5 369.3,137.5 369.8,137.5 370.3,137.5 370.8,137.4 371.3,137.4 371.8,137.4 372.3,137.3 372.8,137.3 373.3,137.3 373.8,137.2 374.3,137.2 374.8,137.1 375.3,137.1 375.8,137 376.3,137 376.8,136.9 377.3,136.9 377.8,136.8 378.3,136.8 378.8,136.7 379.3,136.6 379.8,136.6 380.3,136.5 380.8,136.4 381.3,136.4 381.8,136.3 382.3,136.2 382.8,136.2 383.3,136.1 383.8,136 384.3,135.9 384.8,135.9 385.3,135.8 385.8,135.7 386.3,135.6 386.8,135.6 387.3,135.5 387.8,135.4 388.3,135.3 388.8,135.2 389.3,135.1 389.8,135.1 390.3,135 390.8,134.9 391.3,134.8 391.8,134.7 392.3,134.5 392.8,134.4 393.3,134.3 393.8,134.1 394.3,134 394.8,133.8 395.3,133.7 395.8,133.6 396.3,133.4 396.8,133.3 397.3,133.2 397.8,133 398.3,132.9 398.8,132.8 399.3,132.7 399.8,132.6 400.3,132.5 400.8,132.5 401.3,132.4 401.8,132.3 402.3,132.3 402.8,132.2 403.3,132.2 403.8,132.1 404.3,132.1 404.8,132 405.3,132 405.8,132 406.3,131.9 406.8,131.9 407.3,131.8 407.8,131.7 408.3,131.7 408.8,131.6 409.3,131.5 409.8,131.4 410.3,131.3 410.8,131.1 411.3,130.9 411.8,130.6 412.3,130.3 412.8,129.9 413.3,129.6 413.8,129.2 414.3,128.8 414.8,128.5 415.3,128.1 415.8,127.8 416.3,127.5 416.8,127.1 417.3,126.8 417.8,126.4 418.3,126 418.8,125.7 419.3,125.3 419.8,125 420.3,124.8 420.8,124.6 421.3,124.5 421.8,124.5 422.3,124.7 422.8,125.1 423.3,125.6 423.8,126.2 424.3,126.8 424.8,127.4 425.3,128.1 425.8,128.9 426.3,129.8 426.8,130.8 427.3,131.8 427.8,132.8 428.3,133.8 428.8,134.7 429.3,135.5 429.8,136.3 430.3,137.1 430.8,137.9 431.3,138.5 431.8,139 432.3,139.4 432.8,139.6 433.3,139.7 433.8,139.8 434.3,139.9 434.8,139.9 449.3,139.9 L449.6,139.9 Z" fill="#b4ddf2" fill-opacity="0.92" stroke="none" style="mix-blend-mode:multiply"/>
<path d="M323.3,139.9 341.3,139.9 341.8,139.8 342.3,139.7 342.8,139.4 343.3,138.9 343.8,137.9 344.3,136.2 344.8,133.8 345.3,130.5 345.8,126.6 346.3,122.7 346.8,119.3 347.3,117.3 347.8,117 348.3,118.1 348.8,120.3 349.3,123.2 349.8,126.5 350.3,129.7 350.8,132.5 351.3,134.9 351.8,136.7 352.3,137.8 352.8,138.2 353.3,138.1 353.8,138.1 354.3,138 354.8,138 355.3,137.9 355.8,137.9 356.3,137.9 356.8,137.9 357.3,137.8 357.8,137.8 358.3,137.8 358.8,137.8 359.3,137.8 359.8,137.8 360.3,137.8 360.8,137.7 361.3,137.7 361.8,137.7 362.3,137.7 362.8,137.7 363.3,137.7 363.8,137.7 364.3,137.7 364.8,137.7 365.3,137.6 365.8,137.6 366.3,137.6 366.8,137.6 367.3,137.6 367.8,137.6 368.3,137.5 368.8,137.5 369.3,137.5 369.8,137.5 370.3,137.5 370.8,137.4 371.3,137.4 371.8,137.4 372.3,137.3 372.8,137.3 373.3,137.3 373.8,137.2 374.3,137.2 374.8,137.1 375.3,137.1 375.8,137 376.3,137 376.8,136.9 377.3,136.9 377.8,136.8 378.3,136.8 378.8,136.7 379.3,136.6 379.8,136.6 380.3,136.5 380.8,136.4 381.3,136.4 381.8,136.3 382.3,136.2 382.8,136.2 383.3,136.1 383.8,136 384.3,135.9 384.8,135.9 385.3,135.8 385.8,135.7 386.3,135.6 386.8,135.6 387.3,135.5 387.8,135.4 388.3,135.3 388.8,135.2 389.3,135.1 389.8,135.1 390.3,135 390.8,134.9 391.3,134.8 391.8,134.7 392.3,134.5 392.8,134.4 393.3,134.3 393.8,134.1 394.3,134 394.8,133.8 395.3,133.7 395.8,133.6 396.3,133.4 396.8,133.3 397.3,133.2 397.8,133 398.3,132.9 398.8,132.8 399.3,132.7 399.8,132.6 400.3,132.5 400.8,132.5 401.3,132.4 401.8,132.3 402.3,132.3 402.8,132.2 403.3,132.2 403.8,132.1 404.3,132.1 404.8,132 405.3,132 405.8,132 406.3,131.9 406.8,131.9 407.3,131.8 407.8,131.7 408.3,131.7 408.8,131.6 409.3,131.5 409.8,131.4 410.3,131.3 410.8,131.1 411.3,130.9 411.8,130.6 412.3,130.3 412.8,129.9 413.3,129.6 413.8,129.2 414.3,128.8 414.8,128.5 415.3,128.1 415.8,127.8 416.3,127.5 416.8,127.1 417.3,126.8 417.8,126.4 418.3,126 418.8,125.7 419.3,125.3 419.8,125 420.3,124.8 420.8,124.6 421.3,124.5 421.8,124.5 422.3,124.7 422.8,125.1 423.3,125.6 423.8,126.2 424.3,126.8 424.8,127.4 425.3,128.1 425.8,128.9 426.3,129.8 426.8,130.8 427.3,131.8 427.8,132.8 428.3,133.8 428.8,134.7 429.3,135.5 429.8,136.3 430.3,137.1 430.8,137.9 431.3,138.5 431.8,139 432.3,139.4 432.8,139.6 433.3,139.7 433.8,139.8 434.3,139.9 434.8,139.9 449.3,139.9" fill="none" stroke="#5cbce4" stroke-width="1.3" stroke-linejoin="round"/>
<path d="M323.3,153.5 L323.3,153.5 342.3,153.5 342.8,153.4 343.3,153.3 343.8,153 344.3,152.4 344.8,151.1 345.3,149.1 345.8,145.9 346.3,141.8 346.8,137.3 347.3,133 347.8,130.2 348.3,129.3 348.8,130.3 349.3,131.8 349.8,131.7 350.3,131.6 350.8,132.1 351.3,132.9 351.8,134 352.3,135.2 352.8,136.7 353.3,138.1 353.8,139.5 354.3,140.9 354.8,142 355.3,142.9 355.8,143.6 356.3,144.1 356.8,144.7 357.3,145.2 357.8,145.6 358.3,146.1 358.8,146.5 359.3,146.9 359.8,147.2 360.3,147.6 360.8,147.9 361.3,148.2 361.8,148.5 362.3,148.7 362.8,149 363.3,149.2 363.8,149.4 364.3,149.6 364.8,149.8 365.3,149.9 365.8,150.1 366.3,150.3 366.8,150.5 367.3,150.6 367.8,150.8 368.3,151.1 368.8,151.3 369.3,151.5 369.8,151.8 370.3,152 370.8,152.3 371.3,152.5 371.8,152.8 372.3,153.1 372.8,153.4 373.3,153.5 449.3,153.5 L449.6,153.5 Z" fill="#f6a9a9" fill-opacity="0.92" stroke="none" style="mix-blend-mode:multiply"/>
<path d="M323.3,153.5 342.3,153.5 342.8,153.4 343.3,153.3 343.8,153 344.3,152.4 344.8,151.1 345.3,149.1 345.8,145.9 346.3,141.8 346.8,137.3 347.3,133 347.8,130.2 348.3,129.3 348.8,130.3 349.3,131.8 349.8,131.7 350.3,131.6 350.8,132.1 351.3,132.9 351.8,134 352.3,135.2 352.8,136.7 353.3,138.1 353.8,139.5 354.3,140.9 354.8,142 355.3,142.9 355.8,143.6 356.3,144.1 356.8,144.7 357.3,145.2 357.8,145.6 358.3,146.1 358.8,146.5 359.3,146.9 359.8,147.2 360.3,147.6 360.8,147.9 361.3,148.2 361.8,148.5 362.3,148.7 362.8,149 363.3,149.2 363.8,149.4 364.3,149.6 364.8,149.8 365.3,149.9 365.8,150.1 366.3,150.3 366.8,150.5 367.3,150.6 367.8,150.8 368.3,151.1 368.8,151.3 369.3,151.5 369.8,151.8 370.3,152 370.8,152.3 371.3,152.5 371.8,152.8 372.3,153.1 372.8,153.4 373.3,153.5 449.3,153.5" fill="none" stroke="#e64646" stroke-width="1.3" stroke-linejoin="round"/>
</g>
<path d="M323.3,153.5 V14.2 H449.6 V153.5" fill="none" stroke="#8e8e8e" stroke-width="1"/>
<path d="M322.8,153.5 H450.1" fill="none" stroke="#a83030" stroke-width="1.2"/>
<path d="M59.1,154 h7.6 v3.6 h-1.6 v-1 h-1.2 v1 h-1.4 v-1 h-1.2 v1 h-2.2 Z" fill="#000"/>
<path d="M38.5,154 v3.8 M40.5,154 v2 M42.8,154 v2 M45.1,154 v2 M48.2,154 v3 M49.7,154 v2 M52,154 v2 M54.3,154 v2 M56.6,154 v2 M69.1,154 v2 M71.7,154 v2 M74.3,154 v2 M76.9,154 v2 M79.5,154 v2 M82.1,154 v3 M84.7,154 v2 M87.3,154 v2 M88.4,154 v3.8 M121.9,154 v3.8 M98.48,154 v1.8 M104.38,154 v1.8 M108.57,154 v1.8 M111.82,154 v2.6 M114.47,154 v1.8 M116.71,154 v1.8 M118.65,154 v1.8 M120.37,154 v1.8 M151.5,154 v3.8 M130.81,154 v1.8 M136.02,154 v1.8 M139.72,154 v1.8 M142.59,154 v2.6 M144.93,154 v1.8 M146.91,154 v1.8 M148.63,154 v1.8 M150.15,154 v1.8 M160.41,154 v1.8" stroke="#111" stroke-width="0.85" fill="none"/>
<text transform="translate(40.5,166.8) scale(0.78,1)" font-size="5.3" fill="#222">-10</text>
<text transform="translate(47.5,163.2) scale(0.8,1)" font-size="4.8" fill="#222">3</text>
<text transform="translate(64.5,166.8) scale(0.7,1)" font-size="5.4" fill="#222">0</text>
<text transform="translate(88.5,166.8) scale(0.78,1)" font-size="5.3" fill="#222">10</text>
<text transform="translate(94.5,163.2) scale(0.8,1)" font-size="4.8" fill="#222">3</text>
<text transform="translate(122,166.8) scale(0.78,1)" font-size="5.3" fill="#222">10</text>
<text transform="translate(128,163.2) scale(0.8,1)" font-size="4.8" fill="#222">4</text>
<text transform="translate(151.6,166.8) scale(0.78,1)" font-size="5.3" fill="#222">10</text>
<text transform="translate(157.6,163.2) scale(0.8,1)" font-size="4.8" fill="#222">5</text>
<path d="M201.3,154 h7.6 v3.6 h-1.6 v-1 h-1.2 v1 h-1.4 v-1 h-1.2 v1 h-2.2 Z" fill="#000"/>
<path d="M180.7,154 v3.8 M182.7,154 v2 M185,154 v2 M187.3,154 v2 M190.4,154 v3 M191.9,154 v2 M194.2,154 v2 M196.5,154 v2 M198.8,154 v2 M211.3,154 v2 M213.9,154 v2 M216.5,154 v2 M219.1,154 v2 M221.7,154 v2 M224.3,154 v3 M226.9,154 v2 M229.5,154 v2 M230.6,154 v3.8 M264.1,154 v3.8 M240.68,154 v1.8 M246.58,154 v1.8 M250.77,154 v1.8 M254.02,154 v2.6 M256.67,154 v1.8 M258.91,154 v1.8 M260.85,154 v1.8 M262.57,154 v1.8 M293.7,154 v3.8 M273.01,154 v1.8 M278.22,154 v1.8 M281.92,154 v1.8 M284.79,154 v2.6 M287.13,154 v1.8 M289.11,154 v1.8 M290.83,154 v1.8 M292.35,154 v1.8 M302.61,154 v1.8" stroke="#111" stroke-width="0.85" fill="none"/>
<text transform="translate(182.7,166.8) scale(0.78,1)" font-size="5.3" fill="#222">-10</text>
<text transform="translate(189.7,163.2) scale(0.8,1)" font-size="4.8" fill="#222">3</text>
<text transform="translate(206.7,166.8) scale(0.7,1)" font-size="5.4" fill="#222">0</text>
<text transform="translate(230.7,166.8) scale(0.78,1)" font-size="5.3" fill="#222">10</text>
<text transform="translate(236.7,163.2) scale(0.8,1)" font-size="4.8" fill="#222">3</text>
<text transform="translate(264.2,166.8) scale(0.78,1)" font-size="5.3" fill="#222">10</text>
<text transform="translate(270.2,163.2) scale(0.8,1)" font-size="4.8" fill="#222">4</text>
<text transform="translate(293.8,166.8) scale(0.78,1)" font-size="5.3" fill="#222">10</text>
<text transform="translate(299.8,163.2) scale(0.8,1)" font-size="4.8" fill="#222">5</text>
<path d="M344.2,154 h7.6 v3.6 h-1.6 v-1 h-1.2 v1 h-1.4 v-1 h-1.2 v1 h-2.2 Z" fill="#000"/>
<path d="M323.6,154 v3.8 M325.6,154 v2 M327.9,154 v2 M330.2,154 v2 M333.3,154 v3 M334.8,154 v2 M337.1,154 v2 M339.4,154 v2 M341.7,154 v2 M354.2,154 v2 M356.8,154 v2 M359.4,154 v2 M362,154 v2 M364.6,154 v2 M367.2,154 v3 M369.8,154 v2 M372.4,154 v2 M373.5,154 v3.8 M407,154 v3.8 M383.58,154 v1.8 M389.48,154 v1.8 M393.67,154 v1.8 M396.92,154 v2.6 M399.57,154 v1.8 M401.81,154 v1.8 M403.75,154 v1.8 M405.47,154 v1.8 M436.6,154 v3.8 M415.91,154 v1.8 M421.12,154 v1.8 M424.82,154 v1.8 M427.69,154 v2.6 M430.03,154 v1.8 M432.01,154 v1.8 M433.73,154 v1.8 M435.25,154 v1.8 M445.51,154 v1.8" stroke="#111" stroke-width="0.85" fill="none"/>
<text transform="translate(325.6,166.8) scale(0.78,1)" font-size="5.3" fill="#222">-10</text>
<text transform="translate(332.6,163.2) scale(0.8,1)" font-size="4.8" fill="#222">3</text>
<text transform="translate(349.6,166.8) scale(0.7,1)" font-size="5.4" fill="#222">0</text>
<text transform="translate(373.6,166.8) scale(0.78,1)" font-size="5.3" fill="#222">10</text>
<text transform="translate(379.6,163.2) scale(0.8,1)" font-size="4.8" fill="#222">3</text>
<text transform="translate(407.1,166.8) scale(0.78,1)" font-size="5.3" fill="#222">10</text>
<text transform="translate(413.1,163.2) scale(0.8,1)" font-size="4.8" fill="#222">4</text>
<text transform="translate(436.7,166.8) scale(0.78,1)" font-size="5.3" fill="#222">10</text>
<text transform="translate(442.7,163.2) scale(0.8,1)" font-size="4.8" fill="#222">5</text>
<text x="267.1" y="10.6" font-size="8.2" fill="#e8403e" text-anchor="middle" stroke="#e8403e" stroke-width="0.28">Reverse Chimera</text>
<text transform="translate(100,178.8) scale(0.75,1)" font-size="6.3" text-anchor="middle" fill="#222" stroke="#222" stroke-width="0.28">PE-A</text>
<text x="101" y="187.6" font-size="8.2" text-anchor="middle" fill="#111" stroke="#111" stroke-width="0.28">PF-07062119</text>
<text transform="translate(242.4,178.8) scale(0.75,1)" font-size="6.3" text-anchor="middle" fill="#222" stroke="#222" stroke-width="0.28">PE-A</text>
<text x="243.4" y="187.6" font-size="8.2" text-anchor="middle" fill="#111" stroke="#111" stroke-width="0.28">5F9-CD3</text>
<text transform="translate(382.8,178.8) scale(0.75,1)" font-size="6.3" text-anchor="middle" fill="#222" stroke="#222" stroke-width="0.28">PE-A</text>
<text x="383.8" y="187.6" font-size="8.2" text-anchor="middle" fill="#111" stroke="#111" stroke-width="0.28">anti-V5</text>
<path d="M33.8,153.9 V21" stroke="#555" stroke-width="1.1"/>
<path d="M31.9,23.5 L33.8,17.8 L35.7,23.5 Z" fill="#111"/>
<text transform="translate(20.3,83.5) rotate(-90)" font-size="8" text-anchor="middle" fill="#111" stroke="#111" stroke-width="0.28">Events Count</text>
<text transform="translate(28.9,83.8) rotate(-90)" font-size="8.2" text-anchor="middle" fill="#111" stroke="#111" stroke-width="0.28">Normalized to Mode</text>
<clipPath id="clip221_0"><rect x="40.4" y="221.5" width="128" height="138.4"/></clipPath>
<g clip-path="url(#clip221_0)">
<path d="M40.4,235.8 L40.4,235.8 60.9,235.8 61.4,235.7 61.9,235.4 62.4,234.8 62.9,233.6 63.4,231.7 63.9,228.9 64.4,225.7 64.9,222.9 65.4,221.3 65.9,221.2 66.4,222.4 66.9,224.5 67.4,226.9 67.9,229.4 68.4,231.4 68.9,232.3 69.4,232.5 69.9,232.5 70.4,232.5 70.9,232.5 71.4,232.5 71.9,232.5 72.4,232.5 72.9,232.5 73.4,232.5 73.9,232.5 74.4,232.5 74.9,232.5 75.4,232.4 75.9,232.3 76.4,232.3 76.9,232.2 77.4,232 77.9,231.9 78.4,231.8 78.9,231.7 79.4,231.6 79.9,231.5 80.4,231.4 80.9,231.2 81.4,231.1 81.9,231 82.4,230.8 82.9,230.7 83.4,230.5 83.9,230.4 84.4,230.3 84.9,230.1 85.4,230 85.9,229.9 86.4,229.7 86.9,229.6 87.4,229.5 87.9,229.3 88.4,229.2 88.9,229.1 89.4,229 89.9,228.8 90.4,228.7 90.9,228.6 91.4,228.5 91.9,228.5 92.4,228.4 92.9,228.3 93.4,228.3 93.9,228.3 94.4,228.3 94.9,228.4 95.4,228.5 95.9,228.6 96.4,228.8 96.9,228.9 97.4,229.1 97.9,229.3 98.4,229.6 98.9,229.9 99.4,230.3 99.9,230.7 100.4,231.2 100.9,231.6 101.4,232.1 101.9,232.4 102.4,232.7 102.9,233.1 103.4,233.3 103.9,233.6 104.4,233.9 104.9,234.2 105.4,234.4 105.9,234.6 106.4,234.8 106.9,235 107.4,235.2 107.9,235.3 108.4,235.5 108.9,235.6 109.4,235.7 109.9,235.8 168.4,235.8 L168.4,235.8 Z" fill="#eaa2bc" fill-opacity="0.92" stroke="none" style="mix-blend-mode:multiply"/>
<path d="M40.4,235.8 60.9,235.8 61.4,235.7 61.9,235.4 62.4,234.8 62.9,233.6 63.4,231.7 63.9,228.9 64.4,225.7 64.9,222.9 65.4,221.3 65.9,221.2 66.4,222.4 66.9,224.5 67.4,226.9 67.9,229.4 68.4,231.4 68.9,232.3 69.4,232.5 69.9,232.5 70.4,232.5 70.9,232.5 71.4,232.5 71.9,232.5 72.4,232.5 72.9,232.5 73.4,232.5 73.9,232.5 74.4,232.5 74.9,232.5 75.4,232.4 75.9,232.3 76.4,232.3 76.9,232.2 77.4,232 77.9,231.9 78.4,231.8 78.9,231.7 79.4,231.6 79.9,231.5 80.4,231.4 80.9,231.2 81.4,231.1 81.9,231 82.4,230.8 82.9,230.7 83.4,230.5 83.9,230.4 84.4,230.3 84.9,230.1 85.4,230 85.9,229.9 86.4,229.7 86.9,229.6 87.4,229.5 87.9,229.3 88.4,229.2 88.9,229.1 89.4,229 89.9,228.8 90.4,228.7 90.9,228.6 91.4,228.5 91.9,228.5 92.4,228.4 92.9,228.3 93.4,228.3 93.9,228.3 94.4,228.3 94.9,228.4 95.4,228.5 95.9,228.6 96.4,228.8 96.9,228.9 97.4,229.1 97.9,229.3 98.4,229.6 98.9,229.9 99.4,230.3 99.9,230.7 100.4,231.2 100.9,231.6 101.4,232.1 101.9,232.4 102.4,232.7 102.9,233.1 103.4,233.3 103.9,233.6 104.4,233.9 104.9,234.2 105.4,234.4 105.9,234.6 106.4,234.8 106.9,235 107.4,235.2 107.9,235.3 108.4,235.5 108.9,235.6 109.4,235.7 109.9,235.8 168.4,235.8" fill="none" stroke="#d23a6a" stroke-width="1.3" stroke-linejoin="round"/>
<path d="M40.4,244 L40.4,244 60.9,243.9 61.4,243.8 61.9,243.5 62.4,242.9 62.9,241.8 63.4,239.8 63.9,237.1 64.4,233.9 64.9,231.1 65.4,229.4 65.9,229.4 66.4,230.6 66.9,232.6 67.4,235.1 67.9,237.5 68.4,239.7 68.9,241.2 69.4,241.7 69.9,241.7 70.4,241.8 70.9,241.8 71.4,241.9 71.9,241.9 72.4,242 72.9,242 73.4,242.1 73.9,242.1 74.4,242.1 74.9,242.1 75.4,242.1 75.9,242.1 76.4,242.1 76.9,242.1 77.4,242 77.9,242 78.4,241.9 78.9,241.9 79.4,241.8 79.9,241.7 80.4,241.7 80.9,241.6 81.4,241.5 81.9,241.4 82.4,241.3 82.9,241.3 83.4,241.2 83.9,241.1 84.4,241 84.9,241 85.4,240.9 85.9,240.8 86.4,240.8 86.9,240.7 87.4,240.7 87.9,240.6 88.4,240.5 88.9,240.5 89.4,240.4 89.9,240.4 90.4,240.3 90.9,240.3 91.4,240.2 91.9,240.1 92.4,240.1 92.9,240 93.4,239.9 93.9,239.9 94.4,239.8 94.9,239.7 95.4,239.7 95.9,239.6 96.4,239.5 96.9,239.4 97.4,239.4 97.9,239.3 98.4,239.2 98.9,239.1 99.4,239 99.9,238.9 100.4,238.8 100.9,238.6 101.4,238.5 101.9,238.3 102.4,238.1 102.9,238 103.4,237.8 103.9,237.6 104.4,237.4 104.9,237.2 105.4,237 105.9,236.8 106.4,236.6 106.9,236.3 107.4,236.1 107.9,235.8 108.4,235.5 108.9,235.3 109.4,235.2 109.9,235.1 110.4,235.2 110.9,235.3 111.4,235.5 111.9,235.8 112.4,236.2 112.9,236.6 113.4,237.1 113.9,237.5 114.4,237.9 114.9,238.3 115.4,238.7 115.9,239.2 116.4,239.7 116.9,240.2 117.4,240.8 117.9,241.3 118.4,241.7 118.9,242.1 119.4,242.5 119.9,242.7 120.4,242.9 120.9,243 121.4,243.1 121.9,243.2 122.4,243.3 122.9,243.4 123.4,243.4 123.9,243.5 124.4,243.6 124.9,243.6 125.4,243.7 125.9,243.8 126.4,243.8 126.9,243.9 127.4,243.9 168.4,244 L168.4,244 Z" fill="#eee8cc" fill-opacity="0.92" stroke="none" style="mix-blend-mode:multiply"/>
<path d="M40.4,244 60.9,243.9 61.4,243.8 61.9,243.5 62.4,242.9 62.9,241.8 63.4,239.8 63.9,237.1 64.4,233.9 64.9,231.1 65.4,229.4 65.9,229.4 66.4,230.6 66.9,232.6 67.4,235.1 67.9,237.5 68.4,239.7 68.9,241.2 69.4,241.7 69.9,241.7 70.4,241.8 70.9,241.8 71.4,241.9 71.9,241.9 72.4,242 72.9,242 73.4,242.1 73.9,242.1 74.4,242.1 74.9,242.1 75.4,242.1 75.9,242.1 76.4,242.1 76.9,242.1 77.4,242 77.9,242 78.4,241.9 78.9,241.9 79.4,241.8 79.9,241.7 80.4,241.7 80.9,241.6 81.4,241.5 81.9,241.4 82.4,241.3 82.9,241.3 83.4,241.2 83.9,241.1 84.4,241 84.9,241 85.4,240.9 85.9,240.8 86.4,240.8 86.9,240.7 87.4,240.7 87.9,240.6 88.4,240.5 88.9,240.5 89.4,240.4 89.9,240.4 90.4,240.3 90.9,240.3 91.4,240.2 91.9,240.1 92.4,240.1 92.9,240 93.4,239.9 93.9,239.9 94.4,239.8 94.9,239.7 95.4,239.7 95.9,239.6 96.4,239.5 96.9,239.4 97.4,239.4 97.9,239.3 98.4,239.2 98.9,239.1 99.4,239 99.9,238.9 100.4,238.8 100.9,238.6 101.4,238.5 101.9,238.3 102.4,238.1 102.9,238 103.4,237.8 103.9,237.6 104.4,237.4 104.9,237.2 105.4,237 105.9,236.8 106.4,236.6 106.9,236.3 107.4,236.1 107.9,235.8 108.4,235.5 108.9,235.3 109.4,235.2 109.9,235.1 110.4,235.2 110.9,235.3 111.4,235.5 111.9,235.8 112.4,236.2 112.9,236.6 113.4,237.1 113.9,237.5 114.4,237.9 114.9,238.3 115.4,238.7 115.9,239.2 116.4,239.7 116.9,240.2 117.4,240.8 117.9,241.3 118.4,241.7 118.9,242.1 119.4,242.5 119.9,242.7 120.4,242.9 120.9,243 121.4,243.1 121.9,243.2 122.4,243.3 122.9,243.4 123.4,243.4 123.9,243.5 124.4,243.6 124.9,243.6 125.4,243.7 125.9,243.8 126.4,243.8 126.9,243.9 127.4,243.9 168.4,244" fill="none" stroke="#d2c99c" stroke-width="1.3" stroke-linejoin="round"/>
<path d="M40.4,252.1 L40.4,252.1 60.9,252.1 61.4,252 61.9,251.7 62.4,251.1 62.9,249.9 63.4,248 63.9,245.2 64.4,242.1 64.9,239.2 65.4,237.6 65.9,237.5 66.4,238.7 66.9,240.8 67.4,243.2 67.9,245.7 68.4,247.8 68.9,249.3 69.4,249.5 69.9,249.4 70.4,249.4 70.9,249.3 71.4,249.3 71.9,249.3 72.4,249.2 72.9,249.2 73.4,249.1 73.9,249.1 74.4,249.1 74.9,249.1 75.4,249 75.9,249 76.4,249 76.9,249 77.4,248.9 77.9,248.9 78.4,248.9 78.9,248.9 79.4,248.9 79.9,248.8 80.4,248.8 80.9,248.8 81.4,248.8 81.9,248.7 82.4,248.7 82.9,248.7 83.4,248.6 83.9,248.6 84.4,248.6 84.9,248.5 85.4,248.5 85.9,248.4 86.4,248.4 86.9,248.3 87.4,248.3 87.9,248.2 88.4,248.2 88.9,248.1 89.4,248.1 89.9,248 90.4,247.9 90.9,247.9 91.4,247.8 91.9,247.7 92.4,247.7 92.9,247.6 93.4,247.5 93.9,247.5 94.4,247.4 94.9,247.3 95.4,247.2 95.9,247.2 96.4,247.1 96.9,247 97.4,246.9 97.9,246.8 98.4,246.7 98.9,246.6 99.4,246.5 99.9,246.4 100.4,246.3 100.9,246.2 101.4,246 101.9,245.8 102.4,245.6 102.9,245.4 103.4,245.2 103.9,245 104.4,244.9 104.9,244.8 105.4,244.8 105.9,244.8 106.4,244.8 106.9,244.8 107.4,244.9 107.9,245 108.4,245.1 108.9,245.2 109.4,245.3 109.9,245.4 110.4,245.5 110.9,245.6 111.4,245.8 111.9,246 112.4,246.2 112.9,246.5 113.4,246.8 113.9,247.2 114.4,247.5 114.9,247.9 115.4,248.2 115.9,248.5 116.4,248.8 116.9,249.1 117.4,249.3 117.9,249.5 118.4,249.7 118.9,249.9 119.4,250.1 119.9,250.3 120.4,250.4 120.9,250.6 121.4,250.8 121.9,250.9 122.4,251.1 122.9,251.2 123.4,251.3 123.9,251.4 124.4,251.5 124.9,251.6 125.4,251.7 125.9,251.8 126.4,251.9 126.9,252 127.4,252 127.9,252.1 168.4,252.1 L168.4,252.1 Z" fill="#9fc9a8" fill-opacity="0.92" stroke="none" style="mix-blend-mode:multiply"/>
<path d="M40.4,252.1 60.9,252.1 61.4,252 61.9,251.7 62.4,251.1 62.9,249.9 63.4,248 63.9,245.2 64.4,242.1 64.9,239.2 65.4,237.6 65.9,237.5 66.4,238.7 66.9,240.8 67.4,243.2 67.9,245.7 68.4,247.8 68.9,249.3 69.4,249.5 69.9,249.4 70.4,249.4 70.9,249.3 71.4,249.3 71.9,249.3 72.4,249.2 72.9,249.2 73.4,249.1 73.9,249.1 74.4,249.1 74.9,249.1 75.4,249 75.9,249 76.4,249 76.9,249 77.4,248.9 77.9,248.9 78.4,248.9 78.9,248.9 79.4,248.9 79.9,248.8 80.4,248.8 80.9,248.8 81.4,248.8 81.9,248.7 82.4,248.7 82.9,248.7 83.4,248.6 83.9,248.6 84.4,248.6 84.9,248.5 85.4,248.5 85.9,248.4 86.4,248.4 86.9,248.3 87.4,248.3 87.9,248.2 88.4,248.2 88.9,248.1 89.4,248.1 89.9,248 90.4,247.9 90.9,247.9 91.4,247.8 91.9,247.7 92.4,247.7 92.9,247.6 93.4,247.5 93.9,247.5 94.4,247.4 94.9,247.3 95.4,247.2 95.9,247.2 96.4,247.1 96.9,247 97.4,246.9 97.9,246.8 98.4,246.7 98.9,246.6 99.4,246.5 99.9,246.4 100.4,246.3 100.9,246.2 101.4,246 101.9,245.8 102.4,245.6 102.9,245.4 103.4,245.2 103.9,245 104.4,244.9 104.9,244.8 105.4,244.8 105.9,244.8 106.4,244.8 106.9,244.8 107.4,244.9 107.9,245 108.4,245.1 108.9,245.2 109.4,245.3 109.9,245.4 110.4,245.5 110.9,245.6 111.4,245.8 111.9,246 112.4,246.2 112.9,246.5 113.4,246.8 113.9,247.2 114.4,247.5 114.9,247.9 115.4,248.2 115.9,248.5 116.4,248.8 116.9,249.1 117.4,249.3 117.9,249.5 118.4,249.7 118.9,249.9 119.4,250.1 119.9,250.3 120.4,250.4 120.9,250.6 121.4,250.8 121.9,250.9 122.4,251.1 122.9,251.2 123.4,251.3 123.9,251.4 124.4,251.5 124.9,251.6 125.4,251.7 125.9,251.8 126.4,251.9 126.9,252 127.4,252 127.9,252.1 168.4,252.1" fill="none" stroke="#2e7d4a" stroke-width="1.3" stroke-linejoin="round"/>
<path d="M40.4,260.3 L40.4,260.3 60.9,260.2 61.4,260.1 61.9,259.9 62.4,259.3 62.9,258.2 63.4,256.3 63.9,253.6 64.4,250.5 64.9,247.8 65.4,246.2 65.9,246.1 66.4,247.3 66.9,249.3 67.4,251.7 67.9,254 68.4,256 68.9,257.1 69.4,257.3 69.9,257.3 70.4,257.3 70.9,257.3 71.4,257.4 71.9,257.4 72.4,257.4 72.9,257.5 73.4,257.5 73.9,257.6 74.4,257.6 74.9,257.7 75.4,257.7 75.9,257.8 76.4,257.8 76.9,257.9 77.4,257.9 77.9,257.9 78.4,258 78.9,258 79.4,258 79.9,258 80.4,258 80.9,258 81.4,258 81.9,258 82.4,257.9 82.9,257.9 83.4,257.9 83.9,257.8 84.4,257.8 84.9,257.7 85.4,257.6 85.9,257.6 86.4,257.5 86.9,257.4 87.4,257.4 87.9,257.3 88.4,257.2 88.9,257.1 89.4,257 89.9,256.9 90.4,256.8 90.9,256.7 91.4,256.6 91.9,256.5 92.4,256.4 92.9,256.3 93.4,256.1 93.9,256 94.4,255.9 94.9,255.8 95.4,255.6 95.9,255.4 96.4,255.2 96.9,255 97.4,254.7 97.9,254.3 98.4,254 98.9,253.7 99.4,253.3 99.9,253 100.4,252.6 100.9,252.3 101.4,252 101.9,251.8 102.4,251.6 102.9,251.4 103.4,251.3 103.9,251.3 104.4,251.3 104.9,251.4 105.4,251.6 105.9,251.9 106.4,252.2 106.9,252.6 107.4,253 107.9,253.4 108.4,253.8 108.9,254.2 109.4,254.6 109.9,255.2 110.4,255.8 110.9,256.4 111.4,257.1 111.9,257.7 112.4,258.2 112.9,258.7 113.4,259 113.9,259.3 114.4,259.6 114.9,259.9 115.4,260.1 115.9,260.2 168.4,260.3 L168.4,260.3 Z" fill="#d2f3df" fill-opacity="0.92" stroke="none" style="mix-blend-mode:multiply"/>
<path d="M40.4,260.3 60.9,260.2 61.4,260.1 61.9,259.9 62.4,259.3 62.9,258.2 63.4,256.3 63.9,253.6 64.4,250.5 64.9,247.8 65.4,246.2 65.9,246.1 66.4,247.3 66.9,249.3 67.4,251.7 67.9,254 68.4,256 68.9,257.1 69.4,257.3 69.9,257.3 70.4,257.3 70.9,257.3 71.4,257.4 71.9,257.4 72.4,257.4 72.9,257.5 73.4,257.5 73.9,257.6 74.4,257.6 74.9,257.7 75.4,257.7 75.9,257.8 76.4,257.8 76.9,257.9 77.4,257.9 77.9,257.9 78.4,258 78.9,258 79.4,258 79.9,258 80.4,258 80.9,258 81.4,258 81.9,258 82.4,257.9 82.9,257.9 83.4,257.9 83.9,257.8 84.4,257.8 84.9,257.7 85.4,257.6 85.9,257.6 86.4,257.5 86.9,257.4 87.4,257.4 87.9,257.3 88.4,257.2 88.9,257.1 89.4,257 89.9,256.9 90.4,256.8 90.9,256.7 91.4,256.6 91.9,256.5 92.4,256.4 92.9,256.3 93.4,256.1 93.9,256 94.4,255.9 94.9,255.8 95.4,255.6 95.9,255.4 96.4,255.2 96.9,255 97.4,254.7 97.9,254.3 98.4,254 98.9,253.7 99.4,253.3 99.9,253 100.4,252.6 100.9,252.3 101.4,252 101.9,251.8 102.4,251.6 102.9,251.4 103.4,251.3 103.9,251.3 104.4,251.3 104.9,251.4 105.4,251.6 105.9,251.9 106.4,252.2 106.9,252.6 107.4,253 107.9,253.4 108.4,253.8 108.9,254.2 109.4,254.6 109.9,255.2 110.4,255.8 110.9,256.4 111.4,257.1 111.9,257.7 112.4,258.2 112.9,258.7 113.4,259 113.9,259.3 114.4,259.6 114.9,259.9 115.4,260.1 115.9,260.2 168.4,260.3" fill="none" stroke="#92e2b2" stroke-width="1.3" stroke-linejoin="round"/>
<path d="M40.4,268.4 L40.4,268.4 60.9,268.4 61.4,268.3 61.9,268.1 62.4,267.5 62.9,266.5 63.4,264.9 63.9,262.5 64.4,259.8 64.9,257.3 65.4,255.9 65.9,255.9 66.4,256.9 66.9,258.7 67.4,260.8 67.9,262.9 68.4,264.7 68.9,266 69.4,266.3 69.9,266.3 70.4,266.4 70.9,266.4 71.4,266.5 71.9,266.5 72.4,266.6 72.9,266.6 73.4,266.7 73.9,266.7 74.4,266.7 74.9,266.8 75.4,266.8 75.9,266.8 76.4,266.7 76.9,266.7 77.4,266.7 77.9,266.7 78.4,266.7 78.9,266.6 79.4,266.6 79.9,266.6 80.4,266.5 80.9,266.5 81.4,266.5 81.9,266.4 82.4,266.4 82.9,266.3 83.4,266.3 83.9,266.3 84.4,266.2 84.9,266.2 85.4,266.1 85.9,266.1 86.4,266 86.9,266 87.4,265.9 87.9,265.8 88.4,265.8 88.9,265.7 89.4,265.6 89.9,265.5 90.4,265.4 90.9,265.3 91.4,265.2 91.9,265.1 92.4,265 92.9,264.9 93.4,264.8 93.9,264.7 94.4,264.6 94.9,264.4 95.4,264.3 95.9,264.2 96.4,264.1 96.9,263.9 97.4,263.8 97.9,263.6 98.4,263.5 98.9,263.3 99.4,263.2 99.9,263 100.4,262.9 100.9,262.7 101.4,262.5 101.9,262.2 102.4,262 102.9,261.7 103.4,261.4 103.9,261.2 104.4,260.9 104.9,260.7 105.4,260.4 105.9,260.1 106.4,259.8 106.9,259.5 107.4,259.2 107.9,258.9 108.4,258.6 108.9,258.4 109.4,258.3 109.9,258.2 110.4,258.2 110.9,258.3 111.4,258.5 111.9,258.6 112.4,258.8 112.9,259.1 113.4,259.4 113.9,259.7 114.4,260 114.9,260.3 115.4,260.6 115.9,260.9 116.4,261.2 116.9,261.5 117.4,261.8 117.9,262.2 118.4,262.6 118.9,263 119.4,263.4 119.9,263.8 120.4,264.2 120.9,264.6 121.4,264.9 121.9,265.2 122.4,265.5 122.9,265.7 123.4,266 123.9,266.2 124.4,266.4 124.9,266.6 125.4,266.8 125.9,267 126.4,267.2 126.9,267.3 127.4,267.5 127.9,267.6 128.4,267.8 128.9,267.9 129.4,268.1 129.9,268.2 130.4,268.3 130.9,268.4 168.4,268.4 L168.4,268.4 Z" fill="#c9a888" fill-opacity="0.92" stroke="none" style="mix-blend-mode:multiply"/>
<path d="M40.4,268.4 60.9,268.4 61.4,268.3 61.9,268.1 62.4,267.5 62.9,266.5 63.4,264.9 63.9,262.5 64.4,259.8 64.9,257.3 65.4,255.9 65.9,255.9 66.4,256.9 66.9,258.7 67.4,260.8 67.9,262.9 68.4,264.7 68.9,266 69.4,266.3 69.9,266.3 70.4,266.4 70.9,266.4 71.4,266.5 71.9,266.5 72.4,266.6 72.9,266.6 73.4,266.7 73.9,266.7 74.4,266.7 74.9,266.8 75.4,266.8 75.9,266.8 76.4,266.7 76.9,266.7 77.4,266.7 77.9,266.7 78.4,266.7 78.9,266.6 79.4,266.6 79.9,266.6 80.4,266.5 80.9,266.5 81.4,266.5 81.9,266.4 82.4,266.4 82.9,266.3 83.4,266.3 83.9,266.3 84.4,266.2 84.9,266.2 85.4,266.1 85.9,266.1 86.4,266 86.9,266 87.4,265.9 87.9,265.8 88.4,265.8 88.9,265.7 89.4,265.6 89.9,265.5 90.4,265.4 90.9,265.3 91.4,265.2 91.9,265.1 92.4,265 92.9,264.9 93.4,264.8 93.9,264.7 94.4,264.6 94.9,264.4 95.4,264.3 95.9,264.2 96.4,264.1 96.9,263.9 97.4,263.8 97.9,263.6 98.4,263.5 98.9,263.3 99.4,263.2 99.9,263 100.4,262.9 100.9,262.7 101.4,262.5 101.9,262.2 102.4,262 102.9,261.7 103.4,261.4 103.9,261.2 104.4,260.9 104.9,260.7 105.4,260.4 105.9,260.1 106.4,259.8 106.9,259.5 107.4,259.2 107.9,258.9 108.4,258.6 108.9,258.4 109.4,258.3 109.9,258.2 110.4,258.2 110.9,258.3 111.4,258.5 111.9,258.6 112.4,258.8 112.9,259.1 113.4,259.4 113.9,259.7 114.4,260 114.9,260.3 115.4,260.6 115.9,260.9 116.4,261.2 116.9,261.5 117.4,261.8 117.9,262.2 118.4,262.6 118.9,263 119.4,263.4 119.9,263.8 120.4,264.2 120.9,264.6 121.4,264.9 121.9,265.2 122.4,265.5 122.9,265.7 123.4,266 123.9,266.2 124.4,266.4 124.9,266.6 125.4,266.8 125.9,267 126.4,267.2 126.9,267.3 127.4,267.5 127.9,267.6 128.4,267.8 128.9,267.9 129.4,268.1 129.9,268.2 130.4,268.3 130.9,268.4 168.4,268.4" fill="none" stroke="#9c5c30" stroke-width="1.3" stroke-linejoin="round"/>
<path d="M40.4,276.6 L40.4,276.6 60.9,276.5 61.4,276.4 61.9,276.2 62.4,275.6 62.9,274.4 63.4,272.4 63.9,269.7 64.4,266.5 64.9,263.7 65.4,262 65.9,262 66.4,263.2 66.9,265.2 67.4,267.7 67.9,270.1 68.4,272.3 68.9,273.9 69.4,275.1 69.9,275.8 70.4,276.2 70.9,276.4 71.4,276.5 71.9,276.5 168.4,276.6 L168.4,276.6 Z" fill="#eaa8e4" fill-opacity="0.92" stroke="none" style="mix-blend-mode:multiply"/>
<path d="M40.4,276.6 60.9,276.5 61.4,276.4 61.9,276.2 62.4,275.6 62.9,274.4 63.4,272.4 63.9,269.7 64.4,266.5 64.9,263.7 65.4,262 65.9,262 66.4,263.2 66.9,265.2 67.4,267.7 67.9,270.1 68.4,272.3 68.9,273.9 69.4,275.1 69.9,275.8 70.4,276.2 70.9,276.4 71.4,276.5 71.9,276.5 168.4,276.6" fill="none" stroke="#d24ecc" stroke-width="1.3" stroke-linejoin="round"/>
<path d="M40.4,284.7 L40.4,284.7 60.9,284.7 61.4,284.6 61.9,284.3 62.4,283.7 62.9,282.5 63.4,280.6 63.9,277.8 64.4,274.7 64.9,271.8 65.4,270.2 65.9,270.1 66.4,271.3 66.9,273.4 67.4,275.8 67.9,278.3 68.4,280.4 68.9,281.9 69.4,282.3 69.9,282.3 70.4,282.3 70.9,282.3 71.4,282.3 71.9,282.3 72.4,282.3 72.9,282.3 73.4,282.3 73.9,282.3 74.4,282.3 74.9,282.3 75.4,282.3 75.9,282.3 76.4,282.3 76.9,282.3 77.4,282.2 77.9,282.2 78.4,282.1 78.9,282.1 79.4,282 79.9,282 80.4,281.9 80.9,281.8 81.4,281.8 81.9,281.7 82.4,281.6 82.9,281.5 83.4,281.5 83.9,281.4 84.4,281.3 84.9,281.3 85.4,281.2 85.9,281.2 86.4,281.1 86.9,281 87.4,281 87.9,280.9 88.4,280.9 88.9,280.8 89.4,280.8 89.9,280.7 90.4,280.6 90.9,280.6 91.4,280.5 91.9,280.5 92.4,280.4 92.9,280.3 93.4,280.3 93.9,280.2 94.4,280.1 94.9,280.1 95.4,280 95.9,279.9 96.4,279.8 96.9,279.7 97.4,279.7 97.9,279.6 98.4,279.5 98.9,279.4 99.4,279.3 99.9,279.2 100.4,279.1 100.9,279 101.4,278.8 101.9,278.7 102.4,278.5 102.9,278.3 103.4,278.2 103.9,278 104.4,277.8 104.9,277.6 105.4,277.4 105.9,277.3 106.4,277.1 106.9,276.8 107.4,276.6 107.9,276.3 108.4,276.1 108.9,275.8 109.4,275.6 109.9,275.5 110.4,275.3 110.9,275.3 111.4,275.3 111.9,275.5 112.4,275.7 112.9,276 113.4,276.4 113.9,276.8 114.4,277.3 114.9,277.7 115.4,278.1 115.9,278.5 116.4,278.9 116.9,279.3 117.4,279.7 117.9,280.1 118.4,280.5 118.9,280.9 119.4,281.3 119.9,281.7 120.4,282 120.9,282.3 121.4,282.5 121.9,282.7 122.4,282.9 122.9,283.1 123.4,283.2 123.9,283.4 124.4,283.6 124.9,283.7 125.4,283.8 125.9,283.9 126.4,284.1 126.9,284.2 127.4,284.3 127.9,284.4 128.4,284.5 128.9,284.6 129.4,284.6 129.9,284.7 168.4,284.7 L168.4,284.7 Z" fill="#aaa2e0" fill-opacity="0.92" stroke="none" style="mix-blend-mode:multiply"/>
<path d="M40.4,284.7 60.9,284.7 61.4,284.6 61.9,284.3 62.4,283.7 62.9,282.5 63.4,280.6 63.9,277.8 64.4,274.7 64.9,271.8 65.4,270.2 65.9,270.1 66.4,271.3 66.9,273.4 67.4,275.8 67.9,278.3 68.4,280.4 68.9,281.9 69.4,282.3 69.9,282.3 70.4,282.3 70.9,282.3 71.4,282.3 71.9,282.3 72.4,282.3 72.9,282.3 73.4,282.3 73.9,282.3 74.4,282.3 74.9,282.3 75.4,282.3 75.9,282.3 76.4,282.3 76.9,282.3 77.4,282.2 77.9,282.2 78.4,282.1 78.9,282.1 79.4,282 79.9,282 80.4,281.9 80.9,281.8 81.4,281.8 81.9,281.7 82.4,281.6 82.9,281.5 83.4,281.5 83.9,281.4 84.4,281.3 84.9,281.3 85.4,281.2 85.9,281.2 86.4,281.1 86.9,281 87.4,281 87.9,280.9 88.4,280.9 88.9,280.8 89.4,280.8 89.9,280.7 90.4,280.6 90.9,280.6 91.4,280.5 91.9,280.5 92.4,280.4 92.9,280.3 93.4,280.3 93.9,280.2 94.4,280.1 94.9,280.1 95.4,280 95.9,279.9 96.4,279.8 96.9,279.7 97.4,279.7 97.9,279.6 98.4,279.5 98.9,279.4 99.4,279.3 99.9,279.2 100.4,279.1 100.9,279 101.4,278.8 101.9,278.7 102.4,278.5 102.9,278.3 103.4,278.2 103.9,278 104.4,277.8 104.9,277.6 105.4,277.4 105.9,277.3 106.4,277.1 106.9,276.8 107.4,276.6 107.9,276.3 108.4,276.1 108.9,275.8 109.4,275.6 109.9,275.5 110.4,275.3 110.9,275.3 111.4,275.3 111.9,275.5 112.4,275.7 112.9,276 113.4,276.4 113.9,276.8 114.4,277.3 114.9,277.7 115.4,278.1 115.9,278.5 116.4,278.9 116.9,279.3 117.4,279.7 117.9,280.1 118.4,280.5 118.9,280.9 119.4,281.3 119.9,281.7 120.4,282 120.9,282.3 121.4,282.5 121.9,282.7 122.4,282.9 122.9,283.1 123.4,283.2 123.9,283.4 124.4,283.6 124.9,283.7 125.4,283.8 125.9,283.9 126.4,284.1 126.9,284.2 127.4,284.3 127.9,284.4 128.4,284.5 128.9,284.6 129.4,284.6 129.9,284.7 168.4,284.7" fill="none" stroke="#5a50c2" stroke-width="1.3" stroke-linejoin="round"/>
<path d="M40.4,292.9 L40.4,292.9 60.9,292.8 61.4,292.7 61.9,292.5 62.4,291.9 62.9,290.7 63.4,288.7 63.9,286 64.4,282.8 64.9,280 65.4,278.3 65.9,278.3 66.4,279.5 66.9,281.5 67.4,284 67.9,286.5 68.4,288.6 68.9,290.1 69.4,290.8 69.9,290.8 70.4,290.8 70.9,290.7 71.4,290.7 71.9,290.6 72.4,290.6 72.9,290.6 73.4,290.5 73.9,290.5 74.4,290.5 74.9,290.4 75.4,290.4 75.9,290.4 76.4,290.4 76.9,290.3 77.4,290.3 77.9,290.3 78.4,290.3 78.9,290.3 79.4,290.2 79.9,290.2 80.4,290.2 80.9,290.2 81.4,290.1 81.9,290.1 82.4,290.1 82.9,290 83.4,290 83.9,290 84.4,289.9 84.9,289.9 85.4,289.8 85.9,289.8 86.4,289.7 86.9,289.7 87.4,289.6 87.9,289.6 88.4,289.5 88.9,289.4 89.4,289.4 89.9,289.3 90.4,289.2 90.9,289.2 91.4,289.1 91.9,289 92.4,288.9 92.9,288.8 93.4,288.8 93.9,288.7 94.4,288.6 94.9,288.5 95.4,288.4 95.9,288.3 96.4,288.2 96.9,288.1 97.4,288 97.9,287.9 98.4,287.8 98.9,287.7 99.4,287.6 99.9,287.5 100.4,287.4 100.9,287.2 101.4,287.1 101.9,287 102.4,286.8 102.9,286.6 103.4,286.5 103.9,286.3 104.4,286.2 104.9,286 105.4,285.8 105.9,285.7 106.4,285.6 106.9,285.4 107.4,285.2 107.9,285.1 108.4,284.9 108.9,284.7 109.4,284.6 109.9,284.4 110.4,284.3 110.9,284.2 111.4,284.1 111.9,284.1 112.4,284 112.9,284.1 113.4,284.3 113.9,284.6 114.4,285 114.9,285.5 115.4,286 115.9,286.5 116.4,287 116.9,287.4 117.4,287.8 117.9,288.1 118.4,288.5 118.9,288.9 119.4,289.3 119.9,289.7 120.4,290 120.9,290.3 121.4,290.6 121.9,290.9 122.4,291.1 122.9,291.3 123.4,291.5 123.9,291.7 124.4,291.9 124.9,292.1 125.4,292.3 125.9,292.4 126.4,292.6 126.9,292.7 127.4,292.8 127.9,292.8 168.4,292.9 L168.4,292.9 Z" fill="#ececec" fill-opacity="0.92" stroke="none" style="mix-blend-mode:multiply"/>
<path d="M40.4,292.9 60.9,292.8 61.4,292.7 61.9,292.5 62.4,291.9 62.9,290.7 63.4,288.7 63.9,286 64.4,282.8 64.9,280 65.4,278.3 65.9,278.3 66.4,279.5 66.9,281.5 67.4,284 67.9,286.5 68.4,288.6 68.9,290.1 69.4,290.8 69.9,290.8 70.4,290.8 70.9,290.7 71.4,290.7 71.9,290.6 72.4,290.6 72.9,290.6 73.4,290.5 73.9,290.5 74.4,290.5 74.9,290.4 75.4,290.4 75.9,290.4 76.4,290.4 76.9,290.3 77.4,290.3 77.9,290.3 78.4,290.3 78.9,290.3 79.4,290.2 79.9,290.2 80.4,290.2 80.9,290.2 81.4,290.1 81.9,290.1 82.4,290.1 82.9,290 83.4,290 83.9,290 84.4,289.9 84.9,289.9 85.4,289.8 85.9,289.8 86.4,289.7 86.9,289.7 87.4,289.6 87.9,289.6 88.4,289.5 88.9,289.4 89.4,289.4 89.9,289.3 90.4,289.2 90.9,289.2 91.4,289.1 91.9,289 92.4,288.9 92.9,288.8 93.4,288.8 93.9,288.7 94.4,288.6 94.9,288.5 95.4,288.4 95.9,288.3 96.4,288.2 96.9,288.1 97.4,288 97.9,287.9 98.4,287.8 98.9,287.7 99.4,287.6 99.9,287.5 100.4,287.4 100.9,287.2 101.4,287.1 101.9,287 102.4,286.8 102.9,286.6 103.4,286.5 103.9,286.3 104.4,286.2 104.9,286 105.4,285.8 105.9,285.7 106.4,285.6 106.9,285.4 107.4,285.2 107.9,285.1 108.4,284.9 108.9,284.7 109.4,284.6 109.9,284.4 110.4,284.3 110.9,284.2 111.4,284.1 111.9,284.1 112.4,284 112.9,284.1 113.4,284.3 113.9,284.6 114.4,285 114.9,285.5 115.4,286 115.9,286.5 116.4,287 116.9,287.4 117.4,287.8 117.9,288.1 118.4,288.5 118.9,288.9 119.4,289.3 119.9,289.7 120.4,290 120.9,290.3 121.4,290.6 121.9,290.9 122.4,291.1 122.9,291.3 123.4,291.5 123.9,291.7 124.4,291.9 124.9,292.1 125.4,292.3 125.9,292.4 126.4,292.6 126.9,292.7 127.4,292.8 127.9,292.8 168.4,292.9" fill="none" stroke="#d4d4d4" stroke-width="1.3" stroke-linejoin="round"/>
<path d="M40.4,301 L40.4,301 60.9,301 61.4,300.9 61.9,300.6 62.4,300 62.9,298.9 63.4,296.9 63.9,294.1 64.4,291 64.9,288.1 65.4,286.5 65.9,286.5 66.4,287.7 66.9,289.7 67.4,292.2 67.9,294.6 68.4,296.7 68.9,298.3 69.4,298.9 69.9,299 70.4,298.9 70.9,298.8 71.4,298.8 71.9,298.8 72.4,298.7 72.9,298.7 73.4,298.6 73.9,298.6 74.4,298.6 74.9,298.5 75.4,298.5 75.9,298.5 76.4,298.4 76.9,298.4 77.4,298.4 77.9,298.4 78.4,298.3 78.9,298.3 79.4,298.3 79.9,298.3 80.4,298.2 80.9,298.2 81.4,298.2 81.9,298.1 82.4,298.1 82.9,298.1 83.4,298 83.9,298 84.4,297.9 84.9,297.9 85.4,297.8 85.9,297.8 86.4,297.7 86.9,297.7 87.4,297.6 87.9,297.5 88.4,297.5 88.9,297.4 89.4,297.3 89.9,297.3 90.4,297.2 90.9,297.1 91.4,297 91.9,296.9 92.4,296.9 92.9,296.8 93.4,296.7 93.9,296.6 94.4,296.5 94.9,296.4 95.4,296.3 95.9,296.3 96.4,296.2 96.9,296.1 97.4,296 97.9,295.9 98.4,295.8 98.9,295.7 99.4,295.6 99.9,295.5 100.4,295.4 100.9,295.3 101.4,295.2 101.9,295.1 102.4,295 102.9,294.8 103.4,294.7 103.9,294.6 104.4,294.5 104.9,294.4 105.4,294.2 105.9,294.1 106.4,294 106.9,293.8 107.4,293.7 107.9,293.6 108.4,293.4 108.9,293.2 109.4,293 109.9,292.9 110.4,292.8 110.9,292.7 111.4,292.6 111.9,292.7 112.4,292.8 112.9,293.1 113.4,293.4 113.9,293.8 114.4,294.2 114.9,294.6 115.4,295 115.9,295.4 116.4,295.8 116.9,296.3 117.4,296.8 117.9,297.3 118.4,297.9 118.9,298.3 119.4,298.7 119.9,299 120.4,299.2 120.9,299.4 121.4,299.6 121.9,299.7 122.4,299.9 122.9,300 123.4,300.1 123.9,300.2 124.4,300.3 124.9,300.4 125.4,300.5 125.9,300.6 126.4,300.6 126.9,300.7 127.4,300.8 127.9,300.8 128.4,300.9 128.9,300.9 129.4,301 168.4,301 L168.4,301 Z" fill="#c2c2c2" fill-opacity="0.92" stroke="none" style="mix-blend-mode:multiply"/>
<path d="M40.4,301 60.9,301 61.4,300.9 61.9,300.6 62.4,300 62.9,298.9 63.4,296.9 63.9,294.1 64.4,291 64.9,288.1 65.4,286.5 65.9,286.5 66.4,287.7 66.9,289.7 67.4,292.2 67.9,294.6 68.4,296.7 68.9,298.3 69.4,298.9 69.9,299 70.4,298.9 70.9,298.8 71.4,298.8 71.9,298.8 72.4,298.7 72.9,298.7 73.4,298.6 73.9,298.6 74.4,298.6 74.9,298.5 75.4,298.5 75.9,298.5 76.4,298.4 76.9,298.4 77.4,298.4 77.9,298.4 78.4,298.3 78.9,298.3 79.4,298.3 79.9,298.3 80.4,298.2 80.9,298.2 81.4,298.2 81.9,298.1 82.4,298.1 82.9,298.1 83.4,298 83.9,298 84.4,297.9 84.9,297.9 85.4,297.8 85.9,297.8 86.4,297.7 86.9,297.7 87.4,297.6 87.9,297.5 88.4,297.5 88.9,297.4 89.4,297.3 89.9,297.3 90.4,297.2 90.9,297.1 91.4,297 91.9,296.9 92.4,296.9 92.9,296.8 93.4,296.7 93.9,296.6 94.4,296.5 94.9,296.4 95.4,296.3 95.9,296.3 96.4,296.2 96.9,296.1 97.4,296 97.9,295.9 98.4,295.8 98.9,295.7 99.4,295.6 99.9,295.5 100.4,295.4 100.9,295.3 101.4,295.2 101.9,295.1 102.4,295 102.9,294.8 103.4,294.7 103.9,294.6 104.4,294.5 104.9,294.4 105.4,294.2 105.9,294.1 106.4,294 106.9,293.8 107.4,293.7 107.9,293.6 108.4,293.4 108.9,293.2 109.4,293 109.9,292.9 110.4,292.8 110.9,292.7 111.4,292.6 111.9,292.7 112.4,292.8 112.9,293.1 113.4,293.4 113.9,293.8 114.4,294.2 114.9,294.6 115.4,295 115.9,295.4 116.4,295.8 116.9,296.3 117.4,296.8 117.9,297.3 118.4,297.9 118.9,298.3 119.4,298.7 119.9,299 120.4,299.2 120.9,299.4 121.4,299.6 121.9,299.7 122.4,299.9 122.9,300 123.4,300.1 123.9,300.2 124.4,300.3 124.9,300.4 125.4,300.5 125.9,300.6 126.4,300.6 126.9,300.7 127.4,300.8 127.9,300.8 128.4,300.9 128.9,300.9 129.4,301 168.4,301" fill="none" stroke="#666666" stroke-width="1.3" stroke-linejoin="round"/>
<path d="M40.4,309.2 L40.4,309.2 60.9,309.1 61.4,309 61.9,308.8 62.4,308.3 62.9,307.2 63.4,305.4 63.9,302.9 64.4,300 64.9,297.4 65.4,296 65.9,295.9 66.4,297 66.9,298.9 67.4,301.1 67.9,303.3 68.4,305.3 68.9,306.7 69.4,307.3 69.9,307.3 70.4,307.3 70.9,307.3 71.4,307.3 71.9,307.3 72.4,307.3 72.9,307.3 73.4,307.3 73.9,307.2 74.4,307.2 74.9,307.2 75.4,307.2 75.9,307.2 76.4,307.2 76.9,307.2 77.4,307.2 77.9,307.2 78.4,307.2 78.9,307.2 79.4,307.2 79.9,307.2 80.4,307.2 80.9,307.2 81.4,307.2 81.9,307.2 82.4,307.1 82.9,307.1 83.4,307.1 83.9,307.1 84.4,307.1 84.9,307.1 85.4,307.1 85.9,307 86.4,307 86.9,307 87.4,306.9 87.9,306.9 88.4,306.8 88.9,306.8 89.4,306.7 89.9,306.7 90.4,306.6 90.9,306.5 91.4,306.5 91.9,306.4 92.4,306.3 92.9,306.2 93.4,306.1 93.9,306.1 94.4,306 94.9,305.9 95.4,305.8 95.9,305.7 96.4,305.6 96.9,305.5 97.4,305.4 97.9,305.2 98.4,305.1 98.9,305 99.4,304.8 99.9,304.7 100.4,304.5 100.9,304.4 101.4,304.2 101.9,304 102.4,303.9 102.9,303.7 103.4,303.5 103.9,303.4 104.4,303.2 104.9,303.1 105.4,302.9 105.9,302.7 106.4,302.5 106.9,302.3 107.4,302 107.9,301.8 108.4,301.6 108.9,301.4 109.4,301.2 109.9,301 110.4,300.9 110.9,300.8 111.4,300.8 111.9,300.8 112.4,300.9 112.9,301.1 113.4,301.4 113.9,301.6 114.4,302 114.9,302.3 115.4,302.6 115.9,303 116.4,303.3 116.9,303.7 117.4,304.2 117.9,304.7 118.4,305.2 118.9,305.7 119.4,306.1 119.9,306.4 120.4,306.7 120.9,306.9 121.4,307.1 121.9,307.3 122.4,307.5 122.9,307.7 123.4,307.8 123.9,308 124.4,308.1 124.9,308.3 125.4,308.4 125.9,308.5 126.4,308.6 126.9,308.7 127.4,308.8 127.9,308.9 128.4,309 128.9,309 129.4,309.1 129.9,309.2 168.4,309.2 L168.4,309.2 Z" fill="#8c8c8c" fill-opacity="0.92" stroke="none" style="mix-blend-mode:multiply"/>
<path d="M40.4,309.2 60.9,309.1 61.4,309 61.9,308.8 62.4,308.3 62.9,307.2 63.4,305.4 63.9,302.9 64.4,300 64.9,297.4 65.4,296 65.9,295.9 66.4,297 66.9,298.9 67.4,301.1 67.9,303.3 68.4,305.3 68.9,306.7 69.4,307.3 69.9,307.3 70.4,307.3 70.9,307.3 71.4,307.3 71.9,307.3 72.4,307.3 72.9,307.3 73.4,307.3 73.9,307.2 74.4,307.2 74.9,307.2 75.4,307.2 75.9,307.2 76.4,307.2 76.9,307.2 77.4,307.2 77.9,307.2 78.4,307.2 78.9,307.2 79.4,307.2 79.9,307.2 80.4,307.2 80.9,307.2 81.4,307.2 81.9,307.2 82.4,307.1 82.9,307.1 83.4,307.1 83.9,307.1 84.4,307.1 84.9,307.1 85.4,307.1 85.9,307 86.4,307 86.9,307 87.4,306.9 87.9,306.9 88.4,306.8 88.9,306.8 89.4,306.7 89.9,306.7 90.4,306.6 90.9,306.5 91.4,306.5 91.9,306.4 92.4,306.3 92.9,306.2 93.4,306.1 93.9,306.1 94.4,306 94.9,305.9 95.4,305.8 95.9,305.7 96.4,305.6 96.9,305.5 97.4,305.4 97.9,305.2 98.4,305.1 98.9,305 99.4,304.8 99.9,304.7 100.4,304.5 100.9,304.4 101.4,304.2 101.9,304 102.4,303.9 102.9,303.7 103.4,303.5 103.9,303.4 104.4,303.2 104.9,303.1 105.4,302.9 105.9,302.7 106.4,302.5 106.9,302.3 107.4,302 107.9,301.8 108.4,301.6 108.9,301.4 109.4,301.2 109.9,301 110.4,300.9 110.9,300.8 111.4,300.8 111.9,300.8 112.4,300.9 112.9,301.1 113.4,301.4 113.9,301.6 114.4,302 114.9,302.3 115.4,302.6 115.9,303 116.4,303.3 116.9,303.7 117.4,304.2 117.9,304.7 118.4,305.2 118.9,305.7 119.4,306.1 119.9,306.4 120.4,306.7 120.9,306.9 121.4,307.1 121.9,307.3 122.4,307.5 122.9,307.7 123.4,307.8 123.9,308 124.4,308.1 124.9,308.3 125.4,308.4 125.9,308.5 126.4,308.6 126.9,308.7 127.4,308.8 127.9,308.9 128.4,309 128.9,309 129.4,309.1 129.9,309.2 168.4,309.2" fill="none" stroke="#161616" stroke-width="1.3" stroke-linejoin="round"/>
<path d="M40.4,317.3 L40.4,317.3 60.9,317.3 61.4,317.2 61.9,316.9 62.4,316.3 62.9,315.2 63.4,313.2 63.9,310.5 64.4,307.3 64.9,304.4 65.4,302.8 65.9,302.8 66.4,304 66.9,306 67.4,308.5 67.9,310.9 68.4,313 68.9,314.7 69.4,315.8 69.9,316.5 70.4,316.9 70.9,317.2 71.4,317.3 71.9,317.3 168.4,317.3 L168.4,317.3 Z" fill="#eed9d9" fill-opacity="0.92" stroke="none" style="mix-blend-mode:multiply"/>
<path d="M40.4,317.3 60.9,317.3 61.4,317.2 61.9,316.9 62.4,316.3 62.9,315.2 63.4,313.2 63.9,310.5 64.4,307.3 64.9,304.4 65.4,302.8 65.9,302.8 66.4,304 66.9,306 67.4,308.5 67.9,310.9 68.4,313 68.9,314.7 69.4,315.8 69.9,316.5 70.4,316.9 70.9,317.2 71.4,317.3 71.9,317.3 168.4,317.3" fill="none" stroke="#d9a3a3" stroke-width="1.3" stroke-linejoin="round"/>
<path d="M40.4,325.5 L40.4,325.5 60.9,325.4 61.4,325.3 61.9,325.1 62.4,324.5 62.9,323.3 63.4,321.4 63.9,318.6 64.4,315.4 64.9,312.6 65.4,311 65.9,310.9 66.4,312.1 66.9,314.2 67.4,316.6 67.9,319.1 68.4,321.2 68.9,322.8 69.4,324 69.9,324.7 70.4,325.1 70.9,325.3 71.4,325.4 71.9,325.5 168.4,325.5 L168.4,325.5 Z" fill="#a9c59b" fill-opacity="0.92" stroke="none" style="mix-blend-mode:multiply"/>
<path d="M40.4,325.5 60.9,325.4 61.4,325.3 61.9,325.1 62.4,324.5 62.9,323.3 63.4,321.4 63.9,318.6 64.4,315.4 64.9,312.6 65.4,311 65.9,310.9 66.4,312.1 66.9,314.2 67.4,316.6 67.9,319.1 68.4,321.2 68.9,322.8 69.4,324 69.9,324.7 70.4,325.1 70.9,325.3 71.4,325.4 71.9,325.5 168.4,325.5" fill="none" stroke="#3c7a38" stroke-width="1.3" stroke-linejoin="round"/>
<path d="M40.4,333.6 L40.4,333.6 60.9,333.6 61.4,333.5 61.9,333.2 62.4,332.6 62.9,331.5 63.4,329.5 63.9,326.8 64.4,323.6 64.9,320.7 65.4,319.1 65.9,319.1 66.4,320.3 66.9,322.3 67.4,324.8 67.9,327.2 68.4,329.3 68.9,331 69.4,332.1 69.9,332.8 70.4,333.2 70.9,333.5 71.4,333.6 71.9,333.6 168.4,333.6 L168.4,333.6 Z" fill="#dcf0ae" fill-opacity="0.92" stroke="none" style="mix-blend-mode:multiply"/>
<path d="M40.4,333.6 60.9,333.6 61.4,333.5 61.9,333.2 62.4,332.6 62.9,331.5 63.4,329.5 63.9,326.8 64.4,323.6 64.9,320.7 65.4,319.1 65.9,319.1 66.4,320.3 66.9,322.3 67.4,324.8 67.9,327.2 68.4,329.3 68.9,331 69.4,332.1 69.9,332.8 70.4,333.2 70.9,333.5 71.4,333.6 71.9,333.6 168.4,333.6" fill="none" stroke="#9acc2c" stroke-width="1.3" stroke-linejoin="round"/>
<path d="M40.4,341.8 L40.4,341.8 60.9,341.7 61.4,341.6 61.9,341.4 62.4,340.8 62.9,339.6 63.4,337.7 63.9,334.9 64.4,331.7 64.9,328.9 65.4,327.3 65.9,327.2 66.4,328.4 66.9,330.5 67.4,332.9 67.9,335.4 68.4,337.5 68.9,339 69.4,339.7 69.9,339.8 70.4,339.8 70.9,339.8 71.4,339.8 71.9,339.8 72.4,339.8 72.9,339.8 73.4,339.8 73.9,339.8 74.4,339.8 74.9,339.8 75.4,339.8 75.9,339.8 76.4,339.8 76.9,339.8 77.4,339.8 77.9,339.8 78.4,339.8 78.9,339.7 79.4,339.7 79.9,339.7 80.4,339.6 80.9,339.6 81.4,339.6 81.9,339.5 82.4,339.5 82.9,339.4 83.4,339.4 83.9,339.3 84.4,339.3 84.9,339.2 85.4,339.2 85.9,339.1 86.4,339.1 86.9,339 87.4,339 87.9,338.9 88.4,338.8 88.9,338.8 89.4,338.7 89.9,338.7 90.4,338.6 90.9,338.5 91.4,338.4 91.9,338.3 92.4,338.2 92.9,338.1 93.4,338 93.9,337.9 94.4,337.8 94.9,337.7 95.4,337.6 95.9,337.4 96.4,337.3 96.9,337.2 97.4,337 97.9,336.9 98.4,336.8 98.9,336.7 99.4,336.5 99.9,336.4 100.4,336.3 100.9,336.1 101.4,336 101.9,335.8 102.4,335.7 102.9,335.5 103.4,335.4 103.9,335.3 104.4,335.2 104.9,335.2 105.4,335.2 105.9,335.2 106.4,335.3 106.9,335.4 107.4,335.5 107.9,335.7 108.4,335.8 108.9,336 109.4,336.2 109.9,336.4 110.4,336.6 110.9,336.9 111.4,337.2 111.9,337.6 112.4,338 112.9,338.4 113.4,338.8 113.9,339.2 114.4,339.5 114.9,339.8 115.4,340 115.9,340.2 116.4,340.3 116.9,340.5 117.4,340.6 117.9,340.8 118.4,340.9 118.9,341 119.4,341.1 119.9,341.2 120.4,341.3 120.9,341.3 121.4,341.4 121.9,341.5 122.4,341.6 122.9,341.6 123.4,341.7 123.9,341.7 124.4,341.8 168.4,341.8 L168.4,341.8 Z" fill="#fbd4a6" fill-opacity="0.92" stroke="none" style="mix-blend-mode:multiply"/>
<path d="M40.4,341.8 60.9,341.7 61.4,341.6 61.9,341.4 62.4,340.8 62.9,339.6 63.4,337.7 63.9,334.9 64.4,331.7 64.9,328.9 65.4,327.3 65.9,327.2 66.4,328.4 66.9,330.5 67.4,332.9 67.9,335.4 68.4,337.5 68.9,339 69.4,339.7 69.9,339.8 70.4,339.8 70.9,339.8 71.4,339.8 71.9,339.8 72.4,339.8 72.9,339.8 73.4,339.8 73.9,339.8 74.4,339.8 74.9,339.8 75.4,339.8 75.9,339.8 76.4,339.8 76.9,339.8 77.4,339.8 77.9,339.8 78.4,339.8 78.9,339.7 79.4,339.7 79.9,339.7 80.4,339.6 80.9,339.6 81.4,339.6 81.9,339.5 82.4,339.5 82.9,339.4 83.4,339.4 83.9,339.3 84.4,339.3 84.9,339.2 85.4,339.2 85.9,339.1 86.4,339.1 86.9,339 87.4,339 87.9,338.9 88.4,338.8 88.9,338.8 89.4,338.7 89.9,338.7 90.4,338.6 90.9,338.5 91.4,338.4 91.9,338.3 92.4,338.2 92.9,338.1 93.4,338 93.9,337.9 94.4,337.8 94.9,337.7 95.4,337.6 95.9,337.4 96.4,337.3 96.9,337.2 97.4,337 97.9,336.9 98.4,336.8 98.9,336.7 99.4,336.5 99.9,336.4 100.4,336.3 100.9,336.1 101.4,336 101.9,335.8 102.4,335.7 102.9,335.5 103.4,335.4 103.9,335.3 104.4,335.2 104.9,335.2 105.4,335.2 105.9,335.2 106.4,335.3 106.9,335.4 107.4,335.5 107.9,335.7 108.4,335.8 108.9,336 109.4,336.2 109.9,336.4 110.4,336.6 110.9,336.9 111.4,337.2 111.9,337.6 112.4,338 112.9,338.4 113.4,338.8 113.9,339.2 114.4,339.5 114.9,339.8 115.4,340 115.9,340.2 116.4,340.3 116.9,340.5 117.4,340.6 117.9,340.8 118.4,340.9 118.9,341 119.4,341.1 119.9,341.2 120.4,341.3 120.9,341.3 121.4,341.4 121.9,341.5 122.4,341.6 122.9,341.6 123.4,341.7 123.9,341.7 124.4,341.8 168.4,341.8" fill="none" stroke="#f5921e" stroke-width="1.3" stroke-linejoin="round"/>
<path d="M40.4,349.9 L40.4,349.9 60.9,349.9 61.4,349.8 61.9,349.5 62.4,348.9 62.9,347.8 63.4,345.8 63.9,343.1 64.4,339.9 64.9,337.1 65.4,335.4 65.9,335.4 66.4,336.6 66.9,338.6 67.4,341.1 67.9,343.5 68.4,345.7 68.9,347.2 69.4,348 69.9,348.2 70.4,348.2 70.9,348.2 71.4,348.2 71.9,348.3 72.4,348.3 72.9,348.4 73.4,348.4 73.9,348.4 74.4,348.4 74.9,348.4 75.4,348.4 75.9,348.4 76.4,348.4 76.9,348.4 77.4,348.4 77.9,348.4 78.4,348.4 78.9,348.4 79.4,348.4 79.9,348.4 80.4,348.3 80.9,348.3 81.4,348.3 81.9,348.3 82.4,348.3 82.9,348.3 83.4,348.2 83.9,348.2 84.4,348.2 84.9,348.2 85.4,348.1 85.9,348.1 86.4,348.1 86.9,348 87.4,348 87.9,348 88.4,347.9 88.9,347.9 89.4,347.9 89.9,347.8 90.4,347.8 90.9,347.8 91.4,347.7 91.9,347.7 92.4,347.6 92.9,347.6 93.4,347.5 93.9,347.4 94.4,347.4 94.9,347.3 95.4,347.2 95.9,347.1 96.4,347 96.9,346.9 97.4,346.8 97.9,346.7 98.4,346.6 98.9,346.5 99.4,346.3 99.9,346.2 100.4,346.1 100.9,345.9 101.4,345.7 101.9,345.5 102.4,345.3 102.9,345 103.4,344.7 103.9,344.4 104.4,344.1 104.9,343.9 105.4,343.5 105.9,343.2 106.4,342.9 106.9,342.6 107.4,342.3 107.9,341.9 108.4,341.5 108.9,341.1 109.4,340.7 109.9,340.5 110.4,340.4 110.9,340.4 111.4,340.5 111.9,340.7 112.4,341 112.9,341.3 113.4,341.6 113.9,342 114.4,342.5 114.9,342.9 115.4,343.3 115.9,343.7 116.4,344.2 116.9,344.7 117.4,345.3 117.9,345.9 118.4,346.5 118.9,347 119.4,347.5 119.9,347.8 120.4,348 120.9,348.2 121.4,348.3 121.9,348.4 122.4,348.5 122.9,348.6 123.4,348.7 123.9,348.8 124.4,348.9 124.9,349 125.4,349.1 125.9,349.2 126.4,349.3 126.9,349.4 127.4,349.5 127.9,349.6 128.4,349.7 128.9,349.8 129.4,349.8 129.9,349.9 168.4,349.9 L168.4,349.9 Z" fill="#b4ddf2" fill-opacity="0.92" stroke="none" style="mix-blend-mode:multiply"/>
<path d="M40.4,349.9 60.9,349.9 61.4,349.8 61.9,349.5 62.4,348.9 62.9,347.8 63.4,345.8 63.9,343.1 64.4,339.9 64.9,337.1 65.4,335.4 65.9,335.4 66.4,336.6 66.9,338.6 67.4,341.1 67.9,343.5 68.4,345.7 68.9,347.2 69.4,348 69.9,348.2 70.4,348.2 70.9,348.2 71.4,348.2 71.9,348.3 72.4,348.3 72.9,348.4 73.4,348.4 73.9,348.4 74.4,348.4 74.9,348.4 75.4,348.4 75.9,348.4 76.4,348.4 76.9,348.4 77.4,348.4 77.9,348.4 78.4,348.4 78.9,348.4 79.4,348.4 79.9,348.4 80.4,348.3 80.9,348.3 81.4,348.3 81.9,348.3 82.4,348.3 82.9,348.3 83.4,348.2 83.9,348.2 84.4,348.2 84.9,348.2 85.4,348.1 85.9,348.1 86.4,348.1 86.9,348 87.4,348 87.9,348 88.4,347.9 88.9,347.9 89.4,347.9 89.9,347.8 90.4,347.8 90.9,347.8 91.4,347.7 91.9,347.7 92.4,347.6 92.9,347.6 93.4,347.5 93.9,347.4 94.4,347.4 94.9,347.3 95.4,347.2 95.9,347.1 96.4,347 96.9,346.9 97.4,346.8 97.9,346.7 98.4,346.6 98.9,346.5 99.4,346.3 99.9,346.2 100.4,346.1 100.9,345.9 101.4,345.7 101.9,345.5 102.4,345.3 102.9,345 103.4,344.7 103.9,344.4 104.4,344.1 104.9,343.9 105.4,343.5 105.9,343.2 106.4,342.9 106.9,342.6 107.4,342.3 107.9,341.9 108.4,341.5 108.9,341.1 109.4,340.7 109.9,340.5 110.4,340.4 110.9,340.4 111.4,340.5 111.9,340.7 112.4,341 112.9,341.3 113.4,341.6 113.9,342 114.4,342.5 114.9,342.9 115.4,343.3 115.9,343.7 116.4,344.2 116.9,344.7 117.4,345.3 117.9,345.9 118.4,346.5 118.9,347 119.4,347.5 119.9,347.8 120.4,348 120.9,348.2 121.4,348.3 121.9,348.4 122.4,348.5 122.9,348.6 123.4,348.7 123.9,348.8 124.4,348.9 124.9,349 125.4,349.1 125.9,349.2 126.4,349.3 126.9,349.4 127.4,349.5 127.9,349.6 128.4,349.7 128.9,349.8 129.4,349.8 129.9,349.9 168.4,349.9" fill="none" stroke="#5cbce4" stroke-width="1.3" stroke-linejoin="round"/>
<path d="M40.4,358.1 L40.4,358.1 59.9,358.1 60.4,358 60.9,357.9 61.4,357.7 61.9,357.2 62.4,356.2 62.9,354.7 63.4,352.5 63.9,349.8 64.4,347.1 64.9,344.7 65.4,343.5 65.9,343.4 66.4,344.4 66.9,346 67.4,348.1 67.9,350.3 68.4,352.3 68.9,354.1 69.4,355.5 69.9,356.5 70.4,357.2 70.9,357.6 71.4,357.8 71.9,358 72.4,358 72.9,358.1 168.4,358.1 L168.4,358.1 Z" fill="#f6a9a9" fill-opacity="0.92" stroke="none" style="mix-blend-mode:multiply"/>
<path d="M40.4,358.1 59.9,358.1 60.4,358 60.9,357.9 61.4,357.7 61.9,357.2 62.4,356.2 62.9,354.7 63.4,352.5 63.9,349.8 64.4,347.1 64.9,344.7 65.4,343.5 65.9,343.4 66.4,344.4 66.9,346 67.4,348.1 67.9,350.3 68.4,352.3 68.9,354.1 69.4,355.5 69.9,356.5 70.4,357.2 70.9,357.6 71.4,357.8 71.9,358 72.4,358 72.9,358.1 168.4,358.1" fill="none" stroke="#e64646" stroke-width="1.3" stroke-linejoin="round"/>
</g>
<path d="M40.4,359.4 V221.5 H168.4 V359.4" fill="none" stroke="#8e8e8e" stroke-width="1"/>
<path d="M39.9,359.4 H168.9" fill="none" stroke="#ee8f8f" stroke-width="1.2"/>
<clipPath id="clip221_1"><rect x="182.4" y="221.5" width="127.9" height="138.4"/></clipPath>
<g clip-path="url(#clip221_1)">
<path d="M182.4,235.8 L182.4,235.8 203.4,235.8 203.9,235.7 204.4,235.5 204.9,235 205.4,233.9 205.9,232.1 206.4,229.5 206.9,226.4 207.4,223.4 207.9,221.5 208.4,221.1 208.9,222.1 209.4,223.9 209.9,225.6 210.4,225.7 210.9,225.5 211.4,225.6 211.9,225.9 212.4,226.3 212.9,226.7 213.4,227.2 213.9,227.5 214.4,227.7 214.9,227.8 215.4,227.9 215.9,228 216.4,228.1 216.9,228.2 217.4,228.3 217.9,228.4 218.4,228.6 218.9,228.8 219.4,229.1 219.9,229.3 220.4,229.6 220.9,229.9 221.4,230.2 221.9,230.5 222.4,230.8 222.9,231.2 223.4,231.5 223.9,231.8 224.4,232.1 224.9,232.3 225.4,232.5 225.9,232.7 226.4,232.9 226.9,233 227.4,233.2 227.9,233.3 228.4,233.4 228.9,233.6 229.4,233.7 229.9,233.8 230.4,233.9 230.9,234.1 231.4,234.2 231.9,234.3 232.4,234.4 232.9,234.5 233.4,234.6 233.9,234.7 234.4,234.8 234.9,234.9 235.4,235 235.9,235 236.4,235.1 236.9,235.2 237.4,235.2 237.9,235.3 238.4,235.3 238.9,235.4 239.4,235.4 239.9,235.5 240.4,235.5 240.9,235.6 241.4,235.6 241.9,235.6 242.4,235.7 242.9,235.7 243.4,235.7 243.9,235.7 244.4,235.8 309.9,235.8 L310.3,235.8 Z" fill="#eaa2bc" fill-opacity="0.92" stroke="none" style="mix-blend-mode:multiply"/>
<path d="M182.4,235.8 203.4,235.8 203.9,235.7 204.4,235.5 204.9,235 205.4,233.9 205.9,232.1 206.4,229.5 206.9,226.4 207.4,223.4 207.9,221.5 208.4,221.1 208.9,222.1 209.4,223.9 209.9,225.6 210.4,225.7 210.9,225.5 211.4,225.6 211.9,225.9 212.4,226.3 212.9,226.7 213.4,227.2 213.9,227.5 214.4,227.7 214.9,227.8 215.4,227.9 215.9,228 216.4,228.1 216.9,228.2 217.4,228.3 217.9,228.4 218.4,228.6 218.9,228.8 219.4,229.1 219.9,229.3 220.4,229.6 220.9,229.9 221.4,230.2 221.9,230.5 222.4,230.8 222.9,231.2 223.4,231.5 223.9,231.8 224.4,232.1 224.9,232.3 225.4,232.5 225.9,232.7 226.4,232.9 226.9,233 227.4,233.2 227.9,233.3 228.4,233.4 228.9,233.6 229.4,233.7 229.9,233.8 230.4,233.9 230.9,234.1 231.4,234.2 231.9,234.3 232.4,234.4 232.9,234.5 233.4,234.6 233.9,234.7 234.4,234.8 234.9,234.9 235.4,235 235.9,235 236.4,235.1 236.9,235.2 237.4,235.2 237.9,235.3 238.4,235.3 238.9,235.4 239.4,235.4 239.9,235.5 240.4,235.5 240.9,235.6 241.4,235.6 241.9,235.6 242.4,235.7 242.9,235.7 243.4,235.7 243.9,235.7 244.4,235.8 309.9,235.8" fill="none" stroke="#d23a6a" stroke-width="1.3" stroke-linejoin="round"/>
<path d="M182.4,244 L182.4,244 203.4,243.9 203.9,243.8 204.4,243.6 204.9,243.1 205.4,242.1 205.9,240.3 206.4,237.7 206.9,234.5 207.4,231.6 207.9,229.6 208.4,229.3 208.9,230.3 209.4,232.2 209.9,234.6 210.4,236.8 210.9,237.8 211.4,238 211.9,238 212.4,238 212.9,238 213.4,238 213.9,238 214.4,238 214.9,238 215.4,238 215.9,238 216.4,238 216.9,238 217.4,238 217.9,238 218.4,238 218.9,238 219.4,238.1 219.9,238.1 220.4,238.2 220.9,238.4 221.4,238.5 221.9,238.6 222.4,238.8 222.9,238.9 223.4,239 223.9,239.2 224.4,239.3 224.9,239.4 225.4,239.5 225.9,239.7 226.4,239.8 226.9,239.9 227.4,240 227.9,240.1 228.4,240.3 228.9,240.4 229.4,240.5 229.9,240.6 230.4,240.7 230.9,240.9 231.4,241 231.9,241.1 232.4,241.2 232.9,241.3 233.4,241.4 233.9,241.5 234.4,241.6 234.9,241.7 235.4,241.8 235.9,241.8 236.4,241.9 236.9,242 237.4,242.1 237.9,242.1 238.4,242.2 238.9,242.3 239.4,242.4 239.9,242.4 240.4,242.5 240.9,242.6 241.4,242.6 241.9,242.7 242.4,242.7 242.9,242.8 243.4,242.9 243.9,242.9 244.4,243 244.9,243 245.4,243.1 245.9,243.1 246.4,243.2 246.9,243.2 247.4,243.2 247.9,243.3 248.4,243.3 248.9,243.4 249.4,243.4 249.9,243.4 250.4,243.5 250.9,243.5 251.4,243.5 251.9,243.6 252.4,243.6 252.9,243.6 253.4,243.7 253.9,243.7 254.4,243.7 254.9,243.8 255.4,243.8 255.9,243.8 256.4,243.8 256.9,243.9 257.4,243.9 257.9,243.9 309.9,244 L310.3,244 Z" fill="#eee8cc" fill-opacity="0.92" stroke="none" style="mix-blend-mode:multiply"/>
<path d="M182.4,244 203.4,243.9 203.9,243.8 204.4,243.6 204.9,243.1 205.4,242.1 205.9,240.3 206.4,237.7 206.9,234.5 207.4,231.6 207.9,229.6 208.4,229.3 208.9,230.3 209.4,232.2 209.9,234.6 210.4,236.8 210.9,237.8 211.4,238 211.9,238 212.4,238 212.9,238 213.4,238 213.9,238 214.4,238 214.9,238 215.4,238 215.9,238 216.4,238 216.9,238 217.4,238 217.9,238 218.4,238 218.9,238 219.4,238.1 219.9,238.1 220.4,238.2 220.9,238.4 221.4,238.5 221.9,238.6 222.4,238.8 222.9,238.9 223.4,239 223.9,239.2 224.4,239.3 224.9,239.4 225.4,239.5 225.9,239.7 226.4,239.8 226.9,239.9 227.4,240 227.9,240.1 228.4,240.3 228.9,240.4 229.4,240.5 229.9,240.6 230.4,240.7 230.9,240.9 231.4,241 231.9,241.1 232.4,241.2 232.9,241.3 233.4,241.4 233.9,241.5 234.4,241.6 234.9,241.7 235.4,241.8 235.9,241.8 236.4,241.9 236.9,242 237.4,242.1 237.9,242.1 238.4,242.2 238.9,242.3 239.4,242.4 239.9,242.4 240.4,242.5 240.9,242.6 241.4,242.6 241.9,242.7 242.4,242.7 242.9,242.8 243.4,242.9 243.9,242.9 244.4,243 244.9,243 245.4,243.1 245.9,243.1 246.4,243.2 246.9,243.2 247.4,243.2 247.9,243.3 248.4,243.3 248.9,243.4 249.4,243.4 249.9,243.4 250.4,243.5 250.9,243.5 251.4,243.5 251.9,243.6 252.4,243.6 252.9,243.6 253.4,243.7 253.9,243.7 254.4,243.7 254.9,243.8 255.4,243.8 255.9,243.8 256.4,243.8 256.9,243.9 257.4,243.9 257.9,243.9 309.9,244" fill="none" stroke="#d2c99c" stroke-width="1.3" stroke-linejoin="round"/>
<path d="M182.4,252.1 L182.4,252.1 203.4,252.1 203.9,252 204.4,251.8 204.9,251.3 205.4,250.2 205.9,248.4 206.4,245.8 206.9,242.7 207.4,239.7 207.9,237.8 208.4,237.4 208.9,238.4 209.4,240.2 209.9,241.9 210.4,242 210.9,242 211.4,242.3 211.9,243.1 212.4,244.1 212.9,244.8 213.4,245 213.9,245.2 214.4,245.3 214.9,245.4 215.4,245.5 215.9,245.6 216.4,245.7 216.9,245.7 217.4,245.8 217.9,245.9 218.4,246.1 218.9,246.2 219.4,246.3 219.9,246.4 220.4,246.6 220.9,246.7 221.4,246.9 221.9,247 222.4,247.2 222.9,247.3 223.4,247.4 223.9,247.6 224.4,247.7 224.9,247.9 225.4,248 225.9,248.2 226.4,248.3 226.9,248.5 227.4,248.6 227.9,248.8 228.4,248.9 228.9,249 229.4,249.2 229.9,249.3 230.4,249.5 230.9,249.6 231.4,249.7 231.9,249.8 232.4,249.9 232.9,250.1 233.4,250.2 233.9,250.3 234.4,250.4 234.9,250.5 235.4,250.6 235.9,250.7 236.4,250.8 236.9,250.9 237.4,251 237.9,251 238.4,251.1 238.9,251.2 239.4,251.3 239.9,251.3 240.4,251.4 240.9,251.5 241.4,251.5 241.9,251.6 242.4,251.6 242.9,251.7 243.4,251.7 243.9,251.8 244.4,251.8 244.9,251.9 245.4,251.9 245.9,252 246.4,252 246.9,252 247.4,252.1 309.9,252.1 L310.3,252.1 Z" fill="#9fc9a8" fill-opacity="0.92" stroke="none" style="mix-blend-mode:multiply"/>
<path d="M182.4,252.1 203.4,252.1 203.9,252 204.4,251.8 204.9,251.3 205.4,250.2 205.9,248.4 206.4,245.8 206.9,242.7 207.4,239.7 207.9,237.8 208.4,237.4 208.9,238.4 209.4,240.2 209.9,241.9 210.4,242 210.9,242 211.4,242.3 211.9,243.1 212.4,244.1 212.9,244.8 213.4,245 213.9,245.2 214.4,245.3 214.9,245.4 215.4,245.5 215.9,245.6 216.4,245.7 216.9,245.7 217.4,245.8 217.9,245.9 218.4,246.1 218.9,246.2 219.4,246.3 219.9,246.4 220.4,246.6 220.9,246.7 221.4,246.9 221.9,247 222.4,247.2 222.9,247.3 223.4,247.4 223.9,247.6 224.4,247.7 224.9,247.9 225.4,248 225.9,248.2 226.4,248.3 226.9,248.5 227.4,248.6 227.9,248.8 228.4,248.9 228.9,249 229.4,249.2 229.9,249.3 230.4,249.5 230.9,249.6 231.4,249.7 231.9,249.8 232.4,249.9 232.9,250.1 233.4,250.2 233.9,250.3 234.4,250.4 234.9,250.5 235.4,250.6 235.9,250.7 236.4,250.8 236.9,250.9 237.4,251 237.9,251 238.4,251.1 238.9,251.2 239.4,251.3 239.9,251.3 240.4,251.4 240.9,251.5 241.4,251.5 241.9,251.6 242.4,251.6 242.9,251.7 243.4,251.7 243.9,251.8 244.4,251.8 244.9,251.9 245.4,251.9 245.9,252 246.4,252 246.9,252 247.4,252.1 309.9,252.1" fill="none" stroke="#2e7d4a" stroke-width="1.3" stroke-linejoin="round"/>
<path d="M182.4,260.3 L182.4,260.3 203.4,260.2 203.9,260.1 204.4,259.9 204.9,259.4 205.4,258.4 205.9,256.6 206.4,254 206.9,250.8 207.4,247.9 207.9,245.9 208.4,245.6 208.9,246.6 209.4,248.5 209.9,250.9 210.4,253.1 210.9,254.1 211.4,254.3 211.9,254.3 212.4,254.3 212.9,254.3 213.4,254.4 213.9,254.4 214.4,254.5 214.9,254.6 215.4,254.6 215.9,254.7 216.4,254.8 216.9,254.8 217.4,254.9 217.9,255 218.4,255.1 218.9,255.2 219.4,255.2 219.9,255.3 220.4,255.5 220.9,255.6 221.4,255.7 221.9,255.8 222.4,255.9 222.9,256.1 223.4,256.2 223.9,256.3 224.4,256.4 224.9,256.6 225.4,256.7 225.9,256.8 226.4,256.9 226.9,257 227.4,257.1 227.9,257.2 228.4,257.3 228.9,257.4 229.4,257.5 229.9,257.6 230.4,257.7 230.9,257.8 231.4,257.9 231.9,257.9 232.4,258 232.9,258.1 233.4,258.2 233.9,258.3 234.4,258.4 234.9,258.4 235.4,258.5 235.9,258.6 236.4,258.6 236.9,258.7 237.4,258.8 237.9,258.8 238.4,258.9 238.9,258.9 239.4,259 239.9,259 240.4,259.1 240.9,259.1 241.4,259.2 241.9,259.2 242.4,259.3 242.9,259.3 243.4,259.4 243.9,259.4 244.4,259.5 244.9,259.5 245.4,259.5 245.9,259.6 246.4,259.6 246.9,259.7 247.4,259.7 247.9,259.7 248.4,259.8 248.9,259.8 249.4,259.8 249.9,259.9 250.4,259.9 250.9,259.9 251.4,260 251.9,260 252.4,260 252.9,260.1 253.4,260.1 253.9,260.1 254.4,260.1 254.9,260.2 255.4,260.2 255.9,260.2 256.4,260.2 256.9,260.2 309.9,260.3 L310.3,260.3 Z" fill="#d2f3df" fill-opacity="0.92" stroke="none" style="mix-blend-mode:multiply"/>
<path d="M182.4,260.3 203.4,260.2 203.9,260.1 204.4,259.9 204.9,259.4 205.4,258.4 205.9,256.6 206.4,254 206.9,250.8 207.4,247.9 207.9,245.9 208.4,245.6 208.9,246.6 209.4,248.5 209.9,250.9 210.4,253.1 210.9,254.1 211.4,254.3 211.9,254.3 212.4,254.3 212.9,254.3 213.4,254.4 213.9,254.4 214.4,254.5 214.9,254.6 215.4,254.6 215.9,254.7 216.4,254.8 216.9,254.8 217.4,254.9 217.9,255 218.4,255.1 218.9,255.2 219.4,255.2 219.9,255.3 220.4,255.5 220.9,255.6 221.4,255.7 221.9,255.8 222.4,255.9 222.9,256.1 223.4,256.2 223.9,256.3 224.4,256.4 224.9,256.6 225.4,256.7 225.9,256.8 226.4,256.9 226.9,257 227.4,257.1 227.9,257.2 228.4,257.3 228.9,257.4 229.4,257.5 229.9,257.6 230.4,257.7 230.9,257.8 231.4,257.9 231.9,257.9 232.4,258 232.9,258.1 233.4,258.2 233.9,258.3 234.4,258.4 234.9,258.4 235.4,258.5 235.9,258.6 236.4,258.6 236.9,258.7 237.4,258.8 237.9,258.8 238.4,258.9 238.9,258.9 239.4,259 239.9,259 240.4,259.1 240.9,259.1 241.4,259.2 241.9,259.2 242.4,259.3 242.9,259.3 243.4,259.4 243.9,259.4 244.4,259.5 244.9,259.5 245.4,259.5 245.9,259.6 246.4,259.6 246.9,259.7 247.4,259.7 247.9,259.7 248.4,259.8 248.9,259.8 249.4,259.8 249.9,259.9 250.4,259.9 250.9,259.9 251.4,260 251.9,260 252.4,260 252.9,260.1 253.4,260.1 253.9,260.1 254.4,260.1 254.9,260.2 255.4,260.2 255.9,260.2 256.4,260.2 256.9,260.2 309.9,260.3" fill="none" stroke="#92e2b2" stroke-width="1.3" stroke-linejoin="round"/>
<path d="M182.4,268.4 L182.4,268.4 203.4,268.4 203.9,268.3 204.4,268.1 204.9,267.6 205.4,266.5 205.9,264.7 206.4,262.1 206.9,259 207.4,256 207.9,254.1 208.4,253.7 208.9,254.7 209.4,256.3 209.9,257.1 210.4,257.4 210.9,257.9 211.4,258.4 211.9,258.7 212.4,258.7 212.9,258.6 213.4,258.4 213.9,258.1 214.4,257.9 214.9,257.7 215.4,257.5 215.9,257.3 216.4,257.2 216.9,257 217.4,256.9 217.9,256.9 218.4,256.9 218.9,257 219.4,257.1 219.9,257.3 220.4,257.5 220.9,257.7 221.4,258 221.9,258.4 222.4,259 222.9,259.6 223.4,260.2 223.9,260.8 224.4,261.3 224.9,261.7 225.4,262.1 225.9,262.4 226.4,262.7 226.9,262.9 227.4,263.2 227.9,263.4 228.4,263.7 228.9,263.9 229.4,264.1 229.9,264.3 230.4,264.5 230.9,264.8 231.4,265 231.9,265.2 232.4,265.4 232.9,265.6 233.4,265.8 233.9,266 234.4,266.2 234.9,266.3 235.4,266.4 235.9,266.5 236.4,266.6 236.9,266.7 237.4,266.8 237.9,266.9 238.4,267 238.9,267 239.4,267.1 239.9,267.2 240.4,267.2 240.9,267.3 241.4,267.4 241.9,267.4 242.4,267.5 242.9,267.5 243.4,267.6 243.9,267.7 244.4,267.7 244.9,267.8 245.4,267.9 245.9,267.9 246.4,268 246.9,268.1 247.4,268.1 247.9,268.2 248.4,268.2 248.9,268.3 249.4,268.3 249.9,268.4 309.9,268.4 L310.3,268.4 Z" fill="#c9a888" fill-opacity="0.92" stroke="none" style="mix-blend-mode:multiply"/>
<path d="M182.4,268.4 203.4,268.4 203.9,268.3 204.4,268.1 204.9,267.6 205.4,266.5 205.9,264.7 206.4,262.1 206.9,259 207.4,256 207.9,254.1 208.4,253.7 208.9,254.7 209.4,256.3 209.9,257.1 210.4,257.4 210.9,257.9 211.4,258.4 211.9,258.7 212.4,258.7 212.9,258.6 213.4,258.4 213.9,258.1 214.4,257.9 214.9,257.7 215.4,257.5 215.9,257.3 216.4,257.2 216.9,257 217.4,256.9 217.9,256.9 218.4,256.9 218.9,257 219.4,257.1 219.9,257.3 220.4,257.5 220.9,257.7 221.4,258 221.9,258.4 222.4,259 222.9,259.6 223.4,260.2 223.9,260.8 224.4,261.3 224.9,261.7 225.4,262.1 225.9,262.4 226.4,262.7 226.9,262.9 227.4,263.2 227.9,263.4 228.4,263.7 228.9,263.9 229.4,264.1 229.9,264.3 230.4,264.5 230.9,264.8 231.4,265 231.9,265.2 232.4,265.4 232.9,265.6 233.4,265.8 233.9,266 234.4,266.2 234.9,266.3 235.4,266.4 235.9,266.5 236.4,266.6 236.9,266.7 237.4,266.8 237.9,266.9 238.4,267 238.9,267 239.4,267.1 239.9,267.2 240.4,267.2 240.9,267.3 241.4,267.4 241.9,267.4 242.4,267.5 242.9,267.5 243.4,267.6 243.9,267.7 244.4,267.7 244.9,267.8 245.4,267.9 245.9,267.9 246.4,268 246.9,268.1 247.4,268.1 247.9,268.2 248.4,268.2 248.9,268.3 249.4,268.3 249.9,268.4 309.9,268.4" fill="none" stroke="#9c5c30" stroke-width="1.3" stroke-linejoin="round"/>
<path d="M182.4,276.6 L182.4,276.6 203.4,276.5 203.9,276.4 204.4,276.2 204.9,275.7 205.4,274.7 205.9,272.9 206.4,270.3 206.9,267.2 207.4,264.2 207.9,262.2 208.4,261.9 208.9,262.9 209.4,264.8 209.9,267.2 210.4,269.3 210.9,269.9 211.4,269.8 211.9,269.7 212.4,269.7 212.9,269.7 213.4,269.8 213.9,269.8 214.4,269.9 214.9,270 215.4,270.1 215.9,270.2 216.4,270.4 216.9,270.5 217.4,270.6 217.9,270.7 218.4,270.8 218.9,270.9 219.4,271 219.9,271.1 220.4,271.2 220.9,271.3 221.4,271.4 221.9,271.5 222.4,271.7 222.9,271.8 223.4,271.9 223.9,272 224.4,272.1 224.9,272.2 225.4,272.3 225.9,272.4 226.4,272.5 226.9,272.6 227.4,272.7 227.9,272.8 228.4,272.9 228.9,273 229.4,273.1 229.9,273.2 230.4,273.3 230.9,273.4 231.4,273.5 231.9,273.6 232.4,273.7 232.9,273.8 233.4,273.9 233.9,274 234.4,274.1 234.9,274.1 235.4,274.2 235.9,274.3 236.4,274.4 236.9,274.5 237.4,274.6 237.9,274.7 238.4,274.7 238.9,274.8 239.4,274.9 239.9,275 240.4,275 240.9,275.1 241.4,275.2 241.9,275.3 242.4,275.3 242.9,275.4 243.4,275.5 243.9,275.5 244.4,275.6 244.9,275.7 245.4,275.7 245.9,275.8 246.4,275.8 246.9,275.9 247.4,275.9 247.9,276 248.4,276 248.9,276.1 249.4,276.1 249.9,276.2 250.4,276.2 250.9,276.3 251.4,276.3 251.9,276.3 252.4,276.4 252.9,276.4 253.4,276.5 253.9,276.5 254.4,276.5 309.9,276.6 L310.3,276.6 Z" fill="#eaa8e4" fill-opacity="0.92" stroke="none" style="mix-blend-mode:multiply"/>
<path d="M182.4,276.6 203.4,276.5 203.9,276.4 204.4,276.2 204.9,275.7 205.4,274.7 205.9,272.9 206.4,270.3 206.9,267.2 207.4,264.2 207.9,262.2 208.4,261.9 208.9,262.9 209.4,264.8 209.9,267.2 210.4,269.3 210.9,269.9 211.4,269.8 211.9,269.7 212.4,269.7 212.9,269.7 213.4,269.8 213.9,269.8 214.4,269.9 214.9,270 215.4,270.1 215.9,270.2 216.4,270.4 216.9,270.5 217.4,270.6 217.9,270.7 218.4,270.8 218.9,270.9 219.4,271 219.9,271.1 220.4,271.2 220.9,271.3 221.4,271.4 221.9,271.5 222.4,271.7 222.9,271.8 223.4,271.9 223.9,272 224.4,272.1 224.9,272.2 225.4,272.3 225.9,272.4 226.4,272.5 226.9,272.6 227.4,272.7 227.9,272.8 228.4,272.9 228.9,273 229.4,273.1 229.9,273.2 230.4,273.3 230.9,273.4 231.4,273.5 231.9,273.6 232.4,273.7 232.9,273.8 233.4,273.9 233.9,274 234.4,274.1 234.9,274.1 235.4,274.2 235.9,274.3 236.4,274.4 236.9,274.5 237.4,274.6 237.9,274.7 238.4,274.7 238.9,274.8 239.4,274.9 239.9,275 240.4,275 240.9,275.1 241.4,275.2 241.9,275.3 242.4,275.3 242.9,275.4 243.4,275.5 243.9,275.5 244.4,275.6 244.9,275.7 245.4,275.7 245.9,275.8 246.4,275.8 246.9,275.9 247.4,275.9 247.9,276 248.4,276 248.9,276.1 249.4,276.1 249.9,276.2 250.4,276.2 250.9,276.3 251.4,276.3 251.9,276.3 252.4,276.4 252.9,276.4 253.4,276.5 253.9,276.5 254.4,276.5 309.9,276.6" fill="none" stroke="#d24ecc" stroke-width="1.3" stroke-linejoin="round"/>
<path d="M182.4,284.7 L182.4,284.7 203.4,284.7 203.9,284.6 204.4,284.4 204.9,283.9 205.4,282.8 205.9,281 206.4,278.4 206.9,275.3 207.4,272.3 207.9,270.4 208.4,270 208.9,271 209.4,272.9 209.9,275.3 210.4,277.7 210.9,279 211.4,279 211.9,278.8 212.4,278.6 212.9,278.4 213.4,278.2 213.9,278.1 214.4,277.9 214.9,277.8 215.4,277.7 215.9,277.6 216.4,277.5 216.9,277.4 217.4,277.3 217.9,277.3 218.4,277.2 218.9,277.2 219.4,277.2 219.9,277.3 220.4,277.4 220.9,277.5 221.4,277.6 221.9,277.7 222.4,277.9 222.9,278 223.4,278.2 223.9,278.4 224.4,278.5 224.9,278.7 225.4,278.8 225.9,279 226.4,279.2 226.9,279.4 227.4,279.6 227.9,279.8 228.4,280 228.9,280.2 229.4,280.4 229.9,280.6 230.4,280.8 230.9,281 231.4,281.2 231.9,281.3 232.4,281.5 232.9,281.7 233.4,281.9 233.9,282 234.4,282.2 234.9,282.3 235.4,282.5 235.9,282.6 236.4,282.8 236.9,282.9 237.4,283 237.9,283.1 238.4,283.2 238.9,283.4 239.4,283.5 239.9,283.6 240.4,283.7 240.9,283.8 241.4,283.9 241.9,284 242.4,284.1 242.9,284.2 243.4,284.2 243.9,284.3 244.4,284.4 244.9,284.5 245.4,284.5 245.9,284.6 246.4,284.7 246.9,284.7 309.9,284.7 L310.3,284.7 Z" fill="#aaa2e0" fill-opacity="0.92" stroke="none" style="mix-blend-mode:multiply"/>
<path d="M182.4,284.7 203.4,284.7 203.9,284.6 204.4,284.4 204.9,283.9 205.4,282.8 205.9,281 206.4,278.4 206.9,275.3 207.4,272.3 207.9,270.4 208.4,270 208.9,271 209.4,272.9 209.9,275.3 210.4,277.7 210.9,279 211.4,279 211.9,278.8 212.4,278.6 212.9,278.4 213.4,278.2 213.9,278.1 214.4,277.9 214.9,277.8 215.4,277.7 215.9,277.6 216.4,277.5 216.9,277.4 217.4,277.3 217.9,277.3 218.4,277.2 218.9,277.2 219.4,277.2 219.9,277.3 220.4,277.4 220.9,277.5 221.4,277.6 221.9,277.7 222.4,277.9 222.9,278 223.4,278.2 223.9,278.4 224.4,278.5 224.9,278.7 225.4,278.8 225.9,279 226.4,279.2 226.9,279.4 227.4,279.6 227.9,279.8 228.4,280 228.9,280.2 229.4,280.4 229.9,280.6 230.4,280.8 230.9,281 231.4,281.2 231.9,281.3 232.4,281.5 232.9,281.7 233.4,281.9 233.9,282 234.4,282.2 234.9,282.3 235.4,282.5 235.9,282.6 236.4,282.8 236.9,282.9 237.4,283 237.9,283.1 238.4,283.2 238.9,283.4 239.4,283.5 239.9,283.6 240.4,283.7 240.9,283.8 241.4,283.9 241.9,284 242.4,284.1 242.9,284.2 243.4,284.2 243.9,284.3 244.4,284.4 244.9,284.5 245.4,284.5 245.9,284.6 246.4,284.7 246.9,284.7 309.9,284.7" fill="none" stroke="#5a50c2" stroke-width="1.3" stroke-linejoin="round"/>
<path d="M182.4,292.9 L182.4,292.9 203.4,292.8 203.9,292.8 204.4,292.5 204.9,292 205.4,291 205.9,289.2 206.4,286.6 206.9,283.5 207.4,280.5 207.9,278.5 208.4,278.2 208.9,279.2 209.4,281.1 209.9,283.5 210.4,285.9 210.9,287.5 211.4,287.6 211.9,287.5 212.4,287.4 212.9,287.4 213.4,287.3 213.9,287.3 214.4,287.2 214.9,287.2 215.4,287.2 215.9,287.1 216.4,287.1 216.9,287.1 217.4,287.1 217.9,287.1 218.4,287 218.9,287 219.4,287 219.9,287 220.4,287 220.9,287.1 221.4,287.1 221.9,287.2 222.4,287.3 222.9,287.5 223.4,287.6 223.9,287.7 224.4,287.9 224.9,288.1 225.4,288.2 225.9,288.4 226.4,288.5 226.9,288.7 227.4,288.8 227.9,288.9 228.4,289.1 228.9,289.2 229.4,289.3 229.9,289.4 230.4,289.5 230.9,289.6 231.4,289.7 231.9,289.8 232.4,289.9 232.9,290 233.4,290.2 233.9,290.3 234.4,290.4 234.9,290.5 235.4,290.6 235.9,290.7 236.4,290.8 236.9,290.9 237.4,290.9 237.9,291 238.4,291.1 238.9,291.2 239.4,291.3 239.9,291.4 240.4,291.4 240.9,291.5 241.4,291.6 241.9,291.6 242.4,291.7 242.9,291.8 243.4,291.9 243.9,291.9 244.4,292 244.9,292.1 245.4,292.1 245.9,292.2 246.4,292.2 246.9,292.3 247.4,292.3 247.9,292.4 248.4,292.4 248.9,292.5 249.4,292.5 249.9,292.6 250.4,292.6 250.9,292.6 251.4,292.7 251.9,292.7 252.4,292.7 252.9,292.7 253.4,292.8 253.9,292.8 254.4,292.8 254.9,292.8 309.9,292.9 L310.3,292.9 Z" fill="#ececec" fill-opacity="0.92" stroke="none" style="mix-blend-mode:multiply"/>
<path d="M182.4,292.9 203.4,292.8 203.9,292.8 204.4,292.5 204.9,292 205.4,291 205.9,289.2 206.4,286.6 206.9,283.5 207.4,280.5 207.9,278.5 208.4,278.2 208.9,279.2 209.4,281.1 209.9,283.5 210.4,285.9 210.9,287.5 211.4,287.6 211.9,287.5 212.4,287.4 212.9,287.4 213.4,287.3 213.9,287.3 214.4,287.2 214.9,287.2 215.4,287.2 215.9,287.1 216.4,287.1 216.9,287.1 217.4,287.1 217.9,287.1 218.4,287 218.9,287 219.4,287 219.9,287 220.4,287 220.9,287.1 221.4,287.1 221.9,287.2 222.4,287.3 222.9,287.5 223.4,287.6 223.9,287.7 224.4,287.9 224.9,288.1 225.4,288.2 225.9,288.4 226.4,288.5 226.9,288.7 227.4,288.8 227.9,288.9 228.4,289.1 228.9,289.2 229.4,289.3 229.9,289.4 230.4,289.5 230.9,289.6 231.4,289.7 231.9,289.8 232.4,289.9 232.9,290 233.4,290.2 233.9,290.3 234.4,290.4 234.9,290.5 235.4,290.6 235.9,290.7 236.4,290.8 236.9,290.9 237.4,290.9 237.9,291 238.4,291.1 238.9,291.2 239.4,291.3 239.9,291.4 240.4,291.4 240.9,291.5 241.4,291.6 241.9,291.6 242.4,291.7 242.9,291.8 243.4,291.9 243.9,291.9 244.4,292 244.9,292.1 245.4,292.1 245.9,292.2 246.4,292.2 246.9,292.3 247.4,292.3 247.9,292.4 248.4,292.4 248.9,292.5 249.4,292.5 249.9,292.6 250.4,292.6 250.9,292.6 251.4,292.7 251.9,292.7 252.4,292.7 252.9,292.7 253.4,292.8 253.9,292.8 254.4,292.8 254.9,292.8 309.9,292.9" fill="none" stroke="#d4d4d4" stroke-width="1.3" stroke-linejoin="round"/>
<path d="M182.4,301 L182.4,301 203.4,301 203.9,300.9 204.4,300.7 204.9,300.2 205.4,299.1 205.9,297.4 206.4,294.8 206.9,291.6 207.4,288.6 207.9,286.7 208.4,286.4 208.9,287.3 209.4,289.2 209.9,291.5 210.4,292.8 210.9,293 211.4,293.1 211.9,293.6 212.4,294.1 212.9,294.4 213.4,294.4 213.9,294.3 214.4,294.2 214.9,294.1 215.4,294 215.9,293.9 216.4,293.7 216.9,293.6 217.4,293.6 217.9,293.5 218.4,293.5 218.9,293.6 219.4,293.7 219.9,293.8 220.4,294 220.9,294.2 221.4,294.4 221.9,294.6 222.4,294.8 222.9,295.1 223.4,295.3 223.9,295.5 224.4,295.7 224.9,295.9 225.4,296.1 225.9,296.2 226.4,296.4 226.9,296.5 227.4,296.7 227.9,296.9 228.4,297.1 228.9,297.2 229.4,297.4 229.9,297.5 230.4,297.7 230.9,297.9 231.4,298 231.9,298.2 232.4,298.3 232.9,298.4 233.4,298.6 233.9,298.7 234.4,298.8 234.9,298.9 235.4,299 235.9,299.1 236.4,299.2 236.9,299.3 237.4,299.4 237.9,299.5 238.4,299.5 238.9,299.6 239.4,299.7 239.9,299.8 240.4,299.8 240.9,299.9 241.4,300 241.9,300.1 242.4,300.1 242.9,300.2 243.4,300.2 243.9,300.3 244.4,300.4 244.9,300.4 245.4,300.5 245.9,300.5 246.4,300.6 246.9,300.6 247.4,300.7 247.9,300.7 248.4,300.8 248.9,300.8 249.4,300.8 249.9,300.9 250.4,300.9 250.9,301 251.4,301 309.9,301 L310.3,301 Z" fill="#c2c2c2" fill-opacity="0.92" stroke="none" style="mix-blend-mode:multiply"/>
<path d="M182.4,301 203.4,301 203.9,300.9 204.4,300.7 204.9,300.2 205.4,299.1 205.9,297.4 206.4,294.8 206.9,291.6 207.4,288.6 207.9,286.7 208.4,286.4 208.9,287.3 209.4,289.2 209.9,291.5 210.4,292.8 210.9,293 211.4,293.1 211.9,293.6 212.4,294.1 212.9,294.4 213.4,294.4 213.9,294.3 214.4,294.2 214.9,294.1 215.4,294 215.9,293.9 216.4,293.7 216.9,293.6 217.4,293.6 217.9,293.5 218.4,293.5 218.9,293.6 219.4,293.7 219.9,293.8 220.4,294 220.9,294.2 221.4,294.4 221.9,294.6 222.4,294.8 222.9,295.1 223.4,295.3 223.9,295.5 224.4,295.7 224.9,295.9 225.4,296.1 225.9,296.2 226.4,296.4 226.9,296.5 227.4,296.7 227.9,296.9 228.4,297.1 228.9,297.2 229.4,297.4 229.9,297.5 230.4,297.7 230.9,297.9 231.4,298 231.9,298.2 232.4,298.3 232.9,298.4 233.4,298.6 233.9,298.7 234.4,298.8 234.9,298.9 235.4,299 235.9,299.1 236.4,299.2 236.9,299.3 237.4,299.4 237.9,299.5 238.4,299.5 238.9,299.6 239.4,299.7 239.9,299.8 240.4,299.8 240.9,299.9 241.4,300 241.9,300.1 242.4,300.1 242.9,300.2 243.4,300.2 243.9,300.3 244.4,300.4 244.9,300.4 245.4,300.5 245.9,300.5 246.4,300.6 246.9,300.6 247.4,300.7 247.9,300.7 248.4,300.8 248.9,300.8 249.4,300.8 249.9,300.9 250.4,300.9 250.9,301 251.4,301 309.9,301" fill="none" stroke="#666666" stroke-width="1.3" stroke-linejoin="round"/>
<path d="M182.4,309.2 L182.4,309.2 203.4,309.1 203.9,309.1 204.4,308.8 204.9,308.3 205.4,307.3 205.9,305.5 206.4,302.9 206.9,299.8 207.4,296.8 207.9,294.9 208.4,294.5 208.9,295.5 209.4,297.4 209.9,299.7 210.4,301.4 210.9,301.6 211.4,301.4 211.9,301.4 212.4,301.7 212.9,302.3 213.4,303 213.9,303.4 214.4,303.4 214.9,303.2 215.4,303 215.9,302.8 216.4,302.6 216.9,302.4 217.4,302.4 217.9,302.5 218.4,302.5 218.9,302.6 219.4,302.7 219.9,302.8 220.4,303 220.9,303.1 221.4,303.3 221.9,303.4 222.4,303.6 222.9,303.8 223.4,303.9 223.9,304.1 224.4,304.2 224.9,304.4 225.4,304.5 225.9,304.6 226.4,304.7 226.9,304.9 227.4,305 227.9,305.1 228.4,305.3 228.9,305.4 229.4,305.6 229.9,305.7 230.4,305.8 230.9,306 231.4,306.1 231.9,306.2 232.4,306.4 232.9,306.5 233.4,306.6 233.9,306.7 234.4,306.8 234.9,306.9 235.4,307 235.9,307.1 236.4,307.2 236.9,307.3 237.4,307.4 237.9,307.4 238.4,307.5 238.9,307.6 239.4,307.7 239.9,307.8 240.4,307.8 240.9,307.9 241.4,308 241.9,308 242.4,308.1 242.9,308.2 243.4,308.2 243.9,308.3 244.4,308.4 244.9,308.4 245.4,308.5 245.9,308.5 246.4,308.6 246.9,308.6 247.4,308.7 247.9,308.7 248.4,308.8 248.9,308.8 249.4,308.9 249.9,308.9 250.4,309 250.9,309 251.4,309.1 251.9,309.1 252.4,309.1 309.9,309.2 L310.3,309.2 Z" fill="#8c8c8c" fill-opacity="0.92" stroke="none" style="mix-blend-mode:multiply"/>
<path d="M182.4,309.2 203.4,309.1 203.9,309.1 204.4,308.8 204.9,308.3 205.4,307.3 205.9,305.5 206.4,302.9 206.9,299.8 207.4,296.8 207.9,294.9 208.4,294.5 208.9,295.5 209.4,297.4 209.9,299.7 210.4,301.4 210.9,301.6 211.4,301.4 211.9,301.4 212.4,301.7 212.9,302.3 213.4,303 213.9,303.4 214.4,303.4 214.9,303.2 215.4,303 215.9,302.8 216.4,302.6 216.9,302.4 217.4,302.4 217.9,302.5 218.4,302.5 218.9,302.6 219.4,302.7 219.9,302.8 220.4,303 220.9,303.1 221.4,303.3 221.9,303.4 222.4,303.6 222.9,303.8 223.4,303.9 223.9,304.1 224.4,304.2 224.9,304.4 225.4,304.5 225.9,304.6 226.4,304.7 226.9,304.9 227.4,305 227.9,305.1 228.4,305.3 228.9,305.4 229.4,305.6 229.9,305.7 230.4,305.8 230.9,306 231.4,306.1 231.9,306.2 232.4,306.4 232.9,306.5 233.4,306.6 233.9,306.7 234.4,306.8 234.9,306.9 235.4,307 235.9,307.1 236.4,307.2 236.9,307.3 237.4,307.4 237.9,307.4 238.4,307.5 238.9,307.6 239.4,307.7 239.9,307.8 240.4,307.8 240.9,307.9 241.4,308 241.9,308 242.4,308.1 242.9,308.2 243.4,308.2 243.9,308.3 244.4,308.4 244.9,308.4 245.4,308.5 245.9,308.5 246.4,308.6 246.9,308.6 247.4,308.7 247.9,308.7 248.4,308.8 248.9,308.8 249.4,308.9 249.9,308.9 250.4,309 250.9,309 251.4,309.1 251.9,309.1 252.4,309.1 309.9,309.2" fill="none" stroke="#161616" stroke-width="1.3" stroke-linejoin="round"/>
<path d="M182.4,317.3 L182.4,317.3 203.4,317.3 203.9,317.2 204.4,317 204.9,316.5 205.4,315.4 205.9,313.7 206.4,311.1 206.9,307.9 207.4,304.9 207.9,303 208.4,302.7 208.9,303.6 209.4,305.5 209.9,308 210.4,310 210.9,310.3 211.4,310.1 211.9,310 212.4,310 212.9,310 213.4,310 213.9,310.1 214.4,310.2 214.9,310.2 215.4,310.3 215.9,310.4 216.4,310.5 216.9,310.6 217.4,310.7 217.9,310.8 218.4,311 218.9,311.1 219.4,311.2 219.9,311.3 220.4,311.4 220.9,311.6 221.4,311.7 221.9,311.9 222.4,312 222.9,312.2 223.4,312.4 223.9,312.5 224.4,312.7 224.9,312.9 225.4,313.1 225.9,313.2 226.4,313.4 226.9,313.6 227.4,313.7 227.9,313.9 228.4,314 228.9,314.1 229.4,314.2 229.9,314.3 230.4,314.5 230.9,314.6 231.4,314.7 231.9,314.8 232.4,314.9 232.9,315 233.4,315.1 233.9,315.2 234.4,315.3 234.9,315.4 235.4,315.5 235.9,315.6 236.4,315.7 236.9,315.8 237.4,315.9 237.9,316 238.4,316 238.9,316.1 239.4,316.2 239.9,316.3 240.4,316.3 240.9,316.4 241.4,316.5 241.9,316.5 242.4,316.6 242.9,316.7 243.4,316.7 243.9,316.8 244.4,316.8 244.9,316.9 245.4,316.9 245.9,317 246.4,317 246.9,317.1 247.4,317.1 247.9,317.2 248.4,317.2 248.9,317.3 249.4,317.3 309.9,317.3 L310.3,317.3 Z" fill="#eed9d9" fill-opacity="0.92" stroke="none" style="mix-blend-mode:multiply"/>
<path d="M182.4,317.3 203.4,317.3 203.9,317.2 204.4,317 204.9,316.5 205.4,315.4 205.9,313.7 206.4,311.1 206.9,307.9 207.4,304.9 207.9,303 208.4,302.7 208.9,303.6 209.4,305.5 209.9,308 210.4,310 210.9,310.3 211.4,310.1 211.9,310 212.4,310 212.9,310 213.4,310 213.9,310.1 214.4,310.2 214.9,310.2 215.4,310.3 215.9,310.4 216.4,310.5 216.9,310.6 217.4,310.7 217.9,310.8 218.4,311 218.9,311.1 219.4,311.2 219.9,311.3 220.4,311.4 220.9,311.6 221.4,311.7 221.9,311.9 222.4,312 222.9,312.2 223.4,312.4 223.9,312.5 224.4,312.7 224.9,312.9 225.4,313.1 225.9,313.2 226.4,313.4 226.9,313.6 227.4,313.7 227.9,313.9 228.4,314 228.9,314.1 229.4,314.2 229.9,314.3 230.4,314.5 230.9,314.6 231.4,314.7 231.9,314.8 232.4,314.9 232.9,315 233.4,315.1 233.9,315.2 234.4,315.3 234.9,315.4 235.4,315.5 235.9,315.6 236.4,315.7 236.9,315.8 237.4,315.9 237.9,316 238.4,316 238.9,316.1 239.4,316.2 239.9,316.3 240.4,316.3 240.9,316.4 241.4,316.5 241.9,316.5 242.4,316.6 242.9,316.7 243.4,316.7 243.9,316.8 244.4,316.8 244.9,316.9 245.4,316.9 245.9,317 246.4,317 246.9,317.1 247.4,317.1 247.9,317.2 248.4,317.2 248.9,317.3 249.4,317.3 309.9,317.3" fill="none" stroke="#d9a3a3" stroke-width="1.3" stroke-linejoin="round"/>
<path d="M182.4,325.5 L182.4,325.5 203.4,325.4 203.9,325.4 204.4,325.1 204.9,324.6 205.4,323.6 205.9,321.8 206.4,319.2 206.9,316.1 207.4,313.1 207.9,311.2 208.4,310.8 208.9,311.8 209.4,313.7 209.9,316.1 210.4,318.6 210.9,320.8 211.4,322.5 211.9,323.8 212.4,324.6 212.9,325 213.4,325.3 213.9,325.4 214.4,325.4 309.9,325.5 L310.3,325.5 Z" fill="#a9c59b" fill-opacity="0.92" stroke="none" style="mix-blend-mode:multiply"/>
<path d="M182.4,325.5 203.4,325.4 203.9,325.4 204.4,325.1 204.9,324.6 205.4,323.6 205.9,321.8 206.4,319.2 206.9,316.1 207.4,313.1 207.9,311.2 208.4,310.8 208.9,311.8 209.4,313.7 209.9,316.1 210.4,318.6 210.9,320.8 211.4,322.5 211.9,323.8 212.4,324.6 212.9,325 213.4,325.3 213.9,325.4 214.4,325.4 309.9,325.5" fill="none" stroke="#3c7a38" stroke-width="1.3" stroke-linejoin="round"/>
<path d="M182.4,333.6 L182.4,333.6 203.4,333.6 203.9,333.5 204.4,333.3 204.9,332.8 205.4,331.8 205.9,330 206.4,327.4 206.9,324.2 207.4,321.2 207.9,319.3 208.4,319 208.9,319.9 209.4,321.9 209.9,324.3 210.4,326.7 210.9,329 211.4,330.7 211.9,331.9 212.4,332.7 212.9,333.2 213.4,333.4 213.9,333.5 214.4,333.6 309.9,333.6 L310.3,333.6 Z" fill="#dcf0ae" fill-opacity="0.92" stroke="none" style="mix-blend-mode:multiply"/>
<path d="M182.4,333.6 203.4,333.6 203.9,333.5 204.4,333.3 204.9,332.8 205.4,331.8 205.9,330 206.4,327.4 206.9,324.2 207.4,321.2 207.9,319.3 208.4,319 208.9,319.9 209.4,321.9 209.9,324.3 210.4,326.7 210.9,329 211.4,330.7 211.9,331.9 212.4,332.7 212.9,333.2 213.4,333.4 213.9,333.5 214.4,333.6 309.9,333.6" fill="none" stroke="#9acc2c" stroke-width="1.3" stroke-linejoin="round"/>
<path d="M182.4,341.8 L182.4,341.8 203.4,341.8 203.9,341.7 204.4,341.5 204.9,340.9 205.4,339.9 205.9,338.1 206.4,335.5 206.9,332.4 207.4,329.4 207.9,327.5 208.4,327.1 208.9,328.1 209.4,330 209.9,332.4 210.4,334.9 210.9,337.1 211.4,338.9 211.9,340.1 212.4,340.9 212.9,341.3 213.4,341.6 213.9,341.7 214.4,341.8 309.9,341.8 L310.3,341.8 Z" fill="#fbd4a6" fill-opacity="0.92" stroke="none" style="mix-blend-mode:multiply"/>
<path d="M182.4,341.8 203.4,341.8 203.9,341.7 204.4,341.5 204.9,340.9 205.4,339.9 205.9,338.1 206.4,335.5 206.9,332.4 207.4,329.4 207.9,327.5 208.4,327.1 208.9,328.1 209.4,330 209.9,332.4 210.4,334.9 210.9,337.1 211.4,338.9 211.9,340.1 212.4,340.9 212.9,341.3 213.4,341.6 213.9,341.7 214.4,341.8 309.9,341.8" fill="none" stroke="#f5921e" stroke-width="1.3" stroke-linejoin="round"/>
<path d="M182.4,349.9 L182.4,349.9 203.4,349.9 203.9,349.8 204.4,349.6 204.9,349.1 205.4,348.1 205.9,346.3 206.4,343.7 206.9,340.5 207.4,337.6 207.9,335.6 208.4,335.3 208.9,336.3 209.4,338.2 209.9,340.6 210.4,342.7 210.9,343.2 211.4,343.2 211.9,343.1 212.4,343.1 212.9,343.1 213.4,343.1 213.9,343.1 214.4,343.1 214.9,343.1 215.4,343 215.9,343 216.4,343 216.9,343.1 217.4,343.1 217.9,343.2 218.4,343.3 218.9,343.5 219.4,343.7 219.9,343.9 220.4,344.1 220.9,344.3 221.4,344.5 221.9,344.7 222.4,344.9 222.9,345.1 223.4,345.3 223.9,345.5 224.4,345.7 224.9,346 225.4,346.2 225.9,346.4 226.4,346.7 226.9,346.9 227.4,347.1 227.9,347.4 228.4,347.6 228.9,347.8 229.4,348 229.9,348.1 230.4,348.3 230.9,348.4 231.4,348.5 231.9,348.7 232.4,348.8 232.9,348.9 233.4,349 233.9,349.1 234.4,349.3 234.9,349.4 235.4,349.5 235.9,349.5 236.4,349.6 236.9,349.7 237.4,349.8 237.9,349.8 238.4,349.9 238.9,349.9 309.9,349.9 L310.3,349.9 Z" fill="#b4ddf2" fill-opacity="0.92" stroke="none" style="mix-blend-mode:multiply"/>
<path d="M182.4,349.9 203.4,349.9 203.9,349.8 204.4,349.6 204.9,349.1 205.4,348.1 205.9,346.3 206.4,343.7 206.9,340.5 207.4,337.6 207.9,335.6 208.4,335.3 208.9,336.3 209.4,338.2 209.9,340.6 210.4,342.7 210.9,343.2 211.4,343.2 211.9,343.1 212.4,343.1 212.9,343.1 213.4,343.1 213.9,343.1 214.4,343.1 214.9,343.1 215.4,343 215.9,343 216.4,343 216.9,343.1 217.4,343.1 217.9,343.2 218.4,343.3 218.9,343.5 219.4,343.7 219.9,343.9 220.4,344.1 220.9,344.3 221.4,344.5 221.9,344.7 222.4,344.9 222.9,345.1 223.4,345.3 223.9,345.5 224.4,345.7 224.9,346 225.4,346.2 225.9,346.4 226.4,346.7 226.9,346.9 227.4,347.1 227.9,347.4 228.4,347.6 228.9,347.8 229.4,348 229.9,348.1 230.4,348.3 230.9,348.4 231.4,348.5 231.9,348.7 232.4,348.8 232.9,348.9 233.4,349 233.9,349.1 234.4,349.3 234.9,349.4 235.4,349.5 235.9,349.5 236.4,349.6 236.9,349.7 237.4,349.8 237.9,349.8 238.4,349.9 238.9,349.9 309.9,349.9" fill="none" stroke="#5cbce4" stroke-width="1.3" stroke-linejoin="round"/>
<path d="M182.4,358.1 L182.4,358.1 202.9,358.1 203.4,358 203.9,357.9 204.4,357.6 204.9,356.9 205.4,355.6 205.9,353.7 206.4,351.1 206.9,348.1 207.4,345.4 207.9,343.7 208.4,343.4 208.9,344.2 209.4,345.9 209.9,348.1 210.4,350.5 210.9,352.6 211.4,354.5 211.9,355.8 212.4,356.8 212.9,357.4 213.4,357.7 213.9,357.9 214.4,358 214.9,358.1 309.9,358.1 L310.3,358.1 Z" fill="#f6a9a9" fill-opacity="0.92" stroke="none" style="mix-blend-mode:multiply"/>
<path d="M182.4,358.1 202.9,358.1 203.4,358 203.9,357.9 204.4,357.6 204.9,356.9 205.4,355.6 205.9,353.7 206.4,351.1 206.9,348.1 207.4,345.4 207.9,343.7 208.4,343.4 208.9,344.2 209.4,345.9 209.9,348.1 210.4,350.5 210.9,352.6 211.4,354.5 211.9,355.8 212.4,356.8 212.9,357.4 213.4,357.7 213.9,357.9 214.4,358 214.9,358.1 309.9,358.1" fill="none" stroke="#e64646" stroke-width="1.3" stroke-linejoin="round"/>
</g>
<path d="M182.4,359.4 V221.5 H310.3 V359.4" fill="none" stroke="#8e8e8e" stroke-width="1"/>
<path d="M181.9,359.4 H310.8" fill="none" stroke="#ee8f8f" stroke-width="1.2"/>
<clipPath id="clip221_2"><rect x="328" y="221.5" width="126.2" height="138.4"/></clipPath>
<g clip-path="url(#clip221_2)">
<path d="M328,235.8 L328,235.8 348.5,235.8 349,235.7 349.5,235.6 350,235.3 350.5,234.6 351,233.3 351.5,231.2 352,228.3 352.5,225.1 353,222.5 353.5,221.1 354,221.4 354.5,222.8 355,224.9 355.5,227.4 356,229.8 356.5,231.9 357,233.4 357.5,234.4 358,234.6 358.5,234.6 359,234.6 359.5,234.5 360,234.5 360.5,234.5 361,234.5 361.5,234.5 362,234.5 362.5,234.5 363,234.5 363.5,234.5 364,234.4 364.5,234.4 365,234.4 365.5,234.4 366,234.4 366.5,234.4 367,234.4 367.5,234.4 368,234.4 368.5,234.4 369,234.3 369.5,234.3 370,234.3 370.5,234.3 371,234.2 371.5,234.2 372,234.1 372.5,234.1 373,234 373.5,233.9 374,233.9 374.5,233.8 375,233.7 375.5,233.6 376,233.5 376.5,233.4 377,233.2 377.5,233.1 378,233 378.5,232.9 379,232.8 379.5,232.6 380,232.5 380.5,232.4 381,232.3 381.5,232.1 382,232 382.5,231.9 383,231.8 383.5,231.6 384,231.5 384.5,231.4 385,231.3 385.5,231.2 386,231 386.5,230.9 387,230.7 387.5,230.6 388,230.4 388.5,230.3 389,230.1 389.5,230 390,229.8 390.5,229.7 391,229.6 391.5,229.5 392,229.4 392.5,229.4 393,229.4 393.5,229.4 394,229.4 394.5,229.5 395,229.7 395.5,229.8 396,230 396.5,230.2 397,230.3 397.5,230.5 398,230.7 398.5,230.9 399,231 399.5,231.2 400,231.3 400.5,231.4 401,231.5 401.5,231.6 402,231.7 402.5,231.8 403,231.9 403.5,232 404,232.1 404.5,232.2 405,232.3 405.5,232.4 406,232.5 406.5,232.5 407,232.6 407.5,232.7 408,232.7 408.5,232.7 409,232.8 409.5,232.8 410,232.8 410.5,232.8 411,232.8 411.5,232.8 412,232.8 412.5,232.7 413,232.7 413.5,232.7 414,232.7 414.5,232.6 415,232.6 415.5,232.6 416,232.5 416.5,232.5 417,232.5 417.5,232.5 418,232.5 418.5,232.5 419,232.5 419.5,232.5 420,232.5 420.5,232.5 421,232.6 421.5,232.6 422,232.6 422.5,232.6 423,232.7 423.5,232.7 424,232.7 424.5,232.8 425,232.8 425.5,232.9 426,233 426.5,233.1 427,233.3 427.5,233.5 428,233.6 428.5,233.8 429,234 429.5,234.2 430,234.4 430.5,234.6 431,234.8 431.5,235 432,235.2 432.5,235.3 433,235.4 433.5,235.5 434,235.6 434.5,235.7 435,235.7 435.5,235.8 454,235.8 L454.2,235.8 Z" fill="#eaa2bc" fill-opacity="0.92" stroke="none" style="mix-blend-mode:multiply"/>
<path d="M328,235.8 348.5,235.8 349,235.7 349.5,235.6 350,235.3 350.5,234.6 351,233.3 351.5,231.2 352,228.3 352.5,225.1 353,222.5 353.5,221.1 354,221.4 354.5,222.8 355,224.9 355.5,227.4 356,229.8 356.5,231.9 357,233.4 357.5,234.4 358,234.6 358.5,234.6 359,234.6 359.5,234.5 360,234.5 360.5,234.5 361,234.5 361.5,234.5 362,234.5 362.5,234.5 363,234.5 363.5,234.5 364,234.4 364.5,234.4 365,234.4 365.5,234.4 366,234.4 366.5,234.4 367,234.4 367.5,234.4 368,234.4 368.5,234.4 369,234.3 369.5,234.3 370,234.3 370.5,234.3 371,234.2 371.5,234.2 372,234.1 372.5,234.1 373,234 373.5,233.9 374,233.9 374.5,233.8 375,233.7 375.5,233.6 376,233.5 376.5,233.4 377,233.2 377.5,233.1 378,233 378.5,232.9 379,232.8 379.5,232.6 380,232.5 380.5,232.4 381,232.3 381.5,232.1 382,232 382.5,231.9 383,231.8 383.5,231.6 384,231.5 384.5,231.4 385,231.3 385.5,231.2 386,231 386.5,230.9 387,230.7 387.5,230.6 388,230.4 388.5,230.3 389,230.1 389.5,230 390,229.8 390.5,229.7 391,229.6 391.5,229.5 392,229.4 392.5,229.4 393,229.4 393.5,229.4 394,229.4 394.5,229.5 395,229.7 395.5,229.8 396,230 396.5,230.2 397,230.3 397.5,230.5 398,230.7 398.5,230.9 399,231 399.5,231.2 400,231.3 400.5,231.4 401,231.5 401.5,231.6 402,231.7 402.5,231.8 403,231.9 403.5,232 404,232.1 404.5,232.2 405,232.3 405.5,232.4 406,232.5 406.5,232.5 407,232.6 407.5,232.7 408,232.7 408.5,232.7 409,232.8 409.5,232.8 410,232.8 410.5,232.8 411,232.8 411.5,232.8 412,232.8 412.5,232.7 413,232.7 413.5,232.7 414,232.7 414.5,232.6 415,232.6 415.5,232.6 416,232.5 416.5,232.5 417,232.5 417.5,232.5 418,232.5 418.5,232.5 419,232.5 419.5,232.5 420,232.5 420.5,232.5 421,232.6 421.5,232.6 422,232.6 422.5,232.6 423,232.7 423.5,232.7 424,232.7 424.5,232.8 425,232.8 425.5,232.9 426,233 426.5,233.1 427,233.3 427.5,233.5 428,233.6 428.5,233.8 429,234 429.5,234.2 430,234.4 430.5,234.6 431,234.8 431.5,235 432,235.2 432.5,235.3 433,235.4 433.5,235.5 434,235.6 434.5,235.7 435,235.7 435.5,235.8 454,235.8" fill="none" stroke="#d23a6a" stroke-width="1.3" stroke-linejoin="round"/>
<path d="M328,244 L328,244 348.5,243.9 349,243.9 349.5,243.8 350,243.5 350.5,242.8 351,241.5 351.5,239.3 352,236.5 352.5,233.3 353,230.6 353.5,229.3 354,229.5 354.5,230.9 355,233.1 355.5,235.6 356,238 356.5,240 357,241.6 357.5,242.5 358,242.7 358.5,242.7 359,242.7 359.5,242.7 360,242.6 360.5,242.6 361,242.6 361.5,242.6 362,242.6 362.5,242.5 363,242.5 363.5,242.5 364,242.5 364.5,242.5 365,242.5 365.5,242.5 366,242.4 366.5,242.4 367,242.4 367.5,242.4 368,242.4 368.5,242.4 369,242.4 369.5,242.4 370,242.4 370.5,242.3 371,242.3 371.5,242.3 372,242.3 372.5,242.3 373,242.3 373.5,242.2 374,242.2 374.5,242.2 375,242.2 375.5,242.1 376,242.1 376.5,242 377,242 377.5,241.9 378,241.8 378.5,241.7 379,241.7 379.5,241.6 380,241.5 380.5,241.4 381,241.3 381.5,241.2 382,241 382.5,240.9 383,240.8 383.5,240.7 384,240.6 384.5,240.5 385,240.4 385.5,240.3 386,240.2 386.5,240.1 387,240 387.5,239.9 388,239.8 388.5,239.7 389,239.6 389.5,239.6 390,239.5 390.5,239.4 391,239.4 391.5,239.4 392,239.3 392.5,239.3 393,239.3 393.5,239.3 394,239.3 394.5,239.3 395,239.4 395.5,239.4 396,239.4 396.5,239.5 397,239.5 397.5,239.6 398,239.6 398.5,239.7 399,239.8 399.5,239.8 400,239.9 400.5,239.9 401,240 401.5,240 402,240.1 402.5,240.1 403,240.1 403.5,240.2 404,240.2 404.5,240.2 405,240.2 405.5,240.2 406,240.2 406.5,240.2 407,240.2 407.5,240.2 408,240.2 408.5,240.1 409,240.1 409.5,240.1 410,240.1 410.5,240.1 411,240.1 411.5,240.1 412,240 412.5,240 413,240 413.5,240 414,240 414.5,240 415,239.9 415.5,239.9 416,239.9 416.5,239.9 417,239.9 417.5,239.9 418,239.9 418.5,239.9 419,239.9 419.5,239.9 420,239.9 420.5,239.9 421,239.9 421.5,239.9 422,239.9 422.5,239.9 423,239.9 423.5,239.9 424,239.9 424.5,239.9 425,239.9 425.5,239.9 426,240 426.5,240.2 427,240.3 427.5,240.6 428,240.8 428.5,241 429,241.3 429.5,241.5 430,241.8 430.5,242 431,242.1 431.5,242.3 432,242.5 432.5,242.6 433,242.8 433.5,243 434,243.1 434.5,243.3 435,243.4 435.5,243.5 436,243.7 436.5,243.8 437,243.9 454,244 L454.2,244 Z" fill="#eee8cc" fill-opacity="0.92" stroke="none" style="mix-blend-mode:multiply"/>
<path d="M328,244 348.5,243.9 349,243.9 349.5,243.8 350,243.5 350.5,242.8 351,241.5 351.5,239.3 352,236.5 352.5,233.3 353,230.6 353.5,229.3 354,229.5 354.5,230.9 355,233.1 355.5,235.6 356,238 356.5,240 357,241.6 357.5,242.5 358,242.7 358.5,242.7 359,242.7 359.5,242.7 360,242.6 360.5,242.6 361,242.6 361.5,242.6 362,242.6 362.5,242.5 363,242.5 363.5,242.5 364,242.5 364.5,242.5 365,242.5 365.5,242.5 366,242.4 366.5,242.4 367,242.4 367.5,242.4 368,242.4 368.5,242.4 369,242.4 369.5,242.4 370,242.4 370.5,242.3 371,242.3 371.5,242.3 372,242.3 372.5,242.3 373,242.3 373.5,242.2 374,242.2 374.5,242.2 375,242.2 375.5,242.1 376,242.1 376.5,242 377,242 377.5,241.9 378,241.8 378.5,241.7 379,241.7 379.5,241.6 380,241.5 380.5,241.4 381,241.3 381.5,241.2 382,241 382.5,240.9 383,240.8 383.5,240.7 384,240.6 384.5,240.5 385,240.4 385.5,240.3 386,240.2 386.5,240.1 387,240 387.5,239.9 388,239.8 388.5,239.7 389,239.6 389.5,239.6 390,239.5 390.5,239.4 391,239.4 391.5,239.4 392,239.3 392.5,239.3 393,239.3 393.5,239.3 394,239.3 394.5,239.3 395,239.4 395.5,239.4 396,239.4 396.5,239.5 397,239.5 397.5,239.6 398,239.6 398.5,239.7 399,239.8 399.5,239.8 400,239.9 400.5,239.9 401,240 401.5,240 402,240.1 402.5,240.1 403,240.1 403.5,240.2 404,240.2 404.5,240.2 405,240.2 405.5,240.2 406,240.2 406.5,240.2 407,240.2 407.5,240.2 408,240.2 408.5,240.1 409,240.1 409.5,240.1 410,240.1 410.5,240.1 411,240.1 411.5,240.1 412,240 412.5,240 413,240 413.5,240 414,240 414.5,240 415,239.9 415.5,239.9 416,239.9 416.5,239.9 417,239.9 417.5,239.9 418,239.9 418.5,239.9 419,239.9 419.5,239.9 420,239.9 420.5,239.9 421,239.9 421.5,239.9 422,239.9 422.5,239.9 423,239.9 423.5,239.9 424,239.9 424.5,239.9 425,239.9 425.5,239.9 426,240 426.5,240.2 427,240.3 427.5,240.6 428,240.8 428.5,241 429,241.3 429.5,241.5 430,241.8 430.5,242 431,242.1 431.5,242.3 432,242.5 432.5,242.6 433,242.8 433.5,243 434,243.1 434.5,243.3 435,243.4 435.5,243.5 436,243.7 436.5,243.8 437,243.9 454,244" fill="none" stroke="#d2c99c" stroke-width="1.3" stroke-linejoin="round"/>
<path d="M328,252.1 L328,252.1 348.5,252.1 349,252 349.5,251.9 350,251.6 350.5,250.9 351,249.6 351.5,247.5 352,244.6 352.5,241.4 353,238.8 353.5,237.4 354,237.7 354.5,239.1 355,241.3 355.5,243.7 356,246.1 356.5,248.2 357,249.7 357.5,250.7 358,250.9 358.5,250.9 359,250.8 359.5,250.8 360,250.8 360.5,250.8 361,250.8 361.5,250.7 362,250.7 362.5,250.7 363,250.7 363.5,250.7 364,250.7 364.5,250.6 365,250.6 365.5,250.6 366,250.6 366.5,250.6 367,250.6 367.5,250.6 368,250.6 368.5,250.5 369,250.5 369.5,250.5 370,250.5 370.5,250.5 371,250.5 371.5,250.5 372,250.4 372.5,250.4 373,250.4 373.5,250.4 374,250.4 374.5,250.3 375,250.3 375.5,250.3 376,250.2 376.5,250.2 377,250.1 377.5,250.1 378,250 378.5,249.9 379,249.8 379.5,249.7 380,249.6 380.5,249.6 381,249.5 381.5,249.4 382,249.2 382.5,249.1 383,249 383.5,248.9 384,248.8 384.5,248.7 385,248.6 385.5,248.5 386,248.4 386.5,248.3 387,248.2 387.5,248.1 388,248.1 388.5,248 389,247.9 389.5,247.8 390,247.8 390.5,247.7 391,247.7 391.5,247.7 392,247.6 392.5,247.6 393,247.6 393.5,247.6 394,247.6 394.5,247.7 395,247.7 395.5,247.7 396,247.8 396.5,247.9 397,247.9 397.5,248 398,248.1 398.5,248.1 399,248.2 399.5,248.3 400,248.4 400.5,248.4 401,248.5 401.5,248.6 402,248.6 402.5,248.7 403,248.7 403.5,248.8 404,248.8 404.5,248.8 405,248.8 405.5,248.8 406,248.8 406.5,248.8 407,248.8 407.5,248.8 408,248.7 408.5,248.7 409,248.7 409.5,248.7 410,248.6 410.5,248.6 411,248.6 411.5,248.5 412,248.5 412.5,248.5 413,248.4 413.5,248.4 414,248.3 414.5,248.3 415,248.3 415.5,248.2 416,248.2 416.5,248.2 417,248.1 417.5,248.1 418,248.1 418.5,248 419,248 419.5,247.9 420,247.9 420.5,247.9 421,247.8 421.5,247.8 422,247.7 422.5,247.7 423,247.7 423.5,247.6 424,247.6 424.5,247.6 425,247.6 425.5,247.7 426,247.8 426.5,247.9 427,248.2 427.5,248.4 428,248.7 428.5,249 429,249.3 429.5,249.6 430,249.9 430.5,250.1 431,250.3 431.5,250.5 432,250.7 432.5,250.8 433,251 433.5,251.2 434,251.3 434.5,251.5 435,251.6 435.5,251.7 436,251.9 436.5,252 437,252.1 454,252.1 L454.2,252.1 Z" fill="#9fc9a8" fill-opacity="0.92" stroke="none" style="mix-blend-mode:multiply"/>
<path d="M328,252.1 348.5,252.1 349,252 349.5,251.9 350,251.6 350.5,250.9 351,249.6 351.5,247.5 352,244.6 352.5,241.4 353,238.8 353.5,237.4 354,237.7 354.5,239.1 355,241.3 355.5,243.7 356,246.1 356.5,248.2 357,249.7 357.5,250.7 358,250.9 358.5,250.9 359,250.8 359.5,250.8 360,250.8 360.5,250.8 361,250.8 361.5,250.7 362,250.7 362.5,250.7 363,250.7 363.5,250.7 364,250.7 364.5,250.6 365,250.6 365.5,250.6 366,250.6 366.5,250.6 367,250.6 367.5,250.6 368,250.6 368.5,250.5 369,250.5 369.5,250.5 370,250.5 370.5,250.5 371,250.5 371.5,250.5 372,250.4 372.5,250.4 373,250.4 373.5,250.4 374,250.4 374.5,250.3 375,250.3 375.5,250.3 376,250.2 376.5,250.2 377,250.1 377.5,250.1 378,250 378.5,249.9 379,249.8 379.5,249.7 380,249.6 380.5,249.6 381,249.5 381.5,249.4 382,249.2 382.5,249.1 383,249 383.5,248.9 384,248.8 384.5,248.7 385,248.6 385.5,248.5 386,248.4 386.5,248.3 387,248.2 387.5,248.1 388,248.1 388.5,248 389,247.9 389.5,247.8 390,247.8 390.5,247.7 391,247.7 391.5,247.7 392,247.6 392.5,247.6 393,247.6 393.5,247.6 394,247.6 394.5,247.7 395,247.7 395.5,247.7 396,247.8 396.5,247.9 397,247.9 397.5,248 398,248.1 398.5,248.1 399,248.2 399.5,248.3 400,248.4 400.5,248.4 401,248.5 401.5,248.6 402,248.6 402.5,248.7 403,248.7 403.5,248.8 404,248.8 404.5,248.8 405,248.8 405.5,248.8 406,248.8 406.5,248.8 407,248.8 407.5,248.8 408,248.7 408.5,248.7 409,248.7 409.5,248.7 410,248.6 410.5,248.6 411,248.6 411.5,248.5 412,248.5 412.5,248.5 413,248.4 413.5,248.4 414,248.3 414.5,248.3 415,248.3 415.5,248.2 416,248.2 416.5,248.2 417,248.1 417.5,248.1 418,248.1 418.5,248 419,248 419.5,247.9 420,247.9 420.5,247.9 421,247.8 421.5,247.8 422,247.7 422.5,247.7 423,247.7 423.5,247.6 424,247.6 424.5,247.6 425,247.6 425.5,247.7 426,247.8 426.5,247.9 427,248.2 427.5,248.4 428,248.7 428.5,249 429,249.3 429.5,249.6 430,249.9 430.5,250.1 431,250.3 431.5,250.5 432,250.7 432.5,250.8 433,251 433.5,251.2 434,251.3 434.5,251.5 435,251.6 435.5,251.7 436,251.9 436.5,252 437,252.1 454,252.1" fill="none" stroke="#2e7d4a" stroke-width="1.3" stroke-linejoin="round"/>
<path d="M328,260.3 L328,260.3 348.5,260.2 349,260.2 349.5,260.1 350,259.8 350.5,259.1 351,257.8 351.5,255.6 352,252.8 352.5,249.6 353,246.9 353.5,245.6 354,245.8 354.5,247.2 355,249.4 355.5,251.9 356,254.3 356.5,256.3 357,257.9 357.5,258.8 358,259 358.5,259 359,259 359.5,259 360,258.9 360.5,258.9 361,258.9 361.5,258.9 362,258.9 362.5,258.8 363,258.8 363.5,258.8 364,258.8 364.5,258.8 365,258.8 365.5,258.8 366,258.8 366.5,258.7 367,258.7 367.5,258.7 368,258.7 368.5,258.7 369,258.7 369.5,258.7 370,258.7 370.5,258.6 371,258.6 371.5,258.6 372,258.6 372.5,258.6 373,258.6 373.5,258.5 374,258.5 374.5,258.5 375,258.5 375.5,258.4 376,258.4 376.5,258.3 377,258.3 377.5,258.2 378,258.1 378.5,258.1 379,258 379.5,257.9 380,257.8 380.5,257.7 381,257.6 381.5,257.5 382,257.4 382.5,257.3 383,257.2 383.5,257.1 384,257 384.5,256.9 385,256.8 385.5,256.7 386,256.6 386.5,256.5 387,256.4 387.5,256.3 388,256.2 388.5,256.1 389,256.1 389.5,256 390,255.9 390.5,255.9 391,255.8 391.5,255.8 392,255.8 392.5,255.8 393,255.8 393.5,255.8 394,255.8 394.5,255.8 395,255.8 395.5,255.8 396,255.8 396.5,255.8 397,255.8 397.5,255.9 398,255.9 398.5,255.9 399,255.9 399.5,255.9 400,255.9 400.5,256 401,256 401.5,256 402,256 402.5,256 403,256 403.5,256 404,256.1 404.5,256.1 405,256.1 405.5,256.1 406,256 406.5,256 407,256 407.5,256 408,256 408.5,255.9 409,255.9 409.5,255.8 410,255.8 410.5,255.7 411,255.7 411.5,255.6 412,255.6 412.5,255.5 413,255.5 413.5,255.4 414,255.4 414.5,255.3 415,255.3 415.5,255.2 416,255.2 416.5,255.1 417,255.1 417.5,255 418,255 418.5,255 419,254.9 419.5,254.9 420,254.8 420.5,254.8 421,254.8 421.5,254.7 422,254.7 422.5,254.7 423,254.6 423.5,254.6 424,254.6 424.5,254.6 425,254.6 425.5,254.6 426,254.7 426.5,254.9 427,255.1 427.5,255.4 428,255.7 428.5,256 429,256.3 429.5,256.6 430,257 430.5,257.3 431,257.5 431.5,257.8 432,258 432.5,258.2 433,258.4 433.5,258.5 434,258.7 434.5,258.9 435,259 435.5,259.2 436,259.3 436.5,259.5 437,259.6 437.5,259.7 438,259.9 438.5,260 439,260.1 439.5,260.2 440,260.2 454,260.3 L454.2,260.3 Z" fill="#d2f3df" fill-opacity="0.92" stroke="none" style="mix-blend-mode:multiply"/>
<path d="M328,260.3 348.5,260.2 349,260.2 349.5,260.1 350,259.8 350.5,259.1 351,257.8 351.5,255.6 352,252.8 352.5,249.6 353,246.9 353.5,245.6 354,245.8 354.5,247.2 355,249.4 355.5,251.9 356,254.3 356.5,256.3 357,257.9 357.5,258.8 358,259 358.5,259 359,259 359.5,259 360,258.9 360.5,258.9 361,258.9 361.5,258.9 362,258.9 362.5,258.8 363,258.8 363.5,258.8 364,258.8 364.5,258.8 365,258.8 365.5,258.8 366,258.8 366.5,258.7 367,258.7 367.5,258.7 368,258.7 368.5,258.7 369,258.7 369.5,258.7 370,258.7 370.5,258.6 371,258.6 371.5,258.6 372,258.6 372.5,258.6 373,258.6 373.5,258.5 374,258.5 374.5,258.5 375,258.5 375.5,258.4 376,258.4 376.5,258.3 377,258.3 377.5,258.2 378,258.1 378.5,258.1 379,258 379.5,257.9 380,257.8 380.5,257.7 381,257.6 381.5,257.5 382,257.4 382.5,257.3 383,257.2 383.5,257.1 384,257 384.5,256.9 385,256.8 385.5,256.7 386,256.6 386.5,256.5 387,256.4 387.5,256.3 388,256.2 388.5,256.1 389,256.1 389.5,256 390,255.9 390.5,255.9 391,255.8 391.5,255.8 392,255.8 392.5,255.8 393,255.8 393.5,255.8 394,255.8 394.5,255.8 395,255.8 395.5,255.8 396,255.8 396.5,255.8 397,255.8 397.5,255.9 398,255.9 398.5,255.9 399,255.9 399.5,255.9 400,255.9 400.5,256 401,256 401.5,256 402,256 402.5,256 403,256 403.5,256 404,256.1 404.5,256.1 405,256.1 405.5,256.1 406,256 406.5,256 407,256 407.5,256 408,256 408.5,255.9 409,255.9 409.5,255.8 410,255.8 410.5,255.7 411,255.7 411.5,255.6 412,255.6 412.5,255.5 413,255.5 413.5,255.4 414,255.4 414.5,255.3 415,255.3 415.5,255.2 416,255.2 416.5,255.1 417,255.1 417.5,255 418,255 418.5,255 419,254.9 419.5,254.9 420,254.8 420.5,254.8 421,254.8 421.5,254.7 422,254.7 422.5,254.7 423,254.6 423.5,254.6 424,254.6 424.5,254.6 425,254.6 425.5,254.6 426,254.7 426.5,254.9 427,255.1 427.5,255.4 428,255.7 428.5,256 429,256.3 429.5,256.6 430,257 430.5,257.3 431,257.5 431.5,257.8 432,258 432.5,258.2 433,258.4 433.5,258.5 434,258.7 434.5,258.9 435,259 435.5,259.2 436,259.3 436.5,259.5 437,259.6 437.5,259.7 438,259.9 438.5,260 439,260.1 439.5,260.2 440,260.2 454,260.3" fill="none" stroke="#92e2b2" stroke-width="1.3" stroke-linejoin="round"/>
<path d="M328,268.4 L328,268.4 349,268.4 349.5,268.3 350,268 350.5,267.4 351,266.3 351.5,264.6 352,262.2 352.5,259.6 353,257.3 353.5,256.2 354,256.4 354.5,257.6 355,259.4 355.5,261.5 356,263.5 356.5,265.2 357,266.4 357.5,267.2 358,267.5 358.5,267.5 359,267.5 359.5,267.4 360,267.4 360.5,267.4 361,267.4 361.5,267.3 362,267.3 362.5,267.3 363,267.3 363.5,267.3 364,267.3 364.5,267.3 365,267.3 365.5,267.2 366,267.2 366.5,267.2 367,267.2 367.5,267.2 368,267.2 368.5,267.2 369,267.2 369.5,267.1 370,267.1 370.5,267.1 371,267.1 371.5,267.1 372,267.1 372.5,267 373,267 373.5,267 374,267 374.5,266.9 375,266.9 375.5,266.9 376,266.8 376.5,266.8 377,266.7 377.5,266.6 378,266.5 378.5,266.4 379,266.3 379.5,266.1 380,266 380.5,265.9 381,265.7 381.5,265.6 382,265.4 382.5,265.3 383,265.1 383.5,265 384,264.8 384.5,264.7 385,264.5 385.5,264.3 386,264.2 386.5,264 387,263.9 387.5,263.8 388,263.6 388.5,263.5 389,263.4 389.5,263.3 390,263.2 390.5,263.1 391,263 391.5,262.9 392,262.7 392.5,262.6 393,262.5 393.5,262.4 394,262.3 394.5,262.2 395,262.1 395.5,262 396,261.9 396.5,261.8 397,261.7 397.5,261.6 398,261.5 398.5,261.4 399,261.4 399.5,261.3 400,261.2 400.5,261.2 401,261.1 401.5,261.1 402,261.1 402.5,261.1 403,261.1 403.5,261.1 404,261.1 404.5,261.1 405,261.2 405.5,261.2 406,261.3 406.5,261.4 407,261.4 407.5,261.5 408,261.5 408.5,261.6 409,261.6 409.5,261.7 410,261.7 410.5,261.6 411,261.6 411.5,261.6 412,261.5 412.5,261.4 413,261.4 413.5,261.3 414,261.2 414.5,261 415,260.9 415.5,260.8 416,260.7 416.5,260.5 417,260.4 417.5,260.3 418,260.2 418.5,260 419,259.8 419.5,259.6 420,259.4 420.5,259.2 421,258.9 421.5,258.7 422,258.4 422.5,258.1 423,257.9 423.5,257.7 424,257.5 424.5,257.3 425,257.1 425.5,257 426,256.9 426.5,256.9 427,257 427.5,257.3 428,257.7 428.5,258.3 429,258.9 429.5,259.6 430,260.4 430.5,261 431,261.7 431.5,262.3 432,262.9 432.5,263.5 433,264.2 433.5,264.8 434,265.3 434.5,265.8 435,266.2 435.5,266.5 436,266.7 436.5,267 437,267.3 437.5,267.5 438,267.8 438.5,268 439,268.1 439.5,268.3 440,268.3 440.5,268.4 454,268.4 L454.2,268.4 Z" fill="#c9a888" fill-opacity="0.92" stroke="none" style="mix-blend-mode:multiply"/>
<path d="M328,268.4 349,268.4 349.5,268.3 350,268 350.5,267.4 351,266.3 351.5,264.6 352,262.2 352.5,259.6 353,257.3 353.5,256.2 354,256.4 354.5,257.6 355,259.4 355.5,261.5 356,263.5 356.5,265.2 357,266.4 357.5,267.2 358,267.5 358.5,267.5 359,267.5 359.5,267.4 360,267.4 360.5,267.4 361,267.4 361.5,267.3 362,267.3 362.5,267.3 363,267.3 363.5,267.3 364,267.3 364.5,267.3 365,267.3 365.5,267.2 366,267.2 366.5,267.2 367,267.2 367.5,267.2 368,267.2 368.5,267.2 369,267.2 369.5,267.1 370,267.1 370.5,267.1 371,267.1 371.5,267.1 372,267.1 372.5,267 373,267 373.5,267 374,267 374.5,266.9 375,266.9 375.5,266.9 376,266.8 376.5,266.8 377,266.7 377.5,266.6 378,266.5 378.5,266.4 379,266.3 379.5,266.1 380,266 380.5,265.9 381,265.7 381.5,265.6 382,265.4 382.5,265.3 383,265.1 383.5,265 384,264.8 384.5,264.7 385,264.5 385.5,264.3 386,264.2 386.5,264 387,263.9 387.5,263.8 388,263.6 388.5,263.5 389,263.4 389.5,263.3 390,263.2 390.5,263.1 391,263 391.5,262.9 392,262.7 392.5,262.6 393,262.5 393.5,262.4 394,262.3 394.5,262.2 395,262.1 395.5,262 396,261.9 396.5,261.8 397,261.7 397.5,261.6 398,261.5 398.5,261.4 399,261.4 399.5,261.3 400,261.2 400.5,261.2 401,261.1 401.5,261.1 402,261.1 402.5,261.1 403,261.1 403.5,261.1 404,261.1 404.5,261.1 405,261.2 405.5,261.2 406,261.3 406.5,261.4 407,261.4 407.5,261.5 408,261.5 408.5,261.6 409,261.6 409.5,261.7 410,261.7 410.5,261.6 411,261.6 411.5,261.6 412,261.5 412.5,261.4 413,261.4 413.5,261.3 414,261.2 414.5,261 415,260.9 415.5,260.8 416,260.7 416.5,260.5 417,260.4 417.5,260.3 418,260.2 418.5,260 419,259.8 419.5,259.6 420,259.4 420.5,259.2 421,258.9 421.5,258.7 422,258.4 422.5,258.1 423,257.9 423.5,257.7 424,257.5 424.5,257.3 425,257.1 425.5,257 426,256.9 426.5,256.9 427,257 427.5,257.3 428,257.7 428.5,258.3 429,258.9 429.5,259.6 430,260.4 430.5,261 431,261.7 431.5,262.3 432,262.9 432.5,263.5 433,264.2 433.5,264.8 434,265.3 434.5,265.8 435,266.2 435.5,266.5 436,266.7 436.5,267 437,267.3 437.5,267.5 438,267.8 438.5,268 439,268.1 439.5,268.3 440,268.3 440.5,268.4 454,268.4" fill="none" stroke="#9c5c30" stroke-width="1.3" stroke-linejoin="round"/>
<path d="M328,276.6 L328,276.6 348.5,276.5 349,276.5 349.5,276.4 350,276.1 350.5,275.4 351,274.1 351.5,271.9 352,269.1 352.5,265.9 353,263.2 353.5,261.9 354,262.1 354.5,263.5 355,265.7 355.5,268.2 356,270.6 356.5,272.6 357,274.2 357.5,275.2 358,275.6 358.5,275.6 359,275.6 359.5,275.6 360,275.6 360.5,275.5 361,275.5 361.5,275.5 362,275.5 362.5,275.5 363,275.5 363.5,275.4 364,275.4 364.5,275.4 365,275.4 365.5,275.4 366,275.4 366.5,275.4 367,275.4 367.5,275.3 368,275.3 368.5,275.3 369,275.3 369.5,275.3 370,275.3 370.5,275.3 371,275.2 371.5,275.2 372,275.2 372.5,275.2 373,275.2 373.5,275.1 374,275.1 374.5,275.1 375,275.1 375.5,275 376,275 376.5,274.9 377,274.9 377.5,274.8 378,274.7 378.5,274.6 379,274.5 379.5,274.4 380,274.3 380.5,274.1 381,274 381.5,273.9 382,273.8 382.5,273.6 383,273.5 383.5,273.3 384,273.2 384.5,273.1 385,272.9 385.5,272.8 386,272.7 386.5,272.6 387,272.4 387.5,272.3 388,272.2 388.5,272.1 389,272 389.5,271.9 390,271.8 390.5,271.8 391,271.7 391.5,271.7 392,271.6 392.5,271.6 393,271.6 393.5,271.6 394,271.6 394.5,271.7 395,271.7 395.5,271.8 396,271.9 396.5,272 397,272 397.5,272.1 398,272.2 398.5,272.3 399,272.4 399.5,272.5 400,272.6 400.5,272.7 401,272.8 401.5,272.9 402,273 402.5,273.1 403,273.1 403.5,273.2 404,273.2 404.5,273.3 405,273.3 405.5,273.3 406,273.3 406.5,273.3 407,273.2 407.5,273.2 408,273.2 408.5,273.2 409,273.2 409.5,273.2 410,273.2 410.5,273.2 411,273.1 411.5,273.1 412,273.1 412.5,273.1 413,273.1 413.5,273 414,273 414.5,273 415,273 415.5,272.9 416,272.9 416.5,272.9 417,272.9 417.5,272.8 418,272.8 418.5,272.8 419,272.7 419.5,272.7 420,272.6 420.5,272.6 421,272.5 421.5,272.5 422,272.4 422.5,272.4 423,272.4 423.5,272.4 424,272.4 424.5,272.5 425,272.7 425.5,272.8 426,273 426.5,273.2 427,273.5 427.5,273.7 428,273.9 428.5,274.2 429,274.4 429.5,274.6 430,274.8 430.5,274.9 431,275.1 431.5,275.2 432,275.4 432.5,275.5 433,275.7 433.5,275.8 434,276 434.5,276.1 435,276.3 435.5,276.4 436,276.5 454,276.6 L454.2,276.6 Z" fill="#eaa8e4" fill-opacity="0.92" stroke="none" style="mix-blend-mode:multiply"/>
<path d="M328,276.6 348.5,276.5 349,276.5 349.5,276.4 350,276.1 350.5,275.4 351,274.1 351.5,271.9 352,269.1 352.5,265.9 353,263.2 353.5,261.9 354,262.1 354.5,263.5 355,265.7 355.5,268.2 356,270.6 356.5,272.6 357,274.2 357.5,275.2 358,275.6 358.5,275.6 359,275.6 359.5,275.6 360,275.6 360.5,275.5 361,275.5 361.5,275.5 362,275.5 362.5,275.5 363,275.5 363.5,275.4 364,275.4 364.5,275.4 365,275.4 365.5,275.4 366,275.4 366.5,275.4 367,275.4 367.5,275.3 368,275.3 368.5,275.3 369,275.3 369.5,275.3 370,275.3 370.5,275.3 371,275.2 371.5,275.2 372,275.2 372.5,275.2 373,275.2 373.5,275.1 374,275.1 374.5,275.1 375,275.1 375.5,275 376,275 376.5,274.9 377,274.9 377.5,274.8 378,274.7 378.5,274.6 379,274.5 379.5,274.4 380,274.3 380.5,274.1 381,274 381.5,273.9 382,273.8 382.5,273.6 383,273.5 383.5,273.3 384,273.2 384.5,273.1 385,272.9 385.5,272.8 386,272.7 386.5,272.6 387,272.4 387.5,272.3 388,272.2 388.5,272.1 389,272 389.5,271.9 390,271.8 390.5,271.8 391,271.7 391.5,271.7 392,271.6 392.5,271.6 393,271.6 393.5,271.6 394,271.6 394.5,271.7 395,271.7 395.5,271.8 396,271.9 396.5,272 397,272 397.5,272.1 398,272.2 398.5,272.3 399,272.4 399.5,272.5 400,272.6 400.5,272.7 401,272.8 401.5,272.9 402,273 402.5,273.1 403,273.1 403.5,273.2 404,273.2 404.5,273.3 405,273.3 405.5,273.3 406,273.3 406.5,273.3 407,273.2 407.5,273.2 408,273.2 408.5,273.2 409,273.2 409.5,273.2 410,273.2 410.5,273.2 411,273.1 411.5,273.1 412,273.1 412.5,273.1 413,273.1 413.5,273 414,273 414.5,273 415,273 415.5,272.9 416,272.9 416.5,272.9 417,272.9 417.5,272.8 418,272.8 418.5,272.8 419,272.7 419.5,272.7 420,272.6 420.5,272.6 421,272.5 421.5,272.5 422,272.4 422.5,272.4 423,272.4 423.5,272.4 424,272.4 424.5,272.5 425,272.7 425.5,272.8 426,273 426.5,273.2 427,273.5 427.5,273.7 428,273.9 428.5,274.2 429,274.4 429.5,274.6 430,274.8 430.5,274.9 431,275.1 431.5,275.2 432,275.4 432.5,275.5 433,275.7 433.5,275.8 434,276 434.5,276.1 435,276.3 435.5,276.4 436,276.5 454,276.6" fill="none" stroke="#d24ecc" stroke-width="1.3" stroke-linejoin="round"/>
<path d="M328,284.7 L328,284.7 348.5,284.7 349,284.7 349.5,284.5 350,284.2 350.5,283.5 351,282.2 351.5,280.1 352,277.2 352.5,274 353,271.4 353.5,270.1 354,270.3 354.5,271.7 355,273.9 355.5,276.4 356,278.8 356.5,280.8 357,282.3 357.5,283.3 358,283.5 358.5,283.5 359,283.5 359.5,283.5 360,283.4 360.5,283.4 361,283.4 361.5,283.4 362,283.4 362.5,283.4 363,283.4 363.5,283.4 364,283.4 364.5,283.3 365,283.3 365.5,283.3 366,283.3 366.5,283.3 367,283.3 367.5,283.3 368,283.3 368.5,283.3 369,283.3 369.5,283.2 370,283.2 370.5,283.2 371,283.2 371.5,283.2 372,283.1 372.5,283.1 373,283.1 373.5,283.1 374,283 374.5,283 375,283 375.5,282.9 376,282.9 376.5,282.9 377,282.8 377.5,282.8 378,282.7 378.5,282.7 379,282.7 379.5,282.6 380,282.6 380.5,282.5 381,282.5 381.5,282.5 382,282.4 382.5,282.4 383,282.3 383.5,282.3 384,282.2 384.5,282.2 385,282.1 385.5,282.1 386,282.1 386.5,282 387,282 387.5,281.9 388,281.9 388.5,281.8 389,281.8 389.5,281.8 390,281.7 390.5,281.7 391,281.6 391.5,281.6 392,281.6 392.5,281.5 393,281.5 393.5,281.4 394,281.4 394.5,281.4 395,281.3 395.5,281.3 396,281.3 396.5,281.2 397,281.2 397.5,281.2 398,281.1 398.5,281.1 399,281 399.5,281 400,281 400.5,280.9 401,280.9 401.5,280.8 402,280.8 402.5,280.7 403,280.7 403.5,280.7 404,280.6 404.5,280.6 405,280.5 405.5,280.5 406,280.4 406.5,280.4 407,280.3 407.5,280.2 408,280.2 408.5,280.1 409,280.1 409.5,280 410,279.9 410.5,279.8 411,279.8 411.5,279.7 412,279.6 412.5,279.5 413,279.4 413.5,279.2 414,279.1 414.5,279 415,278.9 415.5,278.7 416,278.6 416.5,278.5 417,278.3 417.5,278.2 418,278.1 418.5,277.9 419,277.8 419.5,277.7 420,277.5 420.5,277.4 421,277.2 421.5,277 422,276.8 422.5,276.7 423,276.5 423.5,276.4 424,276.2 424.5,276.2 425,276.2 425.5,276.2 426,276.4 426.5,276.5 427,276.7 427.5,277 428,277.2 428.5,277.5 429,277.8 429.5,278.1 430,278.4 430.5,278.8 431,279.2 431.5,279.6 432,280.2 432.5,280.7 433,281.2 433.5,281.7 434,282.2 434.5,282.6 435,282.9 435.5,283.2 436,283.5 436.5,283.7 437,283.9 437.5,284.2 438,284.4 438.5,284.5 439,284.6 439.5,284.7 454,284.7 L454.2,284.7 Z" fill="#aaa2e0" fill-opacity="0.92" stroke="none" style="mix-blend-mode:multiply"/>
<path d="M328,284.7 348.5,284.7 349,284.7 349.5,284.5 350,284.2 350.5,283.5 351,282.2 351.5,280.1 352,277.2 352.5,274 353,271.4 353.5,270.1 354,270.3 354.5,271.7 355,273.9 355.5,276.4 356,278.8 356.5,280.8 357,282.3 357.5,283.3 358,283.5 358.5,283.5 359,283.5 359.5,283.5 360,283.4 360.5,283.4 361,283.4 361.5,283.4 362,283.4 362.5,283.4 363,283.4 363.5,283.4 364,283.4 364.5,283.3 365,283.3 365.5,283.3 366,283.3 366.5,283.3 367,283.3 367.5,283.3 368,283.3 368.5,283.3 369,283.3 369.5,283.2 370,283.2 370.5,283.2 371,283.2 371.5,283.2 372,283.1 372.5,283.1 373,283.1 373.5,283.1 374,283 374.5,283 375,283 375.5,282.9 376,282.9 376.5,282.9 377,282.8 377.5,282.8 378,282.7 378.5,282.7 379,282.7 379.5,282.6 380,282.6 380.5,282.5 381,282.5 381.5,282.5 382,282.4 382.5,282.4 383,282.3 383.5,282.3 384,282.2 384.5,282.2 385,282.1 385.5,282.1 386,282.1 386.5,282 387,282 387.5,281.9 388,281.9 388.5,281.8 389,281.8 389.5,281.8 390,281.7 390.5,281.7 391,281.6 391.5,281.6 392,281.6 392.5,281.5 393,281.5 393.5,281.4 394,281.4 394.5,281.4 395,281.3 395.5,281.3 396,281.3 396.5,281.2 397,281.2 397.5,281.2 398,281.1 398.5,281.1 399,281 399.5,281 400,281 400.5,280.9 401,280.9 401.5,280.8 402,280.8 402.5,280.7 403,280.7 403.5,280.7 404,280.6 404.5,280.6 405,280.5 405.5,280.5 406,280.4 406.5,280.4 407,280.3 407.5,280.2 408,280.2 408.5,280.1 409,280.1 409.5,280 410,279.9 410.5,279.8 411,279.8 411.5,279.7 412,279.6 412.5,279.5 413,279.4 413.5,279.2 414,279.1 414.5,279 415,278.9 415.5,278.7 416,278.6 416.5,278.5 417,278.3 417.5,278.2 418,278.1 418.5,277.9 419,277.8 419.5,277.7 420,277.5 420.5,277.4 421,277.2 421.5,277 422,276.8 422.5,276.7 423,276.5 423.5,276.4 424,276.2 424.5,276.2 425,276.2 425.5,276.2 426,276.4 426.5,276.5 427,276.7 427.5,277 428,277.2 428.5,277.5 429,277.8 429.5,278.1 430,278.4 430.5,278.8 431,279.2 431.5,279.6 432,280.2 432.5,280.7 433,281.2 433.5,281.7 434,282.2 434.5,282.6 435,282.9 435.5,283.2 436,283.5 436.5,283.7 437,283.9 437.5,284.2 438,284.4 438.5,284.5 439,284.6 439.5,284.7 454,284.7" fill="none" stroke="#5a50c2" stroke-width="1.3" stroke-linejoin="round"/>
<path d="M328,292.9 L328,292.9 348.5,292.9 349,292.8 349.5,292.7 350,292.4 350.5,291.7 351,290.4 351.5,288.3 352,285.4 352.5,282.2 353,279.5 353.5,278.2 354,278.5 354.5,279.9 355,282 355.5,284.5 356,286.9 356.5,288.9 357,290.5 357.5,291.3 358,291.4 358.5,291.3 359,291.3 359.5,291.3 360,291.3 360.5,291.3 361,291.3 361.5,291.3 362,291.2 362.5,291.2 363,291.2 363.5,291.2 364,291.2 364.5,291.2 365,291.2 365.5,291.2 366,291.2 366.5,291.2 367,291.2 367.5,291.1 368,291.1 368.5,291.1 369,291.1 369.5,291.1 370,291.1 370.5,291.1 371,291 371.5,291 372,291 372.5,291 373,290.9 373.5,290.9 374,290.9 374.5,290.8 375,290.8 375.5,290.8 376,290.7 376.5,290.7 377,290.7 377.5,290.6 378,290.6 378.5,290.6 379,290.5 379.5,290.5 380,290.4 380.5,290.4 381,290.4 381.5,290.3 382,290.3 382.5,290.2 383,290.2 383.5,290.1 384,290.1 384.5,290.1 385,290 385.5,290 386,289.9 386.5,289.9 387,289.8 387.5,289.8 388,289.7 388.5,289.7 389,289.7 389.5,289.6 390,289.6 390.5,289.5 391,289.5 391.5,289.4 392,289.4 392.5,289.4 393,289.3 393.5,289.3 394,289.2 394.5,289.2 395,289.2 395.5,289.1 396,289.1 396.5,289 397,289 397.5,288.9 398,288.9 398.5,288.9 399,288.8 399.5,288.8 400,288.7 400.5,288.7 401,288.6 401.5,288.6 402,288.5 402.5,288.5 403,288.4 403.5,288.4 404,288.3 404.5,288.3 405,288.2 405.5,288.2 406,288.1 406.5,288.1 407,288 407.5,287.9 408,287.9 408.5,287.8 409,287.8 409.5,287.7 410,287.6 410.5,287.5 411,287.5 411.5,287.4 412,287.3 412.5,287.2 413,287.1 413.5,287 414,286.9 414.5,286.8 415,286.7 415.5,286.6 416,286.4 416.5,286.3 417,286.2 417.5,286.1 418,286 418.5,285.9 419,285.8 419.5,285.8 420,285.7 420.5,285.6 421,285.5 421.5,285.4 422,285.3 422.5,285.3 423,285.2 423.5,285.1 424,285.1 424.5,285 425,285 425.5,284.9 426,284.9 426.5,285 427,285.1 427.5,285.3 428,285.6 428.5,285.9 429,286.2 429.5,286.5 430,286.9 430.5,287.3 431,287.6 431.5,288 432,288.4 432.5,288.9 433,289.4 433.5,289.9 434,290.3 434.5,290.7 435,291.1 435.5,291.4 436,291.7 436.5,291.9 437,292.2 437.5,292.4 438,292.6 438.5,292.8 439,292.9 454,292.9 L454.2,292.9 Z" fill="#ececec" fill-opacity="0.92" stroke="none" style="mix-blend-mode:multiply"/>
<path d="M328,292.9 348.5,292.9 349,292.8 349.5,292.7 350,292.4 350.5,291.7 351,290.4 351.5,288.3 352,285.4 352.5,282.2 353,279.5 353.5,278.2 354,278.5 354.5,279.9 355,282 355.5,284.5 356,286.9 356.5,288.9 357,290.5 357.5,291.3 358,291.4 358.5,291.3 359,291.3 359.5,291.3 360,291.3 360.5,291.3 361,291.3 361.5,291.3 362,291.2 362.5,291.2 363,291.2 363.5,291.2 364,291.2 364.5,291.2 365,291.2 365.5,291.2 366,291.2 366.5,291.2 367,291.2 367.5,291.1 368,291.1 368.5,291.1 369,291.1 369.5,291.1 370,291.1 370.5,291.1 371,291 371.5,291 372,291 372.5,291 373,290.9 373.5,290.9 374,290.9 374.5,290.8 375,290.8 375.5,290.8 376,290.7 376.5,290.7 377,290.7 377.5,290.6 378,290.6 378.5,290.6 379,290.5 379.5,290.5 380,290.4 380.5,290.4 381,290.4 381.5,290.3 382,290.3 382.5,290.2 383,290.2 383.5,290.1 384,290.1 384.5,290.1 385,290 385.5,290 386,289.9 386.5,289.9 387,289.8 387.5,289.8 388,289.7 388.5,289.7 389,289.7 389.5,289.6 390,289.6 390.5,289.5 391,289.5 391.5,289.4 392,289.4 392.5,289.4 393,289.3 393.5,289.3 394,289.2 394.5,289.2 395,289.2 395.5,289.1 396,289.1 396.5,289 397,289 397.5,288.9 398,288.9 398.5,288.9 399,288.8 399.5,288.8 400,288.7 400.5,288.7 401,288.6 401.5,288.6 402,288.5 402.5,288.5 403,288.4 403.5,288.4 404,288.3 404.5,288.3 405,288.2 405.5,288.2 406,288.1 406.5,288.1 407,288 407.5,287.9 408,287.9 408.5,287.8 409,287.8 409.5,287.7 410,287.6 410.5,287.5 411,287.5 411.5,287.4 412,287.3 412.5,287.2 413,287.1 413.5,287 414,286.9 414.5,286.8 415,286.7 415.5,286.6 416,286.4 416.5,286.3 417,286.2 417.5,286.1 418,286 418.5,285.9 419,285.8 419.5,285.8 420,285.7 420.5,285.6 421,285.5 421.5,285.4 422,285.3 422.5,285.3 423,285.2 423.5,285.1 424,285.1 424.5,285 425,285 425.5,284.9 426,284.9 426.5,285 427,285.1 427.5,285.3 428,285.6 428.5,285.9 429,286.2 429.5,286.5 430,286.9 430.5,287.3 431,287.6 431.5,288 432,288.4 432.5,288.9 433,289.4 433.5,289.9 434,290.3 434.5,290.7 435,291.1 435.5,291.4 436,291.7 436.5,291.9 437,292.2 437.5,292.4 438,292.6 438.5,292.8 439,292.9 454,292.9" fill="none" stroke="#d4d4d4" stroke-width="1.3" stroke-linejoin="round"/>
<path d="M328,301 L328,301 348.5,301 349,301 349.5,300.8 350,300.5 350.5,299.8 351,298.5 351.5,296.4 352,293.5 352.5,290.4 353,287.7 353.5,286.4 354,286.6 354.5,288 355,290.2 355.5,292.7 356,295.1 356.5,297.1 357,298.6 357.5,299.1 358,299.2 358.5,299.2 359,299.2 359.5,299.2 360,299.2 360.5,299.2 361,299.2 361.5,299.2 362,299.2 362.5,299.2 363,299.2 363.5,299.2 364,299.2 364.5,299.2 365,299.2 365.5,299.2 366,299.2 366.5,299.2 367,299.2 367.5,299.2 368,299.2 368.5,299.2 369,299.2 369.5,299.2 370,299.2 370.5,299.2 371,299.2 371.5,299.2 372,299.2 372.5,299.2 373,299.2 373.5,299.1 374,299.1 374.5,299.1 375,299.1 375.5,299 376,299 376.5,299 377,298.9 377.5,298.9 378,298.9 378.5,298.8 379,298.8 379.5,298.7 380,298.7 380.5,298.6 381,298.6 381.5,298.5 382,298.5 382.5,298.4 383,298.4 383.5,298.3 384,298.3 384.5,298.2 385,298.2 385.5,298.1 386,298.1 386.5,298 387,298 387.5,298 388,297.9 388.5,297.9 389,297.8 389.5,297.8 390,297.7 390.5,297.7 391,297.6 391.5,297.6 392,297.6 392.5,297.5 393,297.5 393.5,297.4 394,297.4 394.5,297.4 395,297.3 395.5,297.3 396,297.3 396.5,297.2 397,297.2 397.5,297.1 398,297.1 398.5,297.1 399,297 399.5,297 400,296.9 400.5,296.9 401,296.8 401.5,296.8 402,296.7 402.5,296.7 403,296.6 403.5,296.6 404,296.5 404.5,296.5 405,296.4 405.5,296.4 406,296.3 406.5,296.3 407,296.2 407.5,296.1 408,296.1 408.5,296 409,295.9 409.5,295.9 410,295.8 410.5,295.7 411,295.6 411.5,295.5 412,295.3 412.5,295.2 413,295.1 413.5,294.9 414,294.8 414.5,294.6 415,294.4 415.5,294.3 416,294.1 416.5,293.9 417,293.7 417.5,293.6 418,293.4 418.5,293.2 419,293.1 419.5,292.9 420,292.8 420.5,292.6 421,292.5 421.5,292.3 422,292.1 422.5,292 423,291.8 423.5,291.6 424,291.5 424.5,291.3 425,291.2 425.5,291.1 426,291 426.5,291 427,291 427.5,291.1 428,291.2 428.5,291.5 429,291.9 429.5,292.2 430,292.7 430.5,293.1 431,293.5 431.5,294 432,294.5 432.5,295.1 433,295.7 433.5,296.4 434,297 434.5,297.5 435,298 435.5,298.4 436,298.9 436.5,299.2 437,299.6 437.5,300 438,300.3 438.5,300.6 439,300.9 439.5,301 454,301 L454.2,301 Z" fill="#c2c2c2" fill-opacity="0.92" stroke="none" style="mix-blend-mode:multiply"/>
<path d="M328,301 348.5,301 349,301 349.5,300.8 350,300.5 350.5,299.8 351,298.5 351.5,296.4 352,293.5 352.5,290.4 353,287.7 353.5,286.4 354,286.6 354.5,288 355,290.2 355.5,292.7 356,295.1 356.5,297.1 357,298.6 357.5,299.1 358,299.2 358.5,299.2 359,299.2 359.5,299.2 360,299.2 360.5,299.2 361,299.2 361.5,299.2 362,299.2 362.5,299.2 363,299.2 363.5,299.2 364,299.2 364.5,299.2 365,299.2 365.5,299.2 366,299.2 366.5,299.2 367,299.2 367.5,299.2 368,299.2 368.5,299.2 369,299.2 369.5,299.2 370,299.2 370.5,299.2 371,299.2 371.5,299.2 372,299.2 372.5,299.2 373,299.2 373.5,299.1 374,299.1 374.5,299.1 375,299.1 375.5,299 376,299 376.5,299 377,298.9 377.5,298.9 378,298.9 378.5,298.8 379,298.8 379.5,298.7 380,298.7 380.5,298.6 381,298.6 381.5,298.5 382,298.5 382.5,298.4 383,298.4 383.5,298.3 384,298.3 384.5,298.2 385,298.2 385.5,298.1 386,298.1 386.5,298 387,298 387.5,298 388,297.9 388.5,297.9 389,297.8 389.5,297.8 390,297.7 390.5,297.7 391,297.6 391.5,297.6 392,297.6 392.5,297.5 393,297.5 393.5,297.4 394,297.4 394.5,297.4 395,297.3 395.5,297.3 396,297.3 396.5,297.2 397,297.2 397.5,297.1 398,297.1 398.5,297.1 399,297 399.5,297 400,296.9 400.5,296.9 401,296.8 401.5,296.8 402,296.7 402.5,296.7 403,296.6 403.5,296.6 404,296.5 404.5,296.5 405,296.4 405.5,296.4 406,296.3 406.5,296.3 407,296.2 407.5,296.1 408,296.1 408.5,296 409,295.9 409.5,295.9 410,295.8 410.5,295.7 411,295.6 411.5,295.5 412,295.3 412.5,295.2 413,295.1 413.5,294.9 414,294.8 414.5,294.6 415,294.4 415.5,294.3 416,294.1 416.5,293.9 417,293.7 417.5,293.6 418,293.4 418.5,293.2 419,293.1 419.5,292.9 420,292.8 420.5,292.6 421,292.5 421.5,292.3 422,292.1 422.5,292 423,291.8 423.5,291.6 424,291.5 424.5,291.3 425,291.2 425.5,291.1 426,291 426.5,291 427,291 427.5,291.1 428,291.2 428.5,291.5 429,291.9 429.5,292.2 430,292.7 430.5,293.1 431,293.5 431.5,294 432,294.5 432.5,295.1 433,295.7 433.5,296.4 434,297 434.5,297.5 435,298 435.5,298.4 436,298.9 436.5,299.2 437,299.6 437.5,300 438,300.3 438.5,300.6 439,300.9 439.5,301 454,301" fill="none" stroke="#666666" stroke-width="1.3" stroke-linejoin="round"/>
<path d="M328,309.2 L328,309.2 348.5,309.2 349,309.1 349.5,309 350,308.7 350.5,308.1 351,306.9 351.5,305 352,302.4 352.5,299.5 353,297 353.5,295.8 354,296.1 354.5,297.3 355,299.3 355.5,301.6 356,303.8 356.5,305.6 357,306.9 357.5,307.6 358,307.7 358.5,307.7 359,307.7 359.5,307.7 360,307.7 360.5,307.7 361,307.7 361.5,307.7 362,307.7 362.5,307.7 363,307.7 363.5,307.7 364,307.7 364.5,307.7 365,307.7 365.5,307.7 366,307.7 366.5,307.7 367,307.7 367.5,307.7 368,307.7 368.5,307.7 369,307.7 369.5,307.7 370,307.7 370.5,307.7 371,307.7 371.5,307.7 372,307.7 372.5,307.6 373,307.6 373.5,307.6 374,307.6 374.5,307.6 375,307.6 375.5,307.5 376,307.5 376.5,307.5 377,307.5 377.5,307.4 378,307.4 378.5,307.4 379,307.3 379.5,307.3 380,307.3 380.5,307.2 381,307.2 381.5,307.2 382,307.1 382.5,307.1 383,307.1 383.5,307 384,307 384.5,306.9 385,306.9 385.5,306.9 386,306.8 386.5,306.8 387,306.7 387.5,306.7 388,306.6 388.5,306.6 389,306.6 389.5,306.5 390,306.5 390.5,306.4 391,306.4 391.5,306.3 392,306.3 392.5,306.3 393,306.2 393.5,306.2 394,306.1 394.5,306.1 395,306 395.5,306 396,305.9 396.5,305.8 397,305.8 397.5,305.7 398,305.7 398.5,305.6 399,305.5 399.5,305.5 400,305.4 400.5,305.3 401,305.3 401.5,305.2 402,305.1 402.5,305.1 403,305 403.5,304.9 404,304.8 404.5,304.8 405,304.7 405.5,304.6 406,304.5 406.5,304.4 407,304.4 407.5,304.3 408,304.2 408.5,304.1 409,304 409.5,303.9 410,303.8 410.5,303.7 411,303.6 411.5,303.5 412,303.4 412.5,303.2 413,303.1 413.5,302.9 414,302.8 414.5,302.6 415,302.4 415.5,302.2 416,301.8 416.5,301.4 417,300.9 417.5,300.4 418,299.8 418.5,299.3 419,298.7 419.5,298.2 420,297.8 420.5,297.4 421,297.2 421.5,297 422,296.8 422.5,296.6 423,296.5 423.5,296.3 424,296.2 424.5,296 425,296 425.5,295.9 426,295.8 426.5,295.8 427,296 427.5,296.2 428,296.5 428.5,296.9 429,297.4 429.5,297.9 430,298.4 430.5,298.9 431,299.4 431.5,299.9 432,300.5 432.5,301.1 433,301.7 433.5,302.4 434,303.1 434.5,303.7 435,304.3 435.5,304.9 436,305.4 436.5,305.9 437,306.4 437.5,306.8 438,307.3 438.5,307.7 439,308.1 439.5,308.5 440,308.9 440.5,309.1 454,309.2 L454.2,309.2 Z" fill="#8c8c8c" fill-opacity="0.92" stroke="none" style="mix-blend-mode:multiply"/>
<path d="M328,309.2 348.5,309.2 349,309.1 349.5,309 350,308.7 350.5,308.1 351,306.9 351.5,305 352,302.4 352.5,299.5 353,297 353.5,295.8 354,296.1 354.5,297.3 355,299.3 355.5,301.6 356,303.8 356.5,305.6 357,306.9 357.5,307.6 358,307.7 358.5,307.7 359,307.7 359.5,307.7 360,307.7 360.5,307.7 361,307.7 361.5,307.7 362,307.7 362.5,307.7 363,307.7 363.5,307.7 364,307.7 364.5,307.7 365,307.7 365.5,307.7 366,307.7 366.5,307.7 367,307.7 367.5,307.7 368,307.7 368.5,307.7 369,307.7 369.5,307.7 370,307.7 370.5,307.7 371,307.7 371.5,307.7 372,307.7 372.5,307.6 373,307.6 373.5,307.6 374,307.6 374.5,307.6 375,307.6 375.5,307.5 376,307.5 376.5,307.5 377,307.5 377.5,307.4 378,307.4 378.5,307.4 379,307.3 379.5,307.3 380,307.3 380.5,307.2 381,307.2 381.5,307.2 382,307.1 382.5,307.1 383,307.1 383.5,307 384,307 384.5,306.9 385,306.9 385.5,306.9 386,306.8 386.5,306.8 387,306.7 387.5,306.7 388,306.6 388.5,306.6 389,306.6 389.5,306.5 390,306.5 390.5,306.4 391,306.4 391.5,306.3 392,306.3 392.5,306.3 393,306.2 393.5,306.2 394,306.1 394.5,306.1 395,306 395.5,306 396,305.9 396.5,305.8 397,305.8 397.5,305.7 398,305.7 398.5,305.6 399,305.5 399.5,305.5 400,305.4 400.5,305.3 401,305.3 401.5,305.2 402,305.1 402.5,305.1 403,305 403.5,304.9 404,304.8 404.5,304.8 405,304.7 405.5,304.6 406,304.5 406.5,304.4 407,304.4 407.5,304.3 408,304.2 408.5,304.1 409,304 409.5,303.9 410,303.8 410.5,303.7 411,303.6 411.5,303.5 412,303.4 412.5,303.2 413,303.1 413.5,302.9 414,302.8 414.5,302.6 415,302.4 415.5,302.2 416,301.8 416.5,301.4 417,300.9 417.5,300.4 418,299.8 418.5,299.3 419,298.7 419.5,298.2 420,297.8 420.5,297.4 421,297.2 421.5,297 422,296.8 422.5,296.6 423,296.5 423.5,296.3 424,296.2 424.5,296 425,296 425.5,295.9 426,295.8 426.5,295.8 427,296 427.5,296.2 428,296.5 428.5,296.9 429,297.4 429.5,297.9 430,298.4 430.5,298.9 431,299.4 431.5,299.9 432,300.5 432.5,301.1 433,301.7 433.5,302.4 434,303.1 434.5,303.7 435,304.3 435.5,304.9 436,305.4 436.5,305.9 437,306.4 437.5,306.8 438,307.3 438.5,307.7 439,308.1 439.5,308.5 440,308.9 440.5,309.1 454,309.2" fill="none" stroke="#161616" stroke-width="1.3" stroke-linejoin="round"/>
<path d="M328,317.3 L328,317.3 348.5,317.3 349,317.3 349.5,317.1 350,316.8 350.5,316.1 351,314.8 351.5,312.7 352,309.8 352.5,306.7 353,304 353.5,302.7 354,302.9 354.5,304.3 355,306.5 355.5,309 356,311.4 356.5,313.4 357,314.9 357.5,315.9 358,316.1 358.5,316.1 359,316.1 359.5,316.1 360,316.1 360.5,316.1 361,316.1 361.5,316.2 362,316.2 362.5,316.2 363,316.2 363.5,316.2 364,316.2 364.5,316.2 365,316.2 365.5,316.2 366,316.2 366.5,316.2 367,316.2 367.5,316.2 368,316.3 368.5,316.3 369,316.3 369.5,316.3 370,316.3 370.5,316.3 371,316.3 371.5,316.3 372,316.3 372.5,316.3 373,316.4 373.5,316.4 374,316.4 374.5,316.4 375,316.4 375.5,316.4 376,316.4 376.5,316.4 377,316.4 377.5,316.4 378,316.4 378.5,316.4 379,316.4 379.5,316.4 380,316.4 380.5,316.4 381,316.4 381.5,316.4 382,316.4 382.5,316.4 383,316.4 383.5,316.4 384,316.4 384.5,316.4 385,316.4 385.5,316.4 386,316.4 386.5,316.4 387,316.4 387.5,316.3 388,316.3 388.5,316.3 389,316.3 389.5,316.3 390,316.3 390.5,316.3 391,316.2 391.5,316.2 392,316.2 392.5,316.2 393,316.2 393.5,316.1 394,316.1 394.5,316.1 395,316.1 395.5,316.1 396,316 396.5,316 397,316 397.5,316 398,315.9 398.5,315.9 399,315.9 399.5,315.9 400,315.8 400.5,315.8 401,315.8 401.5,315.7 402,315.7 402.5,315.6 403,315.5 403.5,315.5 404,315.4 404.5,315.3 405,315.2 405.5,315.1 406,315 406.5,314.9 407,314.7 407.5,314.6 408,314.5 408.5,314.4 409,314.2 409.5,314.1 410,313.9 410.5,313.7 411,313.6 411.5,313.4 412,313.1 412.5,312.8 413,312.5 413.5,312.1 414,311.7 414.5,311.3 415,310.9 415.5,310.4 416,310 416.5,309.5 417,309.1 417.5,308.7 418,308.3 418.5,307.9 419,307.5 419.5,307.1 420,306.6 420.5,306.2 421,305.7 421.5,305.2 422,304.8 422.5,304.4 423,304 423.5,303.6 424,303.3 424.5,303.1 425,302.9 425.5,302.8 426,302.8 426.5,302.9 427,303.1 427.5,303.5 428,303.9 428.5,304.4 429,305 429.5,305.5 430,306.1 430.5,306.7 431,307.5 431.5,308.4 432,309.3 432.5,310.3 433,311.2 433.5,312.1 434,312.8 434.5,313.5 435,314.3 435.5,314.9 436,315.6 436.5,316.1 437,316.5 437.5,316.7 438,316.9 438.5,317.1 439,317.2 439.5,317.3 454,317.3 L454.2,317.3 Z" fill="#eed9d9" fill-opacity="0.92" stroke="none" style="mix-blend-mode:multiply"/>
<path d="M328,317.3 348.5,317.3 349,317.3 349.5,317.1 350,316.8 350.5,316.1 351,314.8 351.5,312.7 352,309.8 352.5,306.7 353,304 353.5,302.7 354,302.9 354.5,304.3 355,306.5 355.5,309 356,311.4 356.5,313.4 357,314.9 357.5,315.9 358,316.1 358.5,316.1 359,316.1 359.5,316.1 360,316.1 360.5,316.1 361,316.1 361.5,316.2 362,316.2 362.5,316.2 363,316.2 363.5,316.2 364,316.2 364.5,316.2 365,316.2 365.5,316.2 366,316.2 366.5,316.2 367,316.2 367.5,316.2 368,316.3 368.5,316.3 369,316.3 369.5,316.3 370,316.3 370.5,316.3 371,316.3 371.5,316.3 372,316.3 372.5,316.3 373,316.4 373.5,316.4 374,316.4 374.5,316.4 375,316.4 375.5,316.4 376,316.4 376.5,316.4 377,316.4 377.5,316.4 378,316.4 378.5,316.4 379,316.4 379.5,316.4 380,316.4 380.5,316.4 381,316.4 381.5,316.4 382,316.4 382.5,316.4 383,316.4 383.5,316.4 384,316.4 384.5,316.4 385,316.4 385.5,316.4 386,316.4 386.5,316.4 387,316.4 387.5,316.3 388,316.3 388.5,316.3 389,316.3 389.5,316.3 390,316.3 390.5,316.3 391,316.2 391.5,316.2 392,316.2 392.5,316.2 393,316.2 393.5,316.1 394,316.1 394.5,316.1 395,316.1 395.5,316.1 396,316 396.5,316 397,316 397.5,316 398,315.9 398.5,315.9 399,315.9 399.5,315.9 400,315.8 400.5,315.8 401,315.8 401.5,315.7 402,315.7 402.5,315.6 403,315.5 403.5,315.5 404,315.4 404.5,315.3 405,315.2 405.5,315.1 406,315 406.5,314.9 407,314.7 407.5,314.6 408,314.5 408.5,314.4 409,314.2 409.5,314.1 410,313.9 410.5,313.7 411,313.6 411.5,313.4 412,313.1 412.5,312.8 413,312.5 413.5,312.1 414,311.7 414.5,311.3 415,310.9 415.5,310.4 416,310 416.5,309.5 417,309.1 417.5,308.7 418,308.3 418.5,307.9 419,307.5 419.5,307.1 420,306.6 420.5,306.2 421,305.7 421.5,305.2 422,304.8 422.5,304.4 423,304 423.5,303.6 424,303.3 424.5,303.1 425,302.9 425.5,302.8 426,302.8 426.5,302.9 427,303.1 427.5,303.5 428,303.9 428.5,304.4 429,305 429.5,305.5 430,306.1 430.5,306.7 431,307.5 431.5,308.4 432,309.3 432.5,310.3 433,311.2 433.5,312.1 434,312.8 434.5,313.5 435,314.3 435.5,314.9 436,315.6 436.5,316.1 437,316.5 437.5,316.7 438,316.9 438.5,317.1 439,317.2 439.5,317.3 454,317.3" fill="none" stroke="#d9a3a3" stroke-width="1.3" stroke-linejoin="round"/>
<path d="M328,325.5 L328,325.5 347.5,325.4 348,325.4 348.5,325.3 349,325 349.5,324.6 350,323.9 350.5,322.7 351,321.1 351.5,319.2 352,317 352.5,315 353,313.5 353.5,312.8 354,312.9 354.5,313.6 355,314.9 355.5,316.4 356,318.1 356.5,319.7 357,321.2 357.5,322.4 358,323.1 358.5,323.2 359,323.2 359.5,323.2 360,323.2 360.5,323.2 361,323.2 361.5,323.2 362,323.2 362.5,323.2 363,323.2 363.5,323.2 364,323.2 364.5,323.2 365,323.2 365.5,323.2 366,323.2 366.5,323.2 367,323.2 367.5,323.2 368,323.2 368.5,323.2 369,323.2 369.5,323.2 370,323.2 370.5,323.2 371,323.2 371.5,323.2 372,323.2 372.5,323.2 373,323.2 373.5,323.2 374,323.2 374.5,323.2 375,323.2 375.5,323.2 376,323.2 376.5,323.2 377,323.2 377.5,323.2 378,323.2 378.5,323.2 379,323.2 379.5,323.2 380,323.2 380.5,323.2 381,323.2 381.5,323.2 382,323.2 382.5,323.2 383,323.2 383.5,323.2 384,323.2 384.5,323.2 385,323.2 385.5,323.2 386,323.2 386.5,323.2 387,323.2 387.5,323.2 388,323.2 388.5,323.2 389,323.2 389.5,323.2 390,323.2 390.5,323.2 391,323.2 391.5,323.2 392,323.2 392.5,323.2 393,323.2 393.5,323.2 394,323.2 394.5,323.2 395,323.2 395.5,323.2 396,323.2 396.5,323.2 397,323.1 397.5,323.1 398,323.1 398.5,323.1 399,323.1 399.5,323.1 400,323.1 400.5,323 401,323 401.5,323 402,323 402.5,323 403,323 403.5,323 404,323 404.5,322.9 405,322.9 405.5,322.9 406,322.9 406.5,322.9 407,322.9 407.5,322.9 408,322.8 408.5,322.8 409,322.8 409.5,322.8 410,322.8 410.5,322.7 411,322.7 411.5,322.7 412,322.7 412.5,322.7 413,322.7 413.5,322.7 414,322.6 414.5,322.6 415,322.6 415.5,322.6 416,322.6 416.5,322.6 417,322.7 417.5,322.7 418,322.7 418.5,322.8 419,322.8 419.5,322.9 420,322.9 420.5,323 421,323 421.5,323.1 422,323.1 422.5,323.2 423,323.3 423.5,323.3 424,323.4 424.5,323.4 425,323.5 425.5,323.5 426,323.6 426.5,323.6 427,323.6 427.5,323.7 428,323.7 428.5,323.7 429,323.7 429.5,323.6 430,323.6 430.5,323.5 431,323.4 431.5,323.2 432,323.1 432.5,323 433,322.8 433.5,322.6 434,322.5 434.5,322.3 435,322.1 435.5,321.9 436,321.6 436.5,321.4 437,321.1 437.5,320.8 438,320.5 438.5,320.1 439,319.7 439.5,319.3 440,318.9 440.5,318.5 441,318 441.5,317.6 442,317.2 442.5,316.9 443,316.5 443.5,316.1 444,315.7 444.5,315.3 445,315 445.5,314.6 446,314.2 446.5,313.9 447,313.5 447.5,313.1 448,312.6 448.5,312.1 449,311.6 449.5,311.1 450,310.7 450.5,310.3 451,310 451.5,309.8 452,309.7 452.5,309.7 453,309.7 453.5,309.7 454,309.7 L454.2,325.5 Z" fill="#a9c59b" fill-opacity="0.92" stroke="none" style="mix-blend-mode:multiply"/>
<path d="M328,325.5 347.5,325.4 348,325.4 348.5,325.3 349,325 349.5,324.6 350,323.9 350.5,322.7 351,321.1 351.5,319.2 352,317 352.5,315 353,313.5 353.5,312.8 354,312.9 354.5,313.6 355,314.9 355.5,316.4 356,318.1 356.5,319.7 357,321.2 357.5,322.4 358,323.1 358.5,323.2 359,323.2 359.5,323.2 360,323.2 360.5,323.2 361,323.2 361.5,323.2 362,323.2 362.5,323.2 363,323.2 363.5,323.2 364,323.2 364.5,323.2 365,323.2 365.5,323.2 366,323.2 366.5,323.2 367,323.2 367.5,323.2 368,323.2 368.5,323.2 369,323.2 369.5,323.2 370,323.2 370.5,323.2 371,323.2 371.5,323.2 372,323.2 372.5,323.2 373,323.2 373.5,323.2 374,323.2 374.5,323.2 375,323.2 375.5,323.2 376,323.2 376.5,323.2 377,323.2 377.5,323.2 378,323.2 378.5,323.2 379,323.2 379.5,323.2 380,323.2 380.5,323.2 381,323.2 381.5,323.2 382,323.2 382.5,323.2 383,323.2 383.5,323.2 384,323.2 384.5,323.2 385,323.2 385.5,323.2 386,323.2 386.5,323.2 387,323.2 387.5,323.2 388,323.2 388.5,323.2 389,323.2 389.5,323.2 390,323.2 390.5,323.2 391,323.2 391.5,323.2 392,323.2 392.5,323.2 393,323.2 393.5,323.2 394,323.2 394.5,323.2 395,323.2 395.5,323.2 396,323.2 396.5,323.2 397,323.1 397.5,323.1 398,323.1 398.5,323.1 399,323.1 399.5,323.1 400,323.1 400.5,323 401,323 401.5,323 402,323 402.5,323 403,323 403.5,323 404,323 404.5,322.9 405,322.9 405.5,322.9 406,322.9 406.5,322.9 407,322.9 407.5,322.9 408,322.8 408.5,322.8 409,322.8 409.5,322.8 410,322.8 410.5,322.7 411,322.7 411.5,322.7 412,322.7 412.5,322.7 413,322.7 413.5,322.7 414,322.6 414.5,322.6 415,322.6 415.5,322.6 416,322.6 416.5,322.6 417,322.7 417.5,322.7 418,322.7 418.5,322.8 419,322.8 419.5,322.9 420,322.9 420.5,323 421,323 421.5,323.1 422,323.1 422.5,323.2 423,323.3 423.5,323.3 424,323.4 424.5,323.4 425,323.5 425.5,323.5 426,323.6 426.5,323.6 427,323.6 427.5,323.7 428,323.7 428.5,323.7 429,323.7 429.5,323.6 430,323.6 430.5,323.5 431,323.4 431.5,323.2 432,323.1 432.5,323 433,322.8 433.5,322.6 434,322.5 434.5,322.3 435,322.1 435.5,321.9 436,321.6 436.5,321.4 437,321.1 437.5,320.8 438,320.5 438.5,320.1 439,319.7 439.5,319.3 440,318.9 440.5,318.5 441,318 441.5,317.6 442,317.2 442.5,316.9 443,316.5 443.5,316.1 444,315.7 444.5,315.3 445,315 445.5,314.6 446,314.2 446.5,313.9 447,313.5 447.5,313.1 448,312.6 448.5,312.1 449,311.6 449.5,311.1 450,310.7 450.5,310.3 451,310 451.5,309.8 452,309.7 452.5,309.7 453,309.7 453.5,309.7 454,309.7" fill="none" stroke="#3c7a38" stroke-width="1.3" stroke-linejoin="round"/>
<path d="M328,333.6 L328,333.6 348.5,333.6 349,333.6 349.5,333.5 350,333.1 350.5,332.5 351,331.1 351.5,329 352,326.1 352.5,323 353,320.3 353.5,319 354,319.2 354.5,320.6 355,322.8 355.5,325.3 356,327.7 356.5,329.7 357,331.2 357.5,332.3 358,332.7 358.5,332.7 359,332.7 359.5,332.7 360,332.7 360.5,332.7 361,332.7 361.5,332.6 362,332.6 362.5,332.6 363,332.6 363.5,332.6 364,332.6 364.5,332.6 365,332.6 365.5,332.6 366,332.6 366.5,332.6 367,332.6 367.5,332.6 368,332.6 368.5,332.5 369,332.5 369.5,332.5 370,332.5 370.5,332.5 371,332.5 371.5,332.5 372,332.5 372.5,332.5 373,332.5 373.5,332.5 374,332.5 374.5,332.4 375,332.4 375.5,332.4 376,332.4 376.5,332.4 377,332.4 377.5,332.4 378,332.3 378.5,332.3 379,332.3 379.5,332.3 380,332.3 380.5,332.2 381,332.2 381.5,332.2 382,332.2 382.5,332.1 383,332.1 383.5,332.1 384,332.1 384.5,332 385,332 385.5,332 386,332 386.5,331.9 387,331.9 387.5,331.9 388,331.8 388.5,331.8 389,331.8 389.5,331.7 390,331.7 390.5,331.7 391,331.6 391.5,331.6 392,331.6 392.5,331.5 393,331.5 393.5,331.4 394,331.4 394.5,331.4 395,331.3 395.5,331.3 396,331.3 396.5,331.2 397,331.2 397.5,331.1 398,331.1 398.5,331.1 399,331 399.5,331 400,330.9 400.5,330.9 401,330.8 401.5,330.8 402,330.8 402.5,330.7 403,330.7 403.5,330.6 404,330.6 404.5,330.5 405,330.4 405.5,330.4 406,330.3 406.5,330.3 407,330.2 407.5,330.1 408,330.1 408.5,330 409,330 409.5,329.9 410,329.8 410.5,329.8 411,329.7 411.5,329.6 412,329.6 412.5,329.5 413,329.4 413.5,329.3 414,329.3 414.5,329.2 415,329.1 415.5,329.1 416,329 416.5,328.9 417,328.8 417.5,328.7 418,328.6 418.5,328.5 419,328.4 419.5,328.3 420,328.2 420.5,328 421,327.9 421.5,327.8 422,327.7 422.5,327.6 423,327.5 423.5,327.4 424,327.4 424.5,327.3 425,327.2 425.5,327.2 426,327.1 426.5,327.1 427,327 427.5,327 428,327.1 428.5,327.1 429,327.2 429.5,327.4 430,327.5 430.5,327.7 431,327.9 431.5,328.2 432,328.4 432.5,328.7 433,329 433.5,329.4 434,329.8 434.5,330.2 435,330.6 435.5,331 436,331.4 436.5,331.7 437,332 437.5,332.3 438,332.6 438.5,332.9 439,333.1 439.5,333.4 440,333.6 454,333.6 L454.2,333.6 Z" fill="#dcf0ae" fill-opacity="0.92" stroke="none" style="mix-blend-mode:multiply"/>
<path d="M328,333.6 348.5,333.6 349,333.6 349.5,333.5 350,333.1 350.5,332.5 351,331.1 351.5,329 352,326.1 352.5,323 353,320.3 353.5,319 354,319.2 354.5,320.6 355,322.8 355.5,325.3 356,327.7 356.5,329.7 357,331.2 357.5,332.3 358,332.7 358.5,332.7 359,332.7 359.5,332.7 360,332.7 360.5,332.7 361,332.7 361.5,332.6 362,332.6 362.5,332.6 363,332.6 363.5,332.6 364,332.6 364.5,332.6 365,332.6 365.5,332.6 366,332.6 366.5,332.6 367,332.6 367.5,332.6 368,332.6 368.5,332.5 369,332.5 369.5,332.5 370,332.5 370.5,332.5 371,332.5 371.5,332.5 372,332.5 372.5,332.5 373,332.5 373.5,332.5 374,332.5 374.5,332.4 375,332.4 375.5,332.4 376,332.4 376.5,332.4 377,332.4 377.5,332.4 378,332.3 378.5,332.3 379,332.3 379.5,332.3 380,332.3 380.5,332.2 381,332.2 381.5,332.2 382,332.2 382.5,332.1 383,332.1 383.5,332.1 384,332.1 384.5,332 385,332 385.5,332 386,332 386.5,331.9 387,331.9 387.5,331.9 388,331.8 388.5,331.8 389,331.8 389.5,331.7 390,331.7 390.5,331.7 391,331.6 391.5,331.6 392,331.6 392.5,331.5 393,331.5 393.5,331.4 394,331.4 394.5,331.4 395,331.3 395.5,331.3 396,331.3 396.5,331.2 397,331.2 397.5,331.1 398,331.1 398.5,331.1 399,331 399.5,331 400,330.9 400.5,330.9 401,330.8 401.5,330.8 402,330.8 402.5,330.7 403,330.7 403.5,330.6 404,330.6 404.5,330.5 405,330.4 405.5,330.4 406,330.3 406.5,330.3 407,330.2 407.5,330.1 408,330.1 408.5,330 409,330 409.5,329.9 410,329.8 410.5,329.8 411,329.7 411.5,329.6 412,329.6 412.5,329.5 413,329.4 413.5,329.3 414,329.3 414.5,329.2 415,329.1 415.5,329.1 416,329 416.5,328.9 417,328.8 417.5,328.7 418,328.6 418.5,328.5 419,328.4 419.5,328.3 420,328.2 420.5,328 421,327.9 421.5,327.8 422,327.7 422.5,327.6 423,327.5 423.5,327.4 424,327.4 424.5,327.3 425,327.2 425.5,327.2 426,327.1 426.5,327.1 427,327 427.5,327 428,327.1 428.5,327.1 429,327.2 429.5,327.4 430,327.5 430.5,327.7 431,327.9 431.5,328.2 432,328.4 432.5,328.7 433,329 433.5,329.4 434,329.8 434.5,330.2 435,330.6 435.5,331 436,331.4 436.5,331.7 437,332 437.5,332.3 438,332.6 438.5,332.9 439,333.1 439.5,333.4 440,333.6 454,333.6" fill="none" stroke="#9acc2c" stroke-width="1.3" stroke-linejoin="round"/>
<path d="M328,341.8 L328,341.8 348.5,341.8 349,341.7 349.5,341.6 350,341.3 350.5,340.6 351,339.3 351.5,337.2 352,334.3 352.5,331.1 353,328.5 353.5,327.1 354,327.4 354.5,328.8 355,330.9 355.5,333.4 356,335.8 356.5,337.9 357,339.4 357.5,340.4 358,340.8 358.5,340.9 359,340.9 359.5,340.9 360,340.9 360.5,340.9 361,340.8 361.5,340.8 362,340.8 362.5,340.8 363,340.8 363.5,340.8 364,340.8 364.5,340.8 365,340.8 365.5,340.8 366,340.8 366.5,340.8 367,340.8 367.5,340.8 368,340.8 368.5,340.8 369,340.8 369.5,340.8 370,340.8 370.5,340.8 371,340.8 371.5,340.8 372,340.8 372.5,340.8 373,340.8 373.5,340.8 374,340.8 374.5,340.7 375,340.7 375.5,340.7 376,340.7 376.5,340.7 377,340.7 377.5,340.7 378,340.7 378.5,340.7 379,340.7 379.5,340.6 380,340.6 380.5,340.6 381,340.6 381.5,340.6 382,340.6 382.5,340.6 383,340.5 383.5,340.5 384,340.5 384.5,340.5 385,340.5 385.5,340.4 386,340.4 386.5,340.4 387,340.4 387.5,340.3 388,340.3 388.5,340.3 389,340.3 389.5,340.2 390,340.2 390.5,340.2 391,340.2 391.5,340.1 392,340.1 392.5,340.1 393,340 393.5,340 394,340 394.5,339.9 395,339.9 395.5,339.9 396,339.8 396.5,339.8 397,339.8 397.5,339.7 398,339.7 398.5,339.7 399,339.6 399.5,339.6 400,339.5 400.5,339.5 401,339.4 401.5,339.4 402,339.3 402.5,339.3 403,339.2 403.5,339.1 404,339 404.5,338.9 405,338.9 405.5,338.8 406,338.7 406.5,338.6 407,338.5 407.5,338.4 408,338.2 408.5,338.1 409,338 409.5,337.9 410,337.8 410.5,337.7 411,337.5 411.5,337.4 412,337.3 412.5,337.2 413,337 413.5,336.9 414,336.8 414.5,336.7 415,336.5 415.5,336.4 416,336.2 416.5,336.1 417,335.9 417.5,335.7 418,335.5 418.5,335.3 419,335.1 419.5,334.8 420,334.6 420.5,334.4 421,334.2 421.5,334 422,333.7 422.5,333.5 423,333.3 423.5,333.2 424,333 424.5,332.8 425,332.7 425.5,332.6 426,332.5 426.5,332.4 427,332.4 427.5,332.3 428,332.4 428.5,332.5 429,332.8 429.5,333.1 430,333.4 430.5,333.8 431,334.2 431.5,334.6 432,335 432.5,335.5 433,336.1 433.5,336.7 434,337.3 434.5,337.9 435,338.6 435.5,339.1 436,339.5 436.5,339.9 437,340.3 437.5,340.6 438,340.9 438.5,341.2 439,341.4 439.5,341.6 440,341.8 454,341.8 L454.2,341.8 Z" fill="#fbd4a6" fill-opacity="0.92" stroke="none" style="mix-blend-mode:multiply"/>
<path d="M328,341.8 348.5,341.8 349,341.7 349.5,341.6 350,341.3 350.5,340.6 351,339.3 351.5,337.2 352,334.3 352.5,331.1 353,328.5 353.5,327.1 354,327.4 354.5,328.8 355,330.9 355.5,333.4 356,335.8 356.5,337.9 357,339.4 357.5,340.4 358,340.8 358.5,340.9 359,340.9 359.5,340.9 360,340.9 360.5,340.9 361,340.8 361.5,340.8 362,340.8 362.5,340.8 363,340.8 363.5,340.8 364,340.8 364.5,340.8 365,340.8 365.5,340.8 366,340.8 366.5,340.8 367,340.8 367.5,340.8 368,340.8 368.5,340.8 369,340.8 369.5,340.8 370,340.8 370.5,340.8 371,340.8 371.5,340.8 372,340.8 372.5,340.8 373,340.8 373.5,340.8 374,340.8 374.5,340.7 375,340.7 375.5,340.7 376,340.7 376.5,340.7 377,340.7 377.5,340.7 378,340.7 378.5,340.7 379,340.7 379.5,340.6 380,340.6 380.5,340.6 381,340.6 381.5,340.6 382,340.6 382.5,340.6 383,340.5 383.5,340.5 384,340.5 384.5,340.5 385,340.5 385.5,340.4 386,340.4 386.5,340.4 387,340.4 387.5,340.3 388,340.3 388.5,340.3 389,340.3 389.5,340.2 390,340.2 390.5,340.2 391,340.2 391.5,340.1 392,340.1 392.5,340.1 393,340 393.5,340 394,340 394.5,339.9 395,339.9 395.5,339.9 396,339.8 396.5,339.8 397,339.8 397.5,339.7 398,339.7 398.5,339.7 399,339.6 399.5,339.6 400,339.5 400.5,339.5 401,339.4 401.5,339.4 402,339.3 402.5,339.3 403,339.2 403.5,339.1 404,339 404.5,338.9 405,338.9 405.5,338.8 406,338.7 406.5,338.6 407,338.5 407.5,338.4 408,338.2 408.5,338.1 409,338 409.5,337.9 410,337.8 410.5,337.7 411,337.5 411.5,337.4 412,337.3 412.5,337.2 413,337 413.5,336.9 414,336.8 414.5,336.7 415,336.5 415.5,336.4 416,336.2 416.5,336.1 417,335.9 417.5,335.7 418,335.5 418.5,335.3 419,335.1 419.5,334.8 420,334.6 420.5,334.4 421,334.2 421.5,334 422,333.7 422.5,333.5 423,333.3 423.5,333.2 424,333 424.5,332.8 425,332.7 425.5,332.6 426,332.5 426.5,332.4 427,332.4 427.5,332.3 428,332.4 428.5,332.5 429,332.8 429.5,333.1 430,333.4 430.5,333.8 431,334.2 431.5,334.6 432,335 432.5,335.5 433,336.1 433.5,336.7 434,337.3 434.5,337.9 435,338.6 435.5,339.1 436,339.5 436.5,339.9 437,340.3 437.5,340.6 438,340.9 438.5,341.2 439,341.4 439.5,341.6 440,341.8 454,341.8" fill="none" stroke="#f5921e" stroke-width="1.3" stroke-linejoin="round"/>
<path d="M328,349.9 L328,349.9 348.5,349.9 349,349.9 349.5,349.8 350,349.4 350.5,348.8 351,347.4 351.5,345.3 352,342.4 352.5,339.3 353,336.6 353.5,335.3 354,335.5 354.5,336.9 355,339.1 355.5,341.6 356,344 356.5,346 357,347.6 357.5,348.6 358,349 358.5,349 359,349 359.5,349 360,348.9 360.5,348.9 361,348.9 361.5,348.9 362,348.9 362.5,348.8 363,348.8 363.5,348.8 364,348.8 364.5,348.8 365,348.8 365.5,348.7 366,348.7 366.5,348.7 367,348.7 367.5,348.7 368,348.7 368.5,348.7 369,348.7 369.5,348.6 370,348.6 370.5,348.6 371,348.6 371.5,348.6 372,348.6 372.5,348.5 373,348.5 373.5,348.5 374,348.5 374.5,348.5 375,348.4 375.5,348.4 376,348.4 376.5,348.4 377,348.3 377.5,348.3 378,348.3 378.5,348.2 379,348.2 379.5,348.1 380,348.1 380.5,348.1 381,348 381.5,348 382,347.9 382.5,347.9 383,347.8 383.5,347.8 384,347.8 384.5,347.7 385,347.7 385.5,347.6 386,347.6 386.5,347.5 387,347.5 387.5,347.4 388,347.4 388.5,347.3 389,347.2 389.5,347.2 390,347.1 390.5,347.1 391,347 391.5,347 392,346.9 392.5,346.9 393,346.8 393.5,346.8 394,346.7 394.5,346.7 395,346.6 395.5,346.6 396,346.5 396.5,346.5 397,346.5 397.5,346.4 398,346.4 398.5,346.3 399,346.3 399.5,346.3 400,346.2 400.5,346.2 401,346.1 401.5,346.1 402,346 402.5,346 403,346 403.5,345.9 404,345.9 404.5,345.8 405,345.8 405.5,345.7 406,345.7 406.5,345.6 407,345.5 407.5,345.5 408,345.4 408.5,345.4 409,345.3 409.5,345.2 410,345.1 410.5,345.1 411,345 411.5,344.9 412,344.8 412.5,344.6 413,344.5 413.5,344.4 414,344.3 414.5,344.1 415,344 415.5,343.8 416,343.7 416.5,343.5 417,343.4 417.5,343.2 418,343.1 418.5,342.9 419,342.7 419.5,342.6 420,342.4 420.5,342.3 421,342.1 421.5,341.9 422,341.7 422.5,341.5 423,341.3 423.5,341.1 424,340.9 424.5,340.7 425,340.6 425.5,340.5 426,340.4 426.5,340.4 427,340.4 427.5,340.7 428,341.1 428.5,341.6 429,342.1 429.5,342.6 430,343.2 430.5,343.7 431,344.3 431.5,344.9 432,345.5 432.5,346.2 433,346.9 433.5,347.6 434,348.3 434.5,349.1 435,349.8 435.5,349.9 454,349.9 L454.2,349.9 Z" fill="#b4ddf2" fill-opacity="0.92" stroke="none" style="mix-blend-mode:multiply"/>
<path d="M328,349.9 348.5,349.9 349,349.9 349.5,349.8 350,349.4 350.5,348.8 351,347.4 351.5,345.3 352,342.4 352.5,339.3 353,336.6 353.5,335.3 354,335.5 354.5,336.9 355,339.1 355.5,341.6 356,344 356.5,346 357,347.6 357.5,348.6 358,349 358.5,349 359,349 359.5,349 360,348.9 360.5,348.9 361,348.9 361.5,348.9 362,348.9 362.5,348.8 363,348.8 363.5,348.8 364,348.8 364.5,348.8 365,348.8 365.5,348.7 366,348.7 366.5,348.7 367,348.7 367.5,348.7 368,348.7 368.5,348.7 369,348.7 369.5,348.6 370,348.6 370.5,348.6 371,348.6 371.5,348.6 372,348.6 372.5,348.5 373,348.5 373.5,348.5 374,348.5 374.5,348.5 375,348.4 375.5,348.4 376,348.4 376.5,348.4 377,348.3 377.5,348.3 378,348.3 378.5,348.2 379,348.2 379.5,348.1 380,348.1 380.5,348.1 381,348 381.5,348 382,347.9 382.5,347.9 383,347.8 383.5,347.8 384,347.8 384.5,347.7 385,347.7 385.5,347.6 386,347.6 386.5,347.5 387,347.5 387.5,347.4 388,347.4 388.5,347.3 389,347.2 389.5,347.2 390,347.1 390.5,347.1 391,347 391.5,347 392,346.9 392.5,346.9 393,346.8 393.5,346.8 394,346.7 394.5,346.7 395,346.6 395.5,346.6 396,346.5 396.5,346.5 397,346.5 397.5,346.4 398,346.4 398.5,346.3 399,346.3 399.5,346.3 400,346.2 400.5,346.2 401,346.1 401.5,346.1 402,346 402.5,346 403,346 403.5,345.9 404,345.9 404.5,345.8 405,345.8 405.5,345.7 406,345.7 406.5,345.6 407,345.5 407.5,345.5 408,345.4 408.5,345.4 409,345.3 409.5,345.2 410,345.1 410.5,345.1 411,345 411.5,344.9 412,344.8 412.5,344.6 413,344.5 413.5,344.4 414,344.3 414.5,344.1 415,344 415.5,343.8 416,343.7 416.5,343.5 417,343.4 417.5,343.2 418,343.1 418.5,342.9 419,342.7 419.5,342.6 420,342.4 420.5,342.3 421,342.1 421.5,341.9 422,341.7 422.5,341.5 423,341.3 423.5,341.1 424,340.9 424.5,340.7 425,340.6 425.5,340.5 426,340.4 426.5,340.4 427,340.4 427.5,340.7 428,341.1 428.5,341.6 429,342.1 429.5,342.6 430,343.2 430.5,343.7 431,344.3 431.5,344.9 432,345.5 432.5,346.2 433,346.9 433.5,347.6 434,348.3 434.5,349.1 435,349.8 435.5,349.9 454,349.9" fill="none" stroke="#5cbce4" stroke-width="1.3" stroke-linejoin="round"/>
<path d="M328,358.1 L328,358.1 348.5,358.1 349,358 349.5,357.8 350,357.3 350.5,356.5 351,355 351.5,352.7 352,349.9 352.5,346.9 353,344.6 353.5,343.4 354,343.6 354.5,344.6 355,345.2 355.5,345.4 356,345.6 356.5,345.8 357,346.1 357.5,346.5 358,346.9 358.5,347.4 359,347.8 359.5,348.3 360,348.7 360.5,349.1 361,349.5 361.5,349.9 362,350.3 362.5,350.7 363,351.2 363.5,351.6 364,352 364.5,352.4 365,352.8 365.5,353.2 366,353.6 366.5,353.9 367,354.3 367.5,354.6 368,355 368.5,355.3 369,355.6 369.5,355.9 370,356.1 370.5,356.4 371,356.6 371.5,356.8 372,357 372.5,357.2 373,357.3 373.5,357.5 374,357.6 374.5,357.8 375,357.9 375.5,358 376,358.1 454,358.1 L454.2,358.1 Z" fill="#f6a9a9" fill-opacity="0.92" stroke="none" style="mix-blend-mode:multiply"/>
<path d="M328,358.1 348.5,358.1 349,358 349.5,357.8 350,357.3 350.5,356.5 351,355 351.5,352.7 352,349.9 352.5,346.9 353,344.6 353.5,343.4 354,343.6 354.5,344.6 355,345.2 355.5,345.4 356,345.6 356.5,345.8 357,346.1 357.5,346.5 358,346.9 358.5,347.4 359,347.8 359.5,348.3 360,348.7 360.5,349.1 361,349.5 361.5,349.9 362,350.3 362.5,350.7 363,351.2 363.5,351.6 364,352 364.5,352.4 365,352.8 365.5,353.2 366,353.6 366.5,353.9 367,354.3 367.5,354.6 368,355 368.5,355.3 369,355.6 369.5,355.9 370,356.1 370.5,356.4 371,356.6 371.5,356.8 372,357 372.5,357.2 373,357.3 373.5,357.5 374,357.6 374.5,357.8 375,357.9 375.5,358 376,358.1 454,358.1" fill="none" stroke="#e64646" stroke-width="1.3" stroke-linejoin="round"/>
</g>
<path d="M328,359.4 V221.5 H454.2 V359.4" fill="none" stroke="#8e8e8e" stroke-width="1"/>
<path d="M327.5,359.4 H454.7" fill="none" stroke="#ee8f8f" stroke-width="1.2"/>
<path d="M62.1,360 h7.6 v3.6 h-1.6 v-1 h-1.2 v1 h-1.4 v-1 h-1.2 v1 h-2.2 Z" fill="#000"/>
<path d="M40.7,360 v3.8 M42.7,360 v2 M45,360 v2 M47.3,360 v2 M50.4,360 v3 M51.9,360 v2 M54.2,360 v2 M56.5,360 v2 M58.8,360 v2 M72.1,360 v2 M74.7,360 v2 M77.3,360 v2 M79.9,360 v2 M82.5,360 v2 M85.1,360 v3 M87.7,360 v2 M91.1,360 v3.8 M124.5,360 v3.8 M101.15,360 v1.8 M107.04,360 v1.8 M111.21,360 v1.8 M114.45,360 v2.6 M117.09,360 v1.8 M119.33,360 v1.8 M121.26,360 v1.8 M122.97,360 v1.8 M153.7,360 v3.8 M133.29,360 v1.8 M138.43,360 v1.8 M142.08,360 v1.8 M144.91,360 v2.6 M147.22,360 v1.8 M149.18,360 v1.8 M150.87,360 v1.8 M152.36,360 v1.8 M162.49,360 v1.8 M167.63,360 v1.8" stroke="#111" stroke-width="0.85" fill="none"/>
<text transform="translate(42.9,373) scale(0.78,1)" font-size="5.3" fill="#222">-10</text>
<text transform="translate(50.7,369.4) scale(0.8,1)" font-size="4.8" fill="#222">2</text>
<text transform="translate(67.5,373) scale(0.7,1)" font-size="5.4" fill="#222">0</text>
<text transform="translate(91.2,373) scale(0.78,1)" font-size="5.3" fill="#222">10</text>
<text transform="translate(97.2,369.4) scale(0.8,1)" font-size="4.8" fill="#222">3</text>
<text transform="translate(124.6,373) scale(0.78,1)" font-size="5.3" fill="#222">10</text>
<text transform="translate(130.6,369.4) scale(0.8,1)" font-size="4.8" fill="#222">4</text>
<text transform="translate(153.8,373) scale(0.78,1)" font-size="5.3" fill="#222">10</text>
<text transform="translate(159.8,369.4) scale(0.8,1)" font-size="4.8" fill="#222">5</text>
<path d="M204.1,360 h7.6 v3.6 h-1.6 v-1 h-1.2 v1 h-1.4 v-1 h-1.2 v1 h-2.2 Z" fill="#000"/>
<path d="M182.7,360 v3.8 M184.7,360 v2 M187,360 v2 M189.3,360 v2 M192.4,360 v3 M193.9,360 v2 M196.2,360 v2 M198.5,360 v2 M200.8,360 v2 M214.1,360 v2 M216.7,360 v2 M219.3,360 v2 M221.9,360 v2 M224.5,360 v2 M227.1,360 v3 M229.7,360 v2 M233.1,360 v3.8 M266.5,360 v3.8 M243.15,360 v1.8 M249.04,360 v1.8 M253.21,360 v1.8 M256.45,360 v2.6 M259.09,360 v1.8 M261.33,360 v1.8 M263.26,360 v1.8 M264.97,360 v1.8 M295.7,360 v3.8 M275.29,360 v1.8 M280.43,360 v1.8 M284.08,360 v1.8 M286.91,360 v2.6 M289.22,360 v1.8 M291.18,360 v1.8 M292.87,360 v1.8 M294.36,360 v1.8 M304.49,360 v1.8 M309.63,360 v1.8" stroke="#111" stroke-width="0.85" fill="none"/>
<text transform="translate(184.9,373) scale(0.78,1)" font-size="5.3" fill="#222">-10</text>
<text transform="translate(192.7,369.4) scale(0.8,1)" font-size="4.8" fill="#222">2</text>
<text transform="translate(209.5,373) scale(0.7,1)" font-size="5.4" fill="#222">0</text>
<text transform="translate(233.2,373) scale(0.78,1)" font-size="5.3" fill="#222">10</text>
<text transform="translate(239.2,369.4) scale(0.8,1)" font-size="4.8" fill="#222">3</text>
<text transform="translate(266.6,373) scale(0.78,1)" font-size="5.3" fill="#222">10</text>
<text transform="translate(272.6,369.4) scale(0.8,1)" font-size="4.8" fill="#222">4</text>
<text transform="translate(295.8,373) scale(0.78,1)" font-size="5.3" fill="#222">10</text>
<text transform="translate(301.8,369.4) scale(0.8,1)" font-size="4.8" fill="#222">5</text>
<path d="M349.7,360 h7.6 v3.6 h-1.6 v-1 h-1.2 v1 h-1.4 v-1 h-1.2 v1 h-2.2 Z" fill="#000"/>
<path d="M328.3,360 v3.8 M330.3,360 v2 M332.6,360 v2 M334.9,360 v2 M338,360 v3 M339.5,360 v2 M341.8,360 v2 M344.1,360 v2 M346.4,360 v2 M359.7,360 v2 M362.3,360 v2 M364.9,360 v2 M367.5,360 v2 M370.1,360 v2 M372.7,360 v3 M375.3,360 v2 M378.7,360 v3.8 M412.1,360 v3.8 M388.75,360 v1.8 M394.64,360 v1.8 M398.81,360 v1.8 M402.05,360 v2.6 M404.69,360 v1.8 M406.93,360 v1.8 M408.86,360 v1.8 M410.57,360 v1.8 M441.3,360 v3.8 M420.89,360 v1.8 M426.03,360 v1.8 M429.68,360 v1.8 M432.51,360 v2.6 M434.82,360 v1.8 M436.78,360 v1.8 M438.47,360 v1.8 M439.96,360 v1.8 M450.09,360 v1.8" stroke="#111" stroke-width="0.85" fill="none"/>
<text transform="translate(330.5,373) scale(0.78,1)" font-size="5.3" fill="#222">-10</text>
<text transform="translate(338.3,369.4) scale(0.8,1)" font-size="4.8" fill="#222">2</text>
<text transform="translate(355.1,373) scale(0.7,1)" font-size="5.4" fill="#222">0</text>
<text transform="translate(378.8,373) scale(0.78,1)" font-size="5.3" fill="#222">10</text>
<text transform="translate(384.8,369.4) scale(0.8,1)" font-size="4.8" fill="#222">3</text>
<text transform="translate(412.2,373) scale(0.78,1)" font-size="5.3" fill="#222">10</text>
<text transform="translate(418.2,369.4) scale(0.8,1)" font-size="4.8" fill="#222">4</text>
<text transform="translate(441.4,373) scale(0.78,1)" font-size="5.3" fill="#222">10</text>
<text transform="translate(447.4,369.4) scale(0.8,1)" font-size="4.8" fill="#222">5</text>
<text x="270.2" y="216.8" font-size="8.25" fill="#e8403e" text-anchor="middle" stroke="#e8403e" stroke-width="0.28">Point Mutants</text>
<text transform="translate(102,385) scale(0.75,1)" font-size="6.3" text-anchor="middle" fill="#222" stroke="#222" stroke-width="0.28">PE-A</text>
<text x="101" y="394.4" font-size="8.2" text-anchor="middle" fill="#111" stroke="#111" stroke-width="0.28">PF-07062119</text>
<text transform="translate(243.7,385) scale(0.75,1)" font-size="6.3" text-anchor="middle" fill="#222" stroke="#222" stroke-width="0.28">PE-A</text>
<text x="242.7" y="394.4" font-size="8.2" text-anchor="middle" fill="#111" stroke="#111" stroke-width="0.28">5F9-CD3</text>
<text transform="translate(389.2,385) scale(0.75,1)" font-size="6.3" text-anchor="middle" fill="#222" stroke="#222" stroke-width="0.28">PE-A</text>
<text x="388.2" y="394.4" font-size="8.2" text-anchor="middle" fill="#111" stroke="#111" stroke-width="0.28">anti-V5</text>
<path d="M34.9,361.4 V228" stroke="#555" stroke-width="1.1"/>
<path d="M33,230.5 L34.9,224.8 L36.8,230.5 Z" fill="#111"/>
<text transform="translate(21,295) rotate(-90)" font-size="8" text-anchor="middle" fill="#111" stroke="#111" stroke-width="0.28">Events Count</text>
<text transform="translate(30.9,295.3) rotate(-90)" font-size="8" text-anchor="middle" fill="#111" stroke="#111" stroke-width="0.28">Normalized to Mode</text>
<path d="M454.5,43.8 V144.8 M466.4,43.8 V144.8" stroke="#8c8c8c" stroke-width="1.2"/>
<path d="M454.5,45.3 H466.4 M454.5,56.3 H466.4 M454.5,67.3 H466.4 M454.5,78.3 H466.4 M454.5,89.3 H466.4 M454.5,100.3 H466.4 M454.5,111.3 H466.4 M454.5,122.3 H466.4 M454.5,133.3 H466.4 M454.5,144.3 H466.4" stroke="#8c8c8c" stroke-width="1.1"/>
<rect x="456.6" y="47.8" width="7.4" height="7" fill="#f7ef9a" fill-opacity="0.62" stroke="#f2e234" stroke-opacity="0.25" stroke-width="0.9"/>
<text x="468.8" y="56.8" font-size="8.78" fill="#111" stroke="#111" stroke-width="0.28">CID1940 chGUCY2C_chimera2 _huGUCY2c 73-87</text>
<rect x="456.6" y="58.8" width="7.4" height="7" fill="#ade6e6" fill-opacity="0.62" stroke="#2a9c9c" stroke-opacity="0.25" stroke-width="0.9"/>
<text x="468.8" y="67.28" font-size="8.78" fill="#111" stroke="#111" stroke-width="0.28">CID1939 chGUCY2C_chimera1 _huGUCY2c 74-92</text>
<rect x="456.6" y="69.8" width="7.4" height="7" fill="#d49be6" fill-opacity="0.62" stroke="#9a3cc4" stroke-opacity="0.25" stroke-width="0.9"/>
<text x="468.8" y="77.76" font-size="8.78" fill="#111" stroke="#111" stroke-width="0.28">Chimera CID1874: hu to Ch&#160; 71-89</text>
<rect x="456.6" y="80.8" width="7.4" height="7" fill="#eed9d9" fill-opacity="0.62" stroke="#d9a3a3" stroke-opacity="0.25" stroke-width="0.9"/>
<text x="468.8" y="88.24" font-size="8.78" fill="#111" stroke="#111" stroke-width="0.28">Patch CID1868 : S15N, S62F, I66L, L80V</text>
<rect x="456.6" y="91.8" width="7.4" height="7" fill="#a9c59b" fill-opacity="0.62" stroke="#3c7a38" stroke-opacity="0.25" stroke-width="0.9"/>
<text x="468.8" y="98.72" font-size="8.78" fill="#111" stroke="#111" stroke-width="0.28">CID1431 Negative Ctrl</text>
<rect x="456.6" y="102.8" width="7.4" height="7" fill="#dcf0ae" fill-opacity="0.62" stroke="#9acc2c" stroke-opacity="0.25" stroke-width="0.9"/>
<text x="468.8" y="109.2" font-size="8.78" fill="#111" stroke="#111" stroke-width="0.28">CID1818: Chicken</text>
<rect x="456.6" y="113.8" width="7.4" height="7" fill="#fbd4a6" fill-opacity="0.62" stroke="#f5921e" stroke-opacity="0.25" stroke-width="0.9"/>
<text x="468.8" y="119.68" font-size="8.78" fill="#111" stroke="#111" stroke-width="0.28">CID1815: Rat</text>
<rect x="456.6" y="124.8" width="7.4" height="7" fill="#b4ddf2" fill-opacity="0.62" stroke="#5cbce4" stroke-opacity="0.25" stroke-width="0.9"/>
<text x="468.8" y="130.16" font-size="8.78" fill="#111" stroke="#111" stroke-width="0.28">CID1814: Human</text>
<rect x="456.6" y="135.8" width="7.4" height="7" fill="#f6a9a9" fill-opacity="0.62" stroke="#e64646" stroke-opacity="0.25" stroke-width="0.9"/>
<text x="468.8" y="140.64" font-size="8.78" fill="#111" stroke="#111" stroke-width="0.28">Secondary only</text>
<path d="M465.6,209.9 V367.1 M478.7,209.9 V367.1" stroke="#585858" stroke-width="1.2"/>
<path d="M465.6,211.4 H478.7 M465.6,221.1 H478.7 M465.6,230.8 H478.7 M465.6,240.5 H478.7 M465.6,250.2 H478.7 M465.6,259.9 H478.7 M465.6,269.6 H478.7 M465.6,279.3 H478.7 M465.6,289 H478.7 M465.6,298.7 H478.7 M465.6,308.4 H478.7 M465.6,318.1 H478.7 M465.6,327.8 H478.7 M465.6,337.5 H478.7 M465.6,347.2 H478.7 M465.6,356.9 H478.7 M465.6,366.6 H478.7" stroke="#585858" stroke-width="1.1"/>
<rect x="468" y="213.8" width="8.2" height="6" rx="0.5" fill="#eaa2bc" stroke="#d23a6a" stroke-width="0.8"/>
<text x="480.9" y="220.2" font-size="8.1" fill="#111" stroke="#111" stroke-width="0.28">CID1950 Point Mutant S87F</text>
<rect x="468" y="223.5" width="8.2" height="6" rx="0.5" fill="#eee8cc" stroke="#d2c99c" stroke-width="0.8"/>
<text x="480.9" y="229.91" font-size="8.1" fill="#111" stroke="#111" stroke-width="0.28">CID1949 Point Mutant K85Q</text>
<rect x="468" y="233.2" width="8.2" height="6" rx="0.5" fill="#9fc9a8" stroke="#2e7d4a" stroke-width="0.8"/>
<text x="480.9" y="239.62" font-size="8.1" fill="#111" stroke="#111" stroke-width="0.28">CID1948 Point Mutant R84K</text>
<rect x="468" y="242.9" width="8.2" height="6" rx="0.5" fill="#d2f3df" stroke="#92e2b2" stroke-width="0.8"/>
<text x="480.9" y="249.33" font-size="8.1" fill="#111" stroke="#111" stroke-width="0.28">CID1947 Point Mutant L83I</text>
<rect x="468" y="252.6" width="8.2" height="6" rx="0.5" fill="#c9a888" stroke="#9c5c30" stroke-width="0.8"/>
<text x="480.9" y="259.04" font-size="8.1" fill="#111" stroke="#111" stroke-width="0.28">CID1946 Point Mutant D81E</text>
<rect x="468" y="262.3" width="8.2" height="6" rx="0.5" fill="#eaa8e4" stroke="#d24ecc" stroke-width="0.8"/>
<text x="480.9" y="268.75" font-size="8.1" fill="#111" stroke="#111" stroke-width="0.28">CID1945 Point Mutant L80V</text>
<rect x="468" y="272" width="8.2" height="6" rx="0.5" fill="#aaa2e0" stroke="#5a50c2" stroke-width="0.8"/>
<text x="480.9" y="278.46" font-size="8.1" fill="#111" stroke="#111" stroke-width="0.28">CID1944 Point Mutant S74T</text>
<rect x="468" y="281.7" width="8.2" height="6" rx="0.5" fill="#ececec" stroke="#d4d4d4" stroke-width="0.8"/>
<text x="480.9" y="288.17" font-size="8.1" fill="#111" stroke="#111" stroke-width="0.28">CID1943 Point Mutant I66L</text>
<rect x="468" y="291.4" width="8.2" height="6" rx="0.5" fill="#c2c2c2" stroke="#666666" stroke-width="0.8"/>
<text x="480.9" y="297.88" font-size="8.1" fill="#111" stroke="#111" stroke-width="0.28">CID1942 Point Mutant S62F</text>
<rect x="468" y="301.1" width="8.2" height="6" rx="0.5" fill="#8c8c8c" stroke="#161616" stroke-width="0.8"/>
<text x="480.9" y="307.59" font-size="8.1" fill="#111" stroke="#111" stroke-width="0.28">CID1941 Point Mutant S15N</text>
<rect x="468" y="310.8" width="8.2" height="6" rx="0.5" fill="#eed9d9" stroke="#d9a3a3" stroke-width="0.8"/>
<text x="480.9" y="317.3" font-size="8.1" fill="#111" stroke="#111" stroke-width="0.28">Patch CID1868 : S15N, S62F, I66L, L80V</text>
<rect x="468" y="320.5" width="8.2" height="6" rx="0.5" fill="#a9c59b" stroke="#3c7a38" stroke-width="0.8"/>
<text x="480.9" y="327.01" font-size="8.1" fill="#111" stroke="#111" stroke-width="0.28">CID1431 Negative Ctrl</text>
<rect x="468" y="330.2" width="8.2" height="6" rx="0.5" fill="#dcf0ae" stroke="#9acc2c" stroke-width="0.8"/>
<text x="480.9" y="336.72" font-size="8.1" fill="#111" stroke="#111" stroke-width="0.28">CID1818: Chicken</text>
<rect x="468" y="339.9" width="8.2" height="6" rx="0.5" fill="#fbd4a6" stroke="#f5921e" stroke-width="0.8"/>
<text x="480.9" y="346.43" font-size="8.1" fill="#111" stroke="#111" stroke-width="0.28">CID1815: Rat</text>
<rect x="468" y="349.6" width="8.2" height="6" rx="0.5" fill="#b4ddf2" stroke="#5cbce4" stroke-width="0.8"/>
<text x="480.9" y="356.14" font-size="8.1" fill="#111" stroke="#111" stroke-width="0.28">CID1814: Human</text>
<rect x="468" y="359.3" width="8.2" height="6" rx="0.5" fill="#f6a9a9" stroke="#e64646" stroke-width="0.8"/>
<text x="480.9" y="365.85" font-size="8.1" fill="#111" stroke="#111" stroke-width="0.28">Secondary only</text>
<path d="M50.5,439.5 H291.6 V595.4 H50.5 Z" fill="none" stroke="#000" stroke-width="1.1"/>
<path d="M47,595.4 H50.5" stroke="#000" stroke-width="1"/>
<text transform="translate(45.3,597.8) scale(0.85,1)" font-size="6.6" text-anchor="end" fill="#111" stroke="#111" stroke-width="0.28">0</text>
<path d="M47,556.42 H50.5" stroke="#000" stroke-width="1"/>
<text transform="translate(45.3,558.82) scale(0.85,1)" font-size="6.6" text-anchor="end" fill="#111" stroke="#111" stroke-width="0.28">20</text>
<path d="M47,517.45 H50.5" stroke="#000" stroke-width="1"/>
<text transform="translate(45.3,519.85) scale(0.85,1)" font-size="6.6" text-anchor="end" fill="#111" stroke="#111" stroke-width="0.28">40</text>
<path d="M47,478.48 H50.5" stroke="#000" stroke-width="1"/>
<text transform="translate(45.3,480.88) scale(0.85,1)" font-size="6.6" text-anchor="end" fill="#111" stroke="#111" stroke-width="0.28">60</text>
<path d="M47,439.5 H50.5" stroke="#000" stroke-width="1"/>
<text transform="translate(45.3,441.9) scale(0.85,1)" font-size="6.6" text-anchor="end" fill="#111" stroke="#111" stroke-width="0.28">80</text>
<rect x="54.9" y="524.08" width="8.8" height="71.32" fill="#000"/>
<path d="M59.3,524.08 V497.57" stroke="#000" stroke-width="1.1"/><path d="M57.2,497.57 H61.4" stroke="#000" stroke-width="1.4" stroke-linecap="round"/>
<path d="M59.3,595.4 v3.6" stroke="#000" stroke-width="1.1"/>
<text transform="translate(60.5,605) rotate(-45)" font-size="6.1" text-anchor="end" fill="#111" stroke="#111" stroke-width="0.28">Human</text>
<rect x="67.99" y="571.04" width="8.8" height="24.36" fill="#000"/>
<path d="M72.39,571.04 V566.75" stroke="#000" stroke-width="1.1"/><path d="M70.29,566.75 H74.49" stroke="#000" stroke-width="1.4" stroke-linecap="round"/>
<path d="M72.39,595.4 v3.6" stroke="#000" stroke-width="1.1"/>
<text transform="translate(73.59,605) rotate(-45)" font-size="6.1" text-anchor="end" fill="#111" stroke="#111" stroke-width="0.28">Rat</text>
<path d="M85.48,595.4 v3.6" stroke="#000" stroke-width="1.1"/>
<text transform="translate(86.68,605) rotate(-45)" font-size="6.1" text-anchor="end" fill="#111" stroke="#111" stroke-width="0.28">Chicken</text>
<path d="M98.57,595.4 v3.6" stroke="#000" stroke-width="1.1"/>
<text transform="translate(99.77,605) rotate(-45)" font-size="6.1" text-anchor="end" fill="#111" stroke="#111" stroke-width="0.28">Neg Ctrl</text>
<path d="M109.46,594.1 H113.86" stroke="#000" stroke-width="1.1"/>
<path d="M111.66,595.4 v3.6" stroke="#000" stroke-width="1.1"/>
<text transform="translate(112.86,605) rotate(-45)" font-size="6.1" text-anchor="end" fill="#111" stroke="#111" stroke-width="0.28">S15N/S62F/I66L/L80V</text>
<path d="M124.75,595.4 v3.6" stroke="#000" stroke-width="1.1"/>
<text transform="translate(125.95,605) rotate(-45)" font-size="6.1" text-anchor="end" fill="#111" stroke="#111" stroke-width="0.28">Hu to Ch chimera 74-92</text>
<rect x="133.44" y="567.34" width="8.8" height="28.06" fill="#000"/>
<path d="M137.84,567.34 V563.64" stroke="#000" stroke-width="1.1"/><path d="M135.74,563.64 H139.94" stroke="#000" stroke-width="1.4" stroke-linecap="round"/>
<path d="M137.84,595.4 v3.6" stroke="#000" stroke-width="1.1"/>
<text transform="translate(139.04,605) rotate(-45)" font-size="6.1" text-anchor="end" fill="#111" stroke="#111" stroke-width="0.28">Ch to Hu chimera 74-92</text>
<rect x="146.53" y="573.77" width="8.8" height="21.63" fill="#000"/>
<path d="M150.93,573.77 V569.68" stroke="#000" stroke-width="1.1"/><path d="M148.83,569.68 H153.03" stroke="#000" stroke-width="1.4" stroke-linecap="round"/>
<path d="M150.93,595.4 v3.6" stroke="#000" stroke-width="1.1"/>
<text transform="translate(152.13,605) rotate(-45)" font-size="6.1" text-anchor="end" fill="#111" stroke="#111" stroke-width="0.28">Ch to Hu chimera 73-87</text>
<rect x="159.62" y="554.09" width="8.8" height="41.31" fill="#000"/>
<path d="M164.02,554.09 V553.5" stroke="#000" stroke-width="1.1"/><path d="M161.92,553.5 H166.12" stroke="#000" stroke-width="1.4" stroke-linecap="round"/>
<path d="M164.02,595.4 v3.6" stroke="#000" stroke-width="1.1"/>
<text transform="translate(165.22,605) rotate(-45)" font-size="6.1" text-anchor="end" fill="#111" stroke="#111" stroke-width="0.28">S15N</text>
<rect x="172.71" y="536.35" width="8.8" height="59.05" fill="#000"/>
<path d="M177.11,536.35 V507.71" stroke="#000" stroke-width="1.1"/><path d="M175.01,507.71 H179.21" stroke="#000" stroke-width="1.4" stroke-linecap="round"/>
<path d="M177.11,595.4 v3.6" stroke="#000" stroke-width="1.1"/>
<text transform="translate(178.31,605) rotate(-45)" font-size="6.1" text-anchor="end" fill="#111" stroke="#111" stroke-width="0.28">S62F</text>
<rect x="185.8" y="529.14" width="8.8" height="66.26" fill="#000"/>
<path d="M190.2,529.14 V504" stroke="#000" stroke-width="1.1"/><path d="M188.1,504 H192.3" stroke="#000" stroke-width="1.4" stroke-linecap="round"/>
<path d="M190.2,595.4 v3.6" stroke="#000" stroke-width="1.1"/>
<text transform="translate(191.4,605) rotate(-45)" font-size="6.1" text-anchor="end" fill="#111" stroke="#111" stroke-width="0.28">I66L</text>
<rect x="198.89" y="514.14" width="8.8" height="81.26" fill="#000"/>
<path d="M203.29,514.14 V490.17" stroke="#000" stroke-width="1.1"/><path d="M201.19,490.17 H205.39" stroke="#000" stroke-width="1.4" stroke-linecap="round"/>
<path d="M203.29,595.4 v3.6" stroke="#000" stroke-width="1.1"/>
<text transform="translate(204.49,605) rotate(-45)" font-size="6.1" text-anchor="end" fill="#111" stroke="#111" stroke-width="0.28">S74T</text>
<path d="M214.18,594.1 H218.58" stroke="#000" stroke-width="1.1"/>
<path d="M216.38,595.4 v3.6" stroke="#000" stroke-width="1.1"/>
<text transform="translate(217.58,605) rotate(-45)" font-size="6.1" text-anchor="end" fill="#111" stroke="#111" stroke-width="0.28">L80V</text>
<rect x="225.07" y="530.7" width="8.8" height="64.7" fill="#000"/>
<path d="M229.47,530.7 V525.25" stroke="#000" stroke-width="1.1"/><path d="M227.37,525.25 H231.57" stroke="#000" stroke-width="1.4" stroke-linecap="round"/>
<path d="M229.47,595.4 v3.6" stroke="#000" stroke-width="1.1"/>
<text transform="translate(230.67,605) rotate(-45)" font-size="6.1" text-anchor="end" fill="#111" stroke="#111" stroke-width="0.28">D81E</text>
<rect x="238.16" y="541.22" width="8.8" height="54.18" fill="#000"/>
<path d="M242.56,541.22 V522.91" stroke="#000" stroke-width="1.1"/><path d="M240.46,522.91 H244.66" stroke="#000" stroke-width="1.4" stroke-linecap="round"/>
<path d="M242.56,595.4 v3.6" stroke="#000" stroke-width="1.1"/>
<text transform="translate(243.76,605) rotate(-45)" font-size="6.1" text-anchor="end" fill="#111" stroke="#111" stroke-width="0.28">L83I</text>
<rect x="251.25" y="502.05" width="8.8" height="93.35" fill="#000"/>
<path d="M255.65,502.05 V478.09" stroke="#000" stroke-width="1.1"/><path d="M253.55,478.09 H257.75" stroke="#000" stroke-width="1.4" stroke-linecap="round"/>
<path d="M255.65,595.4 v3.6" stroke="#000" stroke-width="1.1"/>
<text transform="translate(256.85,605) rotate(-45)" font-size="6.1" text-anchor="end" fill="#111" stroke="#111" stroke-width="0.28">R84K</text>
<rect x="264.34" y="497.57" width="8.8" height="97.83" fill="#000"/>
<path d="M268.74,497.57 V487.24" stroke="#000" stroke-width="1.1"/><path d="M266.64,487.24 H270.84" stroke="#000" stroke-width="1.4" stroke-linecap="round"/>
<path d="M268.74,595.4 v3.6" stroke="#000" stroke-width="1.1"/>
<text transform="translate(269.94,605) rotate(-45)" font-size="6.1" text-anchor="end" fill="#111" stroke="#111" stroke-width="0.28">K85Q</text>
<rect x="277.43" y="533.62" width="8.8" height="61.78" fill="#000"/>
<path d="M281.83,533.62 V526.8" stroke="#000" stroke-width="1.1"/><path d="M279.73,526.8 H283.93" stroke="#000" stroke-width="1.4" stroke-linecap="round"/>
<path d="M281.83,595.4 v3.6" stroke="#000" stroke-width="1.1"/>
<text transform="translate(283.03,605) rotate(-45)" font-size="6.1" text-anchor="end" fill="#111" stroke="#111" stroke-width="0.28">S87F</text>
<path d="M338.5,439.5 H579.5 V595 H338.5 Z" fill="none" stroke="#000" stroke-width="1.1"/>
<path d="M335,595 H338.5" stroke="#000" stroke-width="1"/>
<text transform="translate(333.3,597.4) scale(0.85,1)" font-size="6.6" text-anchor="end" fill="#111" stroke="#111" stroke-width="0.28">0</text>
<path d="M335,563.9 H338.5" stroke="#000" stroke-width="1"/>
<text transform="translate(333.3,566.3) scale(0.85,1)" font-size="6.6" text-anchor="end" fill="#111" stroke="#111" stroke-width="0.28">2</text>
<path d="M335,532.8 H338.5" stroke="#000" stroke-width="1"/>
<text transform="translate(333.3,535.2) scale(0.85,1)" font-size="6.6" text-anchor="end" fill="#111" stroke="#111" stroke-width="0.28">4</text>
<path d="M335,501.7 H338.5" stroke="#000" stroke-width="1"/>
<text transform="translate(333.3,504.1) scale(0.85,1)" font-size="6.6" text-anchor="end" fill="#111" stroke="#111" stroke-width="0.28">6</text>
<path d="M335,470.6 H338.5" stroke="#000" stroke-width="1"/>
<text transform="translate(333.3,473) scale(0.85,1)" font-size="6.6" text-anchor="end" fill="#111" stroke="#111" stroke-width="0.28">8</text>
<path d="M335,439.5 H338.5" stroke="#000" stroke-width="1"/>
<text transform="translate(333.3,441.9) scale(0.85,1)" font-size="6.6" text-anchor="end" fill="#111" stroke="#111" stroke-width="0.28">10</text>
<rect x="342.55" y="543.37" width="8.5" height="51.63" fill="#000"/>
<path d="M346.8,543.37 V525.49" stroke="#000" stroke-width="1.1"/><path d="M344.7,525.49 H348.9" stroke="#000" stroke-width="1.4" stroke-linecap="round"/>
<path d="M346.8,595 v3.6" stroke="#000" stroke-width="1.1"/>
<text transform="translate(348,606.4) rotate(-45)" font-size="6.1" text-anchor="end" fill="#111" stroke="#111" stroke-width="0.28">Human</text>
<path d="M357.68,593.7 H362.08" stroke="#000" stroke-width="1.1"/>
<path d="M359.88,595 v3.6" stroke="#000" stroke-width="1.1"/>
<text transform="translate(361.08,606.4) rotate(-45)" font-size="6.1" text-anchor="end" fill="#111" stroke="#111" stroke-width="0.28">Rat</text>
<path d="M370.76,593.7 H375.16" stroke="#000" stroke-width="1.1"/>
<path d="M372.96,595 v3.6" stroke="#000" stroke-width="1.1"/>
<text transform="translate(374.16,606.4) rotate(-45)" font-size="6.1" text-anchor="end" fill="#111" stroke="#111" stroke-width="0.28">Chicken</text>
<path d="M383.84,593.7 H388.24" stroke="#000" stroke-width="1.1"/>
<path d="M386.04,595 v3.6" stroke="#000" stroke-width="1.1"/>
<text transform="translate(387.24,606.4) rotate(-45)" font-size="6.1" text-anchor="end" fill="#111" stroke="#111" stroke-width="0.28">Neg Ctrl</text>
<rect x="394.87" y="541.97" width="8.5" height="53.03" fill="#000"/>
<path d="M399.12,541.97 V510.56" stroke="#000" stroke-width="1.1"/><path d="M397.02,510.56 H401.22" stroke="#000" stroke-width="1.4" stroke-linecap="round"/>
<path d="M399.12,595 v3.6" stroke="#000" stroke-width="1.1"/>
<text transform="translate(400.32,606.4) rotate(-45)" font-size="6.1" text-anchor="end" fill="#111" stroke="#111" stroke-width="0.28">S15N/S62F/I66L/L80V</text>
<rect x="407.95" y="539.33" width="8.5" height="55.67" fill="#000"/>
<path d="M412.2,539.33 V518.49" stroke="#000" stroke-width="1.1"/><path d="M410.1,518.49 H414.3" stroke="#000" stroke-width="1.4" stroke-linecap="round"/>
<path d="M412.2,595 v3.6" stroke="#000" stroke-width="1.1"/>
<text transform="translate(413.4,606.4) rotate(-45)" font-size="6.1" text-anchor="end" fill="#111" stroke="#111" stroke-width="0.28">Hu to Ch chimera 74-92</text>
<path d="M423.08,593.7 H427.48" stroke="#000" stroke-width="1.1"/>
<path d="M425.28,595 v3.6" stroke="#000" stroke-width="1.1"/>
<text transform="translate(426.48,606.4) rotate(-45)" font-size="6.1" text-anchor="end" fill="#111" stroke="#111" stroke-width="0.28">Ch to Hu chimera 74-92</text>
<path d="M436.16,593.7 H440.56" stroke="#000" stroke-width="1.1"/>
<path d="M438.36,595 v3.6" stroke="#000" stroke-width="1.1"/>
<text transform="translate(439.56,606.4) rotate(-45)" font-size="6.1" text-anchor="end" fill="#111" stroke="#111" stroke-width="0.28">Ch to Hu chimera 73-87</text>
<rect x="447.19" y="567.79" width="8.5" height="27.21" fill="#000"/>
<path d="M451.44,567.79 V564.06" stroke="#000" stroke-width="1.1"/><path d="M449.34,564.06 H453.54" stroke="#000" stroke-width="1.4" stroke-linecap="round"/>
<path d="M451.44,595 v3.6" stroke="#000" stroke-width="1.1"/>
<text transform="translate(452.64,606.4) rotate(-45)" font-size="6.1" text-anchor="end" fill="#111" stroke="#111" stroke-width="0.28">S15N</text>
<rect x="460.27" y="537.15" width="8.5" height="57.85" fill="#000"/>
<path d="M464.52,537.15 V517.25" stroke="#000" stroke-width="1.1"/><path d="M462.42,517.25 H466.62" stroke="#000" stroke-width="1.4" stroke-linecap="round"/>
<path d="M464.52,595 v3.6" stroke="#000" stroke-width="1.1"/>
<text transform="translate(465.72,606.4) rotate(-45)" font-size="6.1" text-anchor="end" fill="#111" stroke="#111" stroke-width="0.28">S62F</text>
<rect x="473.35" y="540.73" width="8.5" height="54.27" fill="#000"/>
<path d="M477.6,540.73 V529.38" stroke="#000" stroke-width="1.1"/><path d="M475.5,529.38 H479.7" stroke="#000" stroke-width="1.4" stroke-linecap="round"/>
<path d="M477.6,595 v3.6" stroke="#000" stroke-width="1.1"/>
<text transform="translate(478.8,606.4) rotate(-45)" font-size="6.1" text-anchor="end" fill="#111" stroke="#111" stroke-width="0.28">I66L</text>
<rect x="486.43" y="522.07" width="8.5" height="72.93" fill="#000"/>
<path d="M490.68,522.07 V516.32" stroke="#000" stroke-width="1.1"/><path d="M488.58,516.32 H492.78" stroke="#000" stroke-width="1.4" stroke-linecap="round"/>
<path d="M490.68,595 v3.6" stroke="#000" stroke-width="1.1"/>
<text transform="translate(491.88,606.4) rotate(-45)" font-size="6.1" text-anchor="end" fill="#111" stroke="#111" stroke-width="0.28">S74T</text>
<rect x="499.51" y="488.33" width="8.5" height="106.67" fill="#000"/>
<path d="M503.76,488.33 V479.15" stroke="#000" stroke-width="1.1"/><path d="M501.66,479.15 H505.86" stroke="#000" stroke-width="1.4" stroke-linecap="round"/>
<path d="M503.76,595 v3.6" stroke="#000" stroke-width="1.1"/>
<text transform="translate(504.96,606.4) rotate(-45)" font-size="6.1" text-anchor="end" fill="#111" stroke="#111" stroke-width="0.28">L80V</text>
<rect x="512.59" y="544.15" width="8.5" height="50.85" fill="#000"/>
<path d="M516.84,544.15 V533.42" stroke="#000" stroke-width="1.1"/><path d="M514.74,533.42 H518.94" stroke="#000" stroke-width="1.4" stroke-linecap="round"/>
<path d="M516.84,595 v3.6" stroke="#000" stroke-width="1.1"/>
<text transform="translate(518.04,606.4) rotate(-45)" font-size="6.1" text-anchor="end" fill="#111" stroke="#111" stroke-width="0.28">D81E</text>
<rect x="525.67" y="512.12" width="8.5" height="82.88" fill="#000"/>
<path d="M529.92,512.12 V502.48" stroke="#000" stroke-width="1.1"/><path d="M527.82,502.48 H532.02" stroke="#000" stroke-width="1.4" stroke-linecap="round"/>
<path d="M529.92,595 v3.6" stroke="#000" stroke-width="1.1"/>
<text transform="translate(531.12,606.4) rotate(-45)" font-size="6.1" text-anchor="end" fill="#111" stroke="#111" stroke-width="0.28">L83I</text>
<rect x="538.75" y="505.43" width="8.5" height="89.57" fill="#000"/>
<path d="M543,505.43 V480.24" stroke="#000" stroke-width="1.1"/><path d="M540.9,480.24 H545.1" stroke="#000" stroke-width="1.4" stroke-linecap="round"/>
<path d="M543,595 v3.6" stroke="#000" stroke-width="1.1"/>
<text transform="translate(544.2,606.4) rotate(-45)" font-size="6.1" text-anchor="end" fill="#111" stroke="#111" stroke-width="0.28">R84K</text>
<rect x="551.83" y="470.13" width="8.5" height="124.87" fill="#000"/>
<path d="M556.08,470.13 V447.9" stroke="#000" stroke-width="1.1"/><path d="M553.98,447.9 H558.18" stroke="#000" stroke-width="1.4" stroke-linecap="round"/>
<path d="M556.08,595 v3.6" stroke="#000" stroke-width="1.1"/>
<text transform="translate(557.28,606.4) rotate(-45)" font-size="6.1" text-anchor="end" fill="#111" stroke="#111" stroke-width="0.28">K85Q</text>
<rect x="564.91" y="491.75" width="8.5" height="103.25" fill="#000"/>
<path d="M569.16,491.75 V465.78" stroke="#000" stroke-width="1.1"/><path d="M567.06,465.78 H571.26" stroke="#000" stroke-width="1.4" stroke-linecap="round"/>
<path d="M569.16,595 v3.6" stroke="#000" stroke-width="1.1"/>
<text transform="translate(570.36,606.4) rotate(-45)" font-size="6.1" text-anchor="end" fill="#111" stroke="#111" stroke-width="0.28">S87F</text>
<text x="158.7" y="435.7" font-size="8" text-anchor="middle" fill="#e8403e" stroke="#e8403e" stroke-width="0.28">PF-07062119</text>
<text x="456" y="435.7" font-size="8" text-anchor="middle" fill="#e8403e" stroke="#e8403e" stroke-width="0.28">5F9-CD3</text>
<text x="173" y="651" font-size="8" text-anchor="middle" fill="#111" stroke="#111" stroke-width="0.28">Yeast Constructs</text>
<text x="460.6" y="651" font-size="8" text-anchor="middle" fill="#111" stroke="#111" stroke-width="0.28">Yeast Constructs</text>
<text transform="translate(23.2,509.5) rotate(-90)" font-size="8.05" text-anchor="middle" fill="#111" stroke="#111" stroke-width="0.28">Ratio of</text>
<text transform="translate(33.9,509) rotate(-91.2)" font-size="8.05" text-anchor="middle" fill="#111" stroke="#111" stroke-width="0.28">MFI PF-07062119/ MFI V5</text>
<text transform="translate(324.9,517.6) rotate(-90)" font-size="8.05" text-anchor="middle" fill="#111" stroke="#111" stroke-width="0.28">Ratio of MFI 5F9-CD3/ MFI V5</text>
<text transform="translate(74.9,547.9) rotate(-90)" font-size="8" text-anchor="middle" fill="#111" stroke="#111" stroke-width="0.28">P=0.02</text>
<text transform="translate(139.2,545.5) rotate(-90)" font-size="8" text-anchor="middle" fill="#111" stroke="#111" stroke-width="0.28">P=0.01</text>
<text transform="translate(153.4,544.5) rotate(-90)" font-size="8" text-anchor="middle" fill="#111" stroke="#111" stroke-width="0.28">P=0.099</text>
<text transform="translate(216.8,550.1) rotate(-90)" font-size="8" text-anchor="middle" fill="#111" stroke="#111" stroke-width="0.28">P&lt;0.0001</text>
<text x="105.7" y="560.3" font-size="8" text-anchor="middle" fill="#111" stroke="#111" stroke-width="0.28">P&lt;0.0001</text>
<path d="M82.6,572 V567.1 H128.6 V572 M105.8,567.1 V564.3" fill="none" stroke="#000" stroke-width="1.25"/>
<text x="372.1" y="552.4" font-size="7.9" text-anchor="middle" fill="#111" stroke="#111" stroke-width="0.28">P=0.004</text>
<path d="M354.4,566.5 V561.2 H391 V566.5 M373.2,561.2 V558.5" fill="none" stroke="#000" stroke-width="1.25"/>
<text x="433.4" y="557" font-size="7.9" text-anchor="middle" fill="#111" stroke="#111" stroke-width="0.28">P=0.004</text>
<path d="M421,567.1 V562.5 H440 V567.1 M430.5,562.5 V559.2" fill="none" stroke="#000" stroke-width="1.25"/>
<text transform="translate(552.4,454.7) rotate(-90)" font-size="6.6" text-anchor="middle" fill="#111" stroke="#111" stroke-width="0.28">P&lt;0.0001</text>
<text transform="translate(567.3,455.7) rotate(-90)" font-size="6.6" text-anchor="middle" fill="#111" stroke="#111" stroke-width="0.28">P=0.004</text>
<path d="M500.2,473.4 h1.3 M502.2,473.4 h1.3 M504.2,473.4 h1.3 M506,473.4 h1.2" stroke="#777" stroke-width="1.2"/>
</svg>
</body></html>
